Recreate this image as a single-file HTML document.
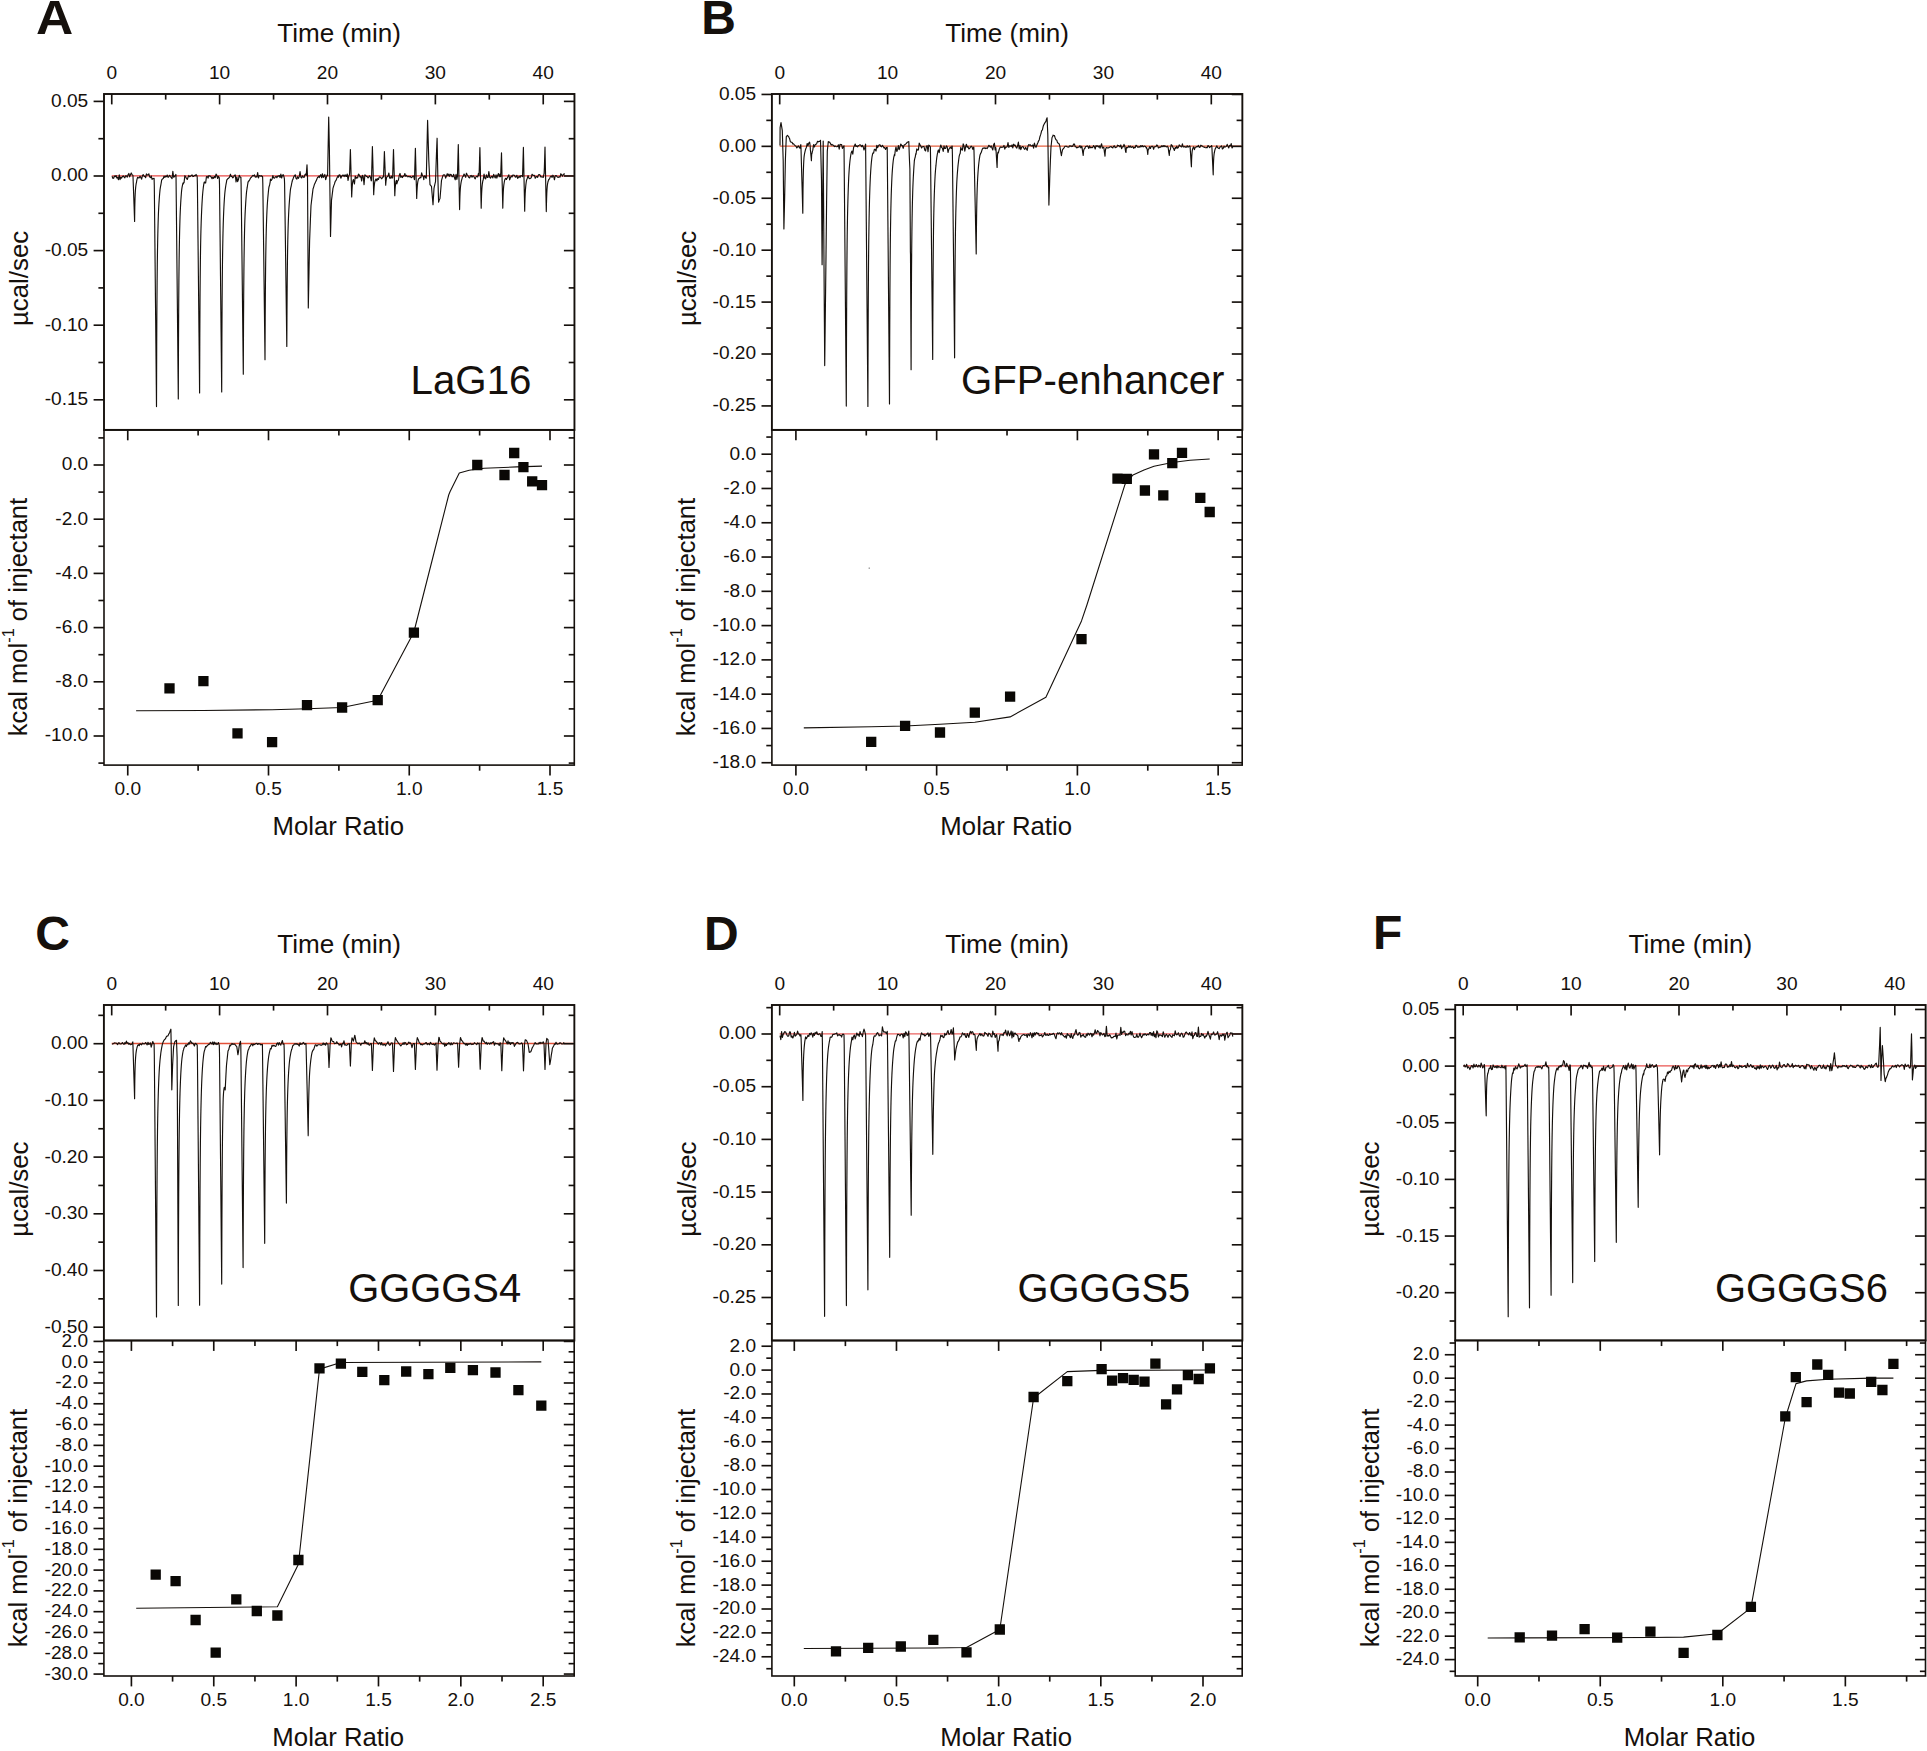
<!DOCTYPE html>
<html><head><meta charset="utf-8"><title>ITC figure</title>
<style>
html,body{margin:0;padding:0;background:#fff;}
body{width:1927px;height:1751px;overflow:hidden;}
svg{display:block;}
svg text{font-family:"Liberation Sans",Arial,Helvetica,sans-serif;fill:#15100c;}
</style></head><body>
<svg width="1927" height="1751" viewBox="0 0 1927 1751">
<rect width="1927" height="1751" fill="#ffffff"/>
<rect x="104" y="429.9" width="470.3" height="335.2" fill="none" stroke="#15100c" stroke-width="1.6"/>
<rect x="104" y="94" width="470.45" height="335.9" fill="none" stroke="#15100c" stroke-width="1.9"/>
<line x1="111.75" y1="175.8" x2="573.3" y2="175.8" stroke="#e84846" stroke-width="1.3"/>
<line x1="111.75" y1="94" x2="111.75" y2="104.4" stroke="#15100c" stroke-width="1.65"/>
<text x="111.75" y="79.3" font-size="19.1" text-anchor="middle">0</text>
<line x1="165.69" y1="94" x2="165.69" y2="99.6" stroke="#15100c" stroke-width="1.65"/>
<line x1="219.62" y1="94" x2="219.62" y2="104.4" stroke="#15100c" stroke-width="1.65"/>
<text x="219.62" y="79.3" font-size="19.1" text-anchor="middle">10</text>
<line x1="273.56" y1="94" x2="273.56" y2="99.6" stroke="#15100c" stroke-width="1.65"/>
<line x1="327.49" y1="94" x2="327.49" y2="104.4" stroke="#15100c" stroke-width="1.65"/>
<text x="327.49" y="79.3" font-size="19.1" text-anchor="middle">20</text>
<line x1="381.43" y1="94" x2="381.43" y2="99.6" stroke="#15100c" stroke-width="1.65"/>
<line x1="435.36" y1="94" x2="435.36" y2="104.4" stroke="#15100c" stroke-width="1.65"/>
<text x="435.36" y="79.3" font-size="19.1" text-anchor="middle">30</text>
<line x1="489.3" y1="94" x2="489.3" y2="99.6" stroke="#15100c" stroke-width="1.65"/>
<line x1="543.23" y1="94" x2="543.23" y2="104.4" stroke="#15100c" stroke-width="1.65"/>
<text x="543.23" y="79.3" font-size="19.1" text-anchor="middle">40</text>
<line x1="93.6" y1="101.4" x2="104" y2="101.4" stroke="#15100c" stroke-width="1.65"/>
<line x1="563.9" y1="101.4" x2="574.3" y2="101.4" stroke="#15100c" stroke-width="1.65"/>
<text x="88.2" y="106.85" font-size="19.1" text-anchor="end">0.05</text>
<line x1="93.6" y1="176" x2="104" y2="176" stroke="#15100c" stroke-width="1.65"/>
<line x1="563.9" y1="176" x2="574.3" y2="176" stroke="#15100c" stroke-width="1.65"/>
<text x="88.2" y="181.45" font-size="19.1" text-anchor="end">0.00</text>
<line x1="93.6" y1="250.6" x2="104" y2="250.6" stroke="#15100c" stroke-width="1.65"/>
<line x1="563.9" y1="250.6" x2="574.3" y2="250.6" stroke="#15100c" stroke-width="1.65"/>
<text x="88.2" y="256.05" font-size="19.1" text-anchor="end">-0.05</text>
<line x1="93.6" y1="325.2" x2="104" y2="325.2" stroke="#15100c" stroke-width="1.65"/>
<line x1="563.9" y1="325.2" x2="574.3" y2="325.2" stroke="#15100c" stroke-width="1.65"/>
<text x="88.2" y="330.65" font-size="19.1" text-anchor="end">-0.10</text>
<line x1="93.6" y1="399.8" x2="104" y2="399.8" stroke="#15100c" stroke-width="1.65"/>
<line x1="563.9" y1="399.8" x2="574.3" y2="399.8" stroke="#15100c" stroke-width="1.65"/>
<text x="88.2" y="405.25" font-size="19.1" text-anchor="end">-0.15</text>
<line x1="98.4" y1="138.7" x2="104" y2="138.7" stroke="#15100c" stroke-width="1.65"/>
<line x1="568.7" y1="138.7" x2="574.3" y2="138.7" stroke="#15100c" stroke-width="1.65"/>
<line x1="98.4" y1="213.3" x2="104" y2="213.3" stroke="#15100c" stroke-width="1.65"/>
<line x1="568.7" y1="213.3" x2="574.3" y2="213.3" stroke="#15100c" stroke-width="1.65"/>
<line x1="98.4" y1="287.9" x2="104" y2="287.9" stroke="#15100c" stroke-width="1.65"/>
<line x1="568.7" y1="287.9" x2="574.3" y2="287.9" stroke="#15100c" stroke-width="1.65"/>
<line x1="98.4" y1="362.5" x2="104" y2="362.5" stroke="#15100c" stroke-width="1.65"/>
<line x1="568.7" y1="362.5" x2="574.3" y2="362.5" stroke="#15100c" stroke-width="1.65"/>
<line x1="127.75" y1="429.9" x2="127.75" y2="440.3" stroke="#15100c" stroke-width="1.65"/>
<line x1="127.75" y1="765.1" x2="127.75" y2="775.5" stroke="#15100c" stroke-width="1.65"/>
<text x="127.75" y="795.2" font-size="19.1" text-anchor="middle">0.0</text>
<line x1="198.12" y1="429.9" x2="198.12" y2="435.5" stroke="#15100c" stroke-width="1.65"/>
<line x1="198.12" y1="765.1" x2="198.12" y2="770.7" stroke="#15100c" stroke-width="1.65"/>
<line x1="268.5" y1="429.9" x2="268.5" y2="440.3" stroke="#15100c" stroke-width="1.65"/>
<line x1="268.5" y1="765.1" x2="268.5" y2="775.5" stroke="#15100c" stroke-width="1.65"/>
<text x="268.5" y="795.2" font-size="19.1" text-anchor="middle">0.5</text>
<line x1="338.88" y1="429.9" x2="338.88" y2="435.5" stroke="#15100c" stroke-width="1.65"/>
<line x1="338.88" y1="765.1" x2="338.88" y2="770.7" stroke="#15100c" stroke-width="1.65"/>
<line x1="409.25" y1="429.9" x2="409.25" y2="440.3" stroke="#15100c" stroke-width="1.65"/>
<line x1="409.25" y1="765.1" x2="409.25" y2="775.5" stroke="#15100c" stroke-width="1.65"/>
<text x="409.25" y="795.2" font-size="19.1" text-anchor="middle">1.0</text>
<line x1="479.62" y1="429.9" x2="479.62" y2="435.5" stroke="#15100c" stroke-width="1.65"/>
<line x1="479.62" y1="765.1" x2="479.62" y2="770.7" stroke="#15100c" stroke-width="1.65"/>
<line x1="550" y1="429.9" x2="550" y2="440.3" stroke="#15100c" stroke-width="1.65"/>
<line x1="550" y1="765.1" x2="550" y2="775.5" stroke="#15100c" stroke-width="1.65"/>
<text x="550" y="795.2" font-size="19.1" text-anchor="middle">1.5</text>
<line x1="93.6" y1="465" x2="104" y2="465" stroke="#15100c" stroke-width="1.65"/>
<line x1="563.9" y1="465" x2="574.3" y2="465" stroke="#15100c" stroke-width="1.65"/>
<text x="88.2" y="470.45" font-size="19.1" text-anchor="end">0.0</text>
<line x1="93.6" y1="519.2" x2="104" y2="519.2" stroke="#15100c" stroke-width="1.65"/>
<line x1="563.9" y1="519.2" x2="574.3" y2="519.2" stroke="#15100c" stroke-width="1.65"/>
<text x="88.2" y="524.65" font-size="19.1" text-anchor="end">-2.0</text>
<line x1="93.6" y1="573.4" x2="104" y2="573.4" stroke="#15100c" stroke-width="1.65"/>
<line x1="563.9" y1="573.4" x2="574.3" y2="573.4" stroke="#15100c" stroke-width="1.65"/>
<text x="88.2" y="578.85" font-size="19.1" text-anchor="end">-4.0</text>
<line x1="93.6" y1="627.6" x2="104" y2="627.6" stroke="#15100c" stroke-width="1.65"/>
<line x1="563.9" y1="627.6" x2="574.3" y2="627.6" stroke="#15100c" stroke-width="1.65"/>
<text x="88.2" y="633.05" font-size="19.1" text-anchor="end">-6.0</text>
<line x1="93.6" y1="681.8" x2="104" y2="681.8" stroke="#15100c" stroke-width="1.65"/>
<line x1="563.9" y1="681.8" x2="574.3" y2="681.8" stroke="#15100c" stroke-width="1.65"/>
<text x="88.2" y="687.25" font-size="19.1" text-anchor="end">-8.0</text>
<line x1="93.6" y1="736" x2="104" y2="736" stroke="#15100c" stroke-width="1.65"/>
<line x1="563.9" y1="736" x2="574.3" y2="736" stroke="#15100c" stroke-width="1.65"/>
<text x="88.2" y="741.45" font-size="19.1" text-anchor="end">-10.0</text>
<line x1="98.4" y1="437.9" x2="104" y2="437.9" stroke="#15100c" stroke-width="1.65"/>
<line x1="568.7" y1="437.9" x2="574.3" y2="437.9" stroke="#15100c" stroke-width="1.65"/>
<line x1="98.4" y1="492.1" x2="104" y2="492.1" stroke="#15100c" stroke-width="1.65"/>
<line x1="568.7" y1="492.1" x2="574.3" y2="492.1" stroke="#15100c" stroke-width="1.65"/>
<line x1="98.4" y1="546.3" x2="104" y2="546.3" stroke="#15100c" stroke-width="1.65"/>
<line x1="568.7" y1="546.3" x2="574.3" y2="546.3" stroke="#15100c" stroke-width="1.65"/>
<line x1="98.4" y1="600.5" x2="104" y2="600.5" stroke="#15100c" stroke-width="1.65"/>
<line x1="568.7" y1="600.5" x2="574.3" y2="600.5" stroke="#15100c" stroke-width="1.65"/>
<line x1="98.4" y1="654.7" x2="104" y2="654.7" stroke="#15100c" stroke-width="1.65"/>
<line x1="568.7" y1="654.7" x2="574.3" y2="654.7" stroke="#15100c" stroke-width="1.65"/>
<line x1="98.4" y1="708.9" x2="104" y2="708.9" stroke="#15100c" stroke-width="1.65"/>
<line x1="568.7" y1="708.9" x2="574.3" y2="708.9" stroke="#15100c" stroke-width="1.65"/>
<line x1="98.4" y1="763.1" x2="104" y2="763.1" stroke="#15100c" stroke-width="1.65"/>
<line x1="568.7" y1="763.1" x2="574.3" y2="763.1" stroke="#15100c" stroke-width="1.65"/>
<text x="339.2" y="41.9" font-size="26.1" text-anchor="middle">Time (min)</text>
<text x="338.3" y="834.9" font-size="25.75" text-anchor="middle">Molar Ratio</text>
<text x="27.8" y="326" font-size="25.8" transform="rotate(-90 27.8 326)">µcal/sec</text>
<text x="27.4" y="736.3" font-size="25.5" transform="rotate(-90 27.4 736.3)">kcal mol<tspan font-size="16.3" dy="-13.7">-1</tspan><tspan dy="13.7"> of injectant</tspan></text>
<text transform="translate(35.9 34) scale(1.075 1)" font-size="48" font-weight="bold">A</text>
<text x="410.5" y="393.8" font-size="40.3">LaG16</text>
<path d="M112.05 176.19 L112.85 178.32 L113.65 178.23 L114.45 176 L115.25 176.53 L116.05 175.52 L116.85 178.01 L117.65 177.33 L118.45 179.71 L119.25 174.85 L120.05 179.69 L120.85 177.18 L121.65 178.03 L122.45 176.53 L123.25 175.94 L124.05 177.02 L124.85 177.81 L125.65 175.8 L126.45 175.94 L127.25 177.19 L128.05 174.73 L128.85 173.45 L129.65 176.84 L130.45 174.8 L131.25 172.97 L131.6 173.68 L131.8 174.08 L132 174.48 L132.05 174.58 L132.2 174.69 L132.4 174.84 L132.6 174.99 L132.8 175.14 L132.85 175.17 L133 176.22 L133.2 181.96 L133.4 187.28 L133.6 192.73 L133.65 194.11 L133.75 196.91 L133.8 198.31 L134 203.97 L134.2 209.69 L134.4 215.45 L134.45 216.89 L134.6 221.43 L134.8 207.03 L135 198.86 L135.2 193.87 L135.25 192.93 L135.4 190.51 L135.6 188.08 L135.8 186.24 L135.9 185.47 L136 184.79 L136.05 184.47 L136.2 183.43 L136.4 182.84 L136.6 181.52 L136.8 180.35 L136.85 180.07 L137 179.45 L137.2 178.7 L137.4 178.04 L137.6 177.45 L137.65 177.31 L137.8 177.36 L138 177.46 L138.2 177.62 L138.4 177.8 L138.45 177.85 L138.6 177.83 L138.8 177.82 L139 177.83 L139.2 177.86 L139.25 177.87 L139.4 177.54 L139.6 177.1 L139.8 176.68 L140 176.27 L140.05 176.17 L140.2 176.43 L140.4 176.79 L140.6 177.15 L140.8 177.52 L140.85 177.61 L141 177.89 L141.2 178.26 L141.4 178.64 L141.6 179.02 L141.65 179.11 L141.8 178.45 L142 177.57 L142.2 176.69 L142.4 175.82 L142.45 175.6 L142.6 175.41 L142.8 175.16 L143 174.92 L143.2 174.67 L143.25 174.61 L143.4 174.94 L144.05 176.38 L144.85 176.41 L145.65 177.68 L146.45 173.94 L147.25 175.02 L148.05 174.86 L148.85 173.81 L149.65 176.91 L150.45 177.7 L151.25 175.95 L152.05 179.39 L152.85 178.56 L153.5 178.64 L153.65 178.66 L153.7 178.62 L153.9 178.46 L154.1 178.29 L154.3 185.31 L154.45 199.13 L154.5 203.87 L154.7 223.21 L154.9 242.95 L155.1 262.97 L155.25 278.14 L155.3 283.11 L155.5 303.12 L155.65 318.24 L155.7 323.29 L155.9 343.6 L156.05 358.91 L156.1 364.18 L156.3 385.32 L156.5 406.56 L156.7 346.85 L156.85 316.61 L156.9 308.39 L157.1 282.37 L157.3 263.98 L157.5 250.33 L157.65 242.17 L157.7 239.67 L157.8 235.04 L157.9 230.84 L158.1 223.48 L158.3 217.21 L158.45 213.08 L158.5 211.94 L158.7 207.79 L158.9 204.2 L159.1 201.1 L159.25 199.05 L159.3 198.32 L159.5 195.61 L159.7 193.22 L159.9 191.1 L160.05 189.66 L160.1 189.29 L160.3 187.92 L160.5 186.73 L160.7 185.7 L160.85 185.03 L160.9 184.71 L161.1 183.51 L161.3 182.41 L161.5 181.17 L161.65 180.13 L161.7 180.03 L161.9 179.67 L162.1 179.38 L162.3 179.15 L162.45 179.01 L162.5 178.96 L162.7 178.78 L162.9 178.64 L163.1 178.54 L163.25 178.48 L163.3 178.32 L163.5 177.69 L163.7 177.09 L163.9 176.51 L164.05 176.09 L164.1 176.17 L164.3 176.51 L164.5 176.87 L164.7 177.24 L164.85 177.52 L164.9 177.43 L165.1 177.07 L165.3 176.72 L165.65 176.12 L166.45 176.74 L167.25 175.12 L168.05 177.41 L168.85 176.52 L169.65 175.23 L170.45 176.53 L171.25 177.72 L172.05 178.67 L172.85 171.42 L173.65 177.24 L174.45 176.51 L175.25 175.46 L175.3 175.38 L175.5 175.07 L175.7 174.76 L175.9 174.45 L176.05 178.22 L176.1 183.75 L176.3 202.04 L176.5 221 L176.7 240.34 L176.85 255.04 L176.9 259.81 L177.1 279.01 L177.3 298.39 L177.45 313.03 L177.5 317.92 L177.65 332.66 L177.7 337.73 L177.9 358.06 L178.1 378.49 L178.3 399.02 L178.45 353.28 L178.5 341.21 L178.7 304.05 L178.9 279.1 L179.1 261.54 L179.25 251.48 L179.3 248.37 L179.5 237.6 L179.6 233.01 L179.7 228.84 L179.9 221.49 L180.05 216.69 L180.1 215.38 L180.3 210.63 L180.5 206.53 L180.7 202.99 L180.85 200.64 L180.9 199.83 L181.1 196.86 L181.3 194.23 L181.5 191.9 L181.65 190.32 L181.7 189.92 L181.9 188.44 L182.1 187.16 L182.3 186.06 L182.45 185.34 L182.5 185.1 L182.7 184.21 L182.9 183.45 L183.1 182.8 L183.25 183.91 L183.3 183.79 L183.5 183.37 L183.7 183.03 L183.9 182.75 L184.05 182.57 L184.1 182.12 L184.3 180.35 L184.5 178.63 L184.7 176.94 L184.85 175.7 L184.9 175.76 L185.1 175.99 L185.3 176.25 L185.5 176.53 L185.65 176.76 L185.7 176.86 L185.9 177.27 L186.1 177.69 L186.3 178.13 L186.45 178.47 L186.5 178.53 L186.7 178.76 L186.9 179.01 L187.1 179.26 L187.25 179.45 L188.05 177.29 L188.85 175.45 L189.65 176.71 L190.45 176.18 L191.25 175.57 L192.05 174.96 L192.85 176.55 L193.65 176.4 L194.45 175.41 L195.25 175.84 L196.05 174.43 L196.6 175.31 L196.8 175.63 L196.85 175.71 L197 176.21 L197.2 176.88 L197.4 184.59 L197.6 202.28 L197.65 206.82 L197.8 220.32 L198 238.64 L198.2 257.23 L198.4 276.02 L198.45 280.75 L198.6 294.99 L198.75 309.32 L198.8 314.11 L199 333.36 L199.2 352.72 L199.25 357.58 L199.4 372.7 L199.6 392.95 L199.8 337.16 L200 301.39 L200.05 294.53 L200.2 276.9 L200.4 259.37 L200.6 246.3 L200.8 236.11 L200.85 233.9 L200.9 231.9 L201 228.21 L201.2 221.8 L201.4 216.42 L201.6 211.83 L201.65 210.79 L201.8 207.52 L202 203.61 L202.2 200.16 L202.4 197.09 L202.45 196.38 L202.6 194.49 L202.8 192.23 L203 190.22 L203.2 188.44 L203.25 188.03 L203.4 186.84 L203.6 185.42 L203.8 184.14 L204 183 L204.05 182.74 L204.2 182.35 L204.4 181.95 L204.6 182.3 L204.8 182.74 L204.85 182.86 L205 182.79 L205.2 182.76 L205.4 182.79 L205.6 182.86 L205.65 182.89 L205.8 181.68 L206 180.11 L206.2 178.57 L206.4 177.06 L206.45 176.68 L206.6 176.61 L206.8 176.52 L207 176.46 L207.2 176.42 L207.25 176.41 L207.4 176.72 L207.6 177.14 L207.8 177.57 L208 178.02 L208.05 178.13 L208.2 177.65 L208.4 177.02 L208.85 175.62 L209.65 176.02 L210.45 176.11 L211.25 177.13 L212.05 178.71 L212.85 177.08 L213.65 178.33 L214.45 176.41 L215.25 177.66 L216.05 174.03 L216.85 175.37 L217.65 178.53 L218.45 176.32 L218.7 176.74 L218.9 177.07 L219.1 177.41 L219.25 177.66 L219.3 177.65 L219.5 184.58 L219.7 201.94 L219.9 219.95 L220.05 233.7 L220.1 238.35 L220.3 257.11 L220.5 276.07 L220.7 295.21 L220.85 309.66 L220.9 314.44 L221.1 333.66 L221.3 353 L221.5 372.44 L221.65 387.08 L221.7 392.02 L221.9 337.74 L222.1 302.27 L222.3 278.15 L222.45 264.79 L222.5 260.89 L222.7 247.75 L222.9 237.47 L223 233.1 L223.1 229.14 L223.25 223.82 L223.3 222.24 L223.5 216.52 L223.7 211.6 L223.9 207.32 L224.05 204.46 L224.1 203.56 L224.3 200.26 L224.5 197.33 L224.7 194.74 L224.85 192.99 L224.9 192.49 L225.1 190.63 L225.3 189 L225.5 187.56 L225.65 186.61 L225.7 186.26 L225.9 184.99 L226.1 183.85 L226.3 182.83 L226.45 182.14 L226.5 181.96 L226.7 180.3 L226.9 179.89 L227.1 179.55 L227.25 179.34 L227.3 179.27 L227.5 179.02 L227.7 178.81 L227.9 178.66 L228.05 178.57 L228.1 178.52 L228.3 178.35 L228.5 178.22 L228.7 178.11 L228.85 178.05 L228.9 177.96 L229.1 177.65 L229.3 177.35 L229.5 177.07 L229.65 176.87 L229.7 176.7 L229.9 176.01 L230.1 175.34 L230.3 174.68 L230.45 174.19 L230.5 174.33 L231.25 176.55 L232.05 176.64 L232.85 177.88 L233.65 176.87 L234.45 175.22 L235.25 174.94 L236.05 181.83 L236.85 177.16 L237.65 181.57 L238.45 179.54 L239.25 175.31 L240.05 177.02 L240.3 177.09 L240.5 177.14 L240.7 177.2 L240.85 177.24 L240.9 177.23 L241.1 183.77 L241.3 199.71 L241.5 216.24 L241.65 228.88 L241.7 233.13 L241.9 250.28 L242.1 267.62 L242.3 285.13 L242.45 298.34 L242.5 302.75 L242.7 320.46 L242.9 338.27 L243.1 356.18 L243.25 369.66 L243.3 374.17 L243.5 325.63 L243.7 293.42 L243.9 271.24 L244.05 258.85 L244.1 255.21 L244.3 242.91 L244.5 233.23 L244.6 229.11 L244.7 225.35 L244.85 220.31 L244.9 218.95 L245.1 214.06 L245.3 209.91 L245.5 206.35 L245.65 204 L245.7 203.14 L245.9 199.95 L246.1 197.11 L246.3 194.58 L246.45 192.85 L246.5 192.41 L246.7 190.75 L246.9 189.31 L247.1 188.05 L247.25 187.21 L247.3 186.85 L247.5 185.5 L247.7 184.27 L247.9 183.17 L248.05 182.4 L248.1 182.25 L248.3 181.25 L248.5 181.16 L248.7 181.14 L248.85 181.16 L248.9 181.06 L249.1 180.67 L249.3 180.34 L249.5 180.05 L249.65 179.86 L249.7 179.75 L249.9 179.3 L250.1 178.89 L250.3 178.5 L250.45 178.23 L250.5 178.16 L250.7 177.92 L250.9 177.69 L251.1 177.48 L251.25 177.33 L251.3 177.27 L251.5 177.02 L251.7 176.78 L251.9 176.55 L252.05 176.39 L252.1 176.33 L252.85 175.42 L253.65 175.86 L254.45 174.87 L255.25 177.15 L256.05 176.63 L256.85 177.01 L257.65 172.57 L258.45 177.98 L259.25 175.62 L260.05 175.81 L260.85 176.15 L261.65 175.71 L262 176.23 L262.2 176.53 L262.4 176.83 L262.45 176.9 L262.6 176.59 L262.8 182.9 L263 197.58 L263.2 212.81 L263.25 216.67 L263.4 228.44 L263.6 244.32 L263.8 260.38 L264 276.59 L264.05 280.66 L264.15 288.86 L264.2 292.97 L264.4 309.48 L264.6 326.08 L264.8 342.77 L264.85 346.95 L265 359.73 L265.2 317.35 L265.4 288.61 L265.6 268.5 L265.65 264.43 L265.8 253.6 L266 242.22 L266.2 233.28 L266.3 229.47 L266.4 226.02 L266.45 224.41 L266.6 219.96 L266.8 214.81 L267 210.34 L267.2 206.42 L267.25 205.52 L267.4 203.21 L267.6 200.45 L267.8 198.03 L268 195.88 L268.05 195.38 L268.2 193.7 L268.4 191.64 L268.6 189.77 L268.8 188.08 L268.85 187.68 L269 187.02 L269.2 186.26 L269.4 185.62 L269.6 185.08 L269.65 184.97 L269.8 184.03 L270 182.87 L270.2 181.78 L270.4 179.53 L270.45 179.11 L270.6 179.28 L270.8 179.56 L271 179.89 L271.2 180.27 L271.25 180.37 L271.4 180.11 L271.6 179.8 L271.8 179.52 L272 179.28 L272.05 179.22 L272.2 178.51 L272.4 177.57 L272.6 176.66 L272.8 175.77 L272.85 175.55 L273 175.98 L273.2 176.56 L273.4 177.16 L273.6 177.77 L273.65 177.93 L273.8 177.97 L274.45 178.21 L275.25 177.05 L276.05 176.42 L276.85 177.75 L277.65 176.17 L278.45 176.25 L279.25 175.5 L280.05 177.58 L280.85 174.16 L281.65 178.02 L282.45 175.17 L283.25 174.71 L283.8 176.26 L284 176.83 L284.05 176.97 L284.2 177.79 L284.4 178.88 L284.6 183.72 L284.8 197.84 L284.85 201.46 L285 211.93 L285.2 226.13 L285.4 240.54 L285.6 255.12 L285.65 258.79 L285.8 269.95 L285.95 281.18 L286 284.93 L286.2 300.02 L286.4 315.19 L286.45 319 L286.6 330.71 L286.8 346.4 L287 309.12 L287.2 283.25 L287.25 278.05 L287.4 264.57 L287.6 250.7 L287.8 240.1 L288 231.73 L288.05 229.9 L288.1 228.2 L288.2 225.03 L288.4 219.5 L288.6 214.8 L288.8 210.76 L288.85 209.83 L289 207.22 L289.2 204.11 L289.4 201.34 L289.6 198.88 L289.65 198.3 L289.8 196.42 L290 194.1 L290.2 191.98 L290.4 190.03 L290.45 189.57 L290.6 188.71 L290.8 187.68 L291 186.78 L291.2 186 L291.25 185.82 L291.4 184.98 L291.6 183.95 L291.8 183 L292 182.13 L292.05 181.92 L292.2 181.5 L292.4 180.17 L292.6 179.86 L292.8 179.61 L292.85 179.55 L293 179.05 L293.2 178.42 L293.4 177.82 L293.6 177.26 L293.65 177.13 L293.8 176.85 L294 176.5 L294.2 176.18 L294.4 175.88 L294.45 175.81 L294.6 175.6 L294.8 175.34 L295 175.1 L295.2 174.87 L295.25 174.81 L295.4 175.47 L295.6 176.36 L296.05 178.4 L296.85 179.14 L297.65 176.7 L298.45 178.37 L299.25 176.45 L300.05 171.69 L300.85 177.01 L301.65 177.95 L302.45 175.94 L303.25 177.03 L304.05 177.5 L304.85 174.85 L305.65 174.01 L306.2 175.41 L306.45 172.27 L306.6 170.25 L307 164.87 L307.25 170.31 L307.4 173.63 L307.5 175.84 L307.8 225.33 L308.05 266.57 L308.2 291.44 L308.3 308.02 L308.6 292.62 L308.85 279.79 L309 272.02 L309.4 251.3 L309.6 240.94 L309.65 239.71 L309.8 235.79 L310.2 225.34 L310.45 218.81 L310.6 215.18 L311 205.48 L311.25 203.55 L311.4 202.29 L311.8 198.93 L312.05 196.83 L312.2 195.61 L312.6 192.34 L312.85 190.29 L313 188.99 L313.4 187.84 L313.65 187.12 L313.8 186.6 L314.2 185.21 L314.45 184.34 L314.6 184.02 L315 183.17 L315.25 182.64 L315.4 182.32 L315.8 181.47 L316 181.05 L316.05 181 L316.2 180.66 L316.6 179.74 L316.85 179.17 L317 178.82 L317.4 177.88 L317.65 177.29 L317.8 177.2 L318.2 176.96 L318.45 176.81 L318.6 176.6 L319 176.06 L319.25 177.61 L320.05 176 L320.85 174.65 L321.65 177.78 L322.45 173.73 L323.25 177.48 L324.05 176.14 L324.85 174.47 L325.65 179.75 L326.45 176.97 L327.25 174.81 L327.6 175.58 L328 154.66 L328.05 152.04 L328.4 133.19 L328.7 117.03 L328.8 121.69 L328.85 124.01 L329.2 140.21 L329.4 149.46 L329.6 165.07 L329.65 168.97 L330 196.79 L330.4 228.59 L330.45 232.57 L330.5 236.54 L330.8 225.66 L331.2 211.15 L331.25 209.34 L331.5 200.2 L331.6 199.42 L332 196.31 L332.05 195.92 L332.4 193.07 L332.8 189.81 L332.85 189.4 L333 188.18 L333.2 187.55 L333.6 186.29 L333.65 186.13 L334 185.17 L334.4 184.08 L334.45 183.94 L334.8 182.74 L335 182.06 L335.2 181.55 L335.25 181.42 L335.6 180.97 L336 180.45 L336.05 180.38 L336.4 179.44 L336.8 178.37 L336.85 178.24 L337.2 177.5 L337.6 176.65 L337.65 176.54 L338 175.87 L338.45 177.25 L339.25 174.76 L340.05 174.97 L340.85 178.22 L341.65 176.25 L342.45 175.22 L343.25 176.03 L344.05 174.97 L344.85 176.55 L345.65 174.92 L346.45 176.48 L347.25 174.05 L347.4 175.25 L347.6 176.84 L347.8 178.44 L348 180.03 L348.05 180.43 L348.2 179.54 L348.4 178.36 L348.6 177.18 L348.8 176 L348.85 175.7 L349 175.46 L349.2 175.13 L349.4 174.81 L349.55 174.56 L349.6 172.92 L349.65 172.39 L349.8 167.82 L350 161.72 L350.2 155.63 L350.4 149.53 L350.45 151.39 L350.6 156.84 L350.8 164.1 L351 171.37 L351.2 179.07 L351.25 180.45 L351.4 185.94 L351.6 193.26 L351.7 196.92 L351.8 194.22 L352 190.08 L352.05 189.26 L352.2 186.93 L352.4 184.51 L352.6 182.65 L352.8 181.18 L352.85 180.86 L353 180.39 L353.2 179.93 L353.4 179.61 L353.6 180.63 L353.65 180.77 L353.8 181.31 L354 182.09 L354.2 182.92 L354.4 183.8 L354.45 184.03 L354.6 182.51 L354.8 180.51 L355 178.54 L355.2 176.59 L355.25 176.1 L355.4 176.51 L355.6 177.07 L355.8 177.64 L356 178.22 L356.05 178.37 L356.2 178.16 L356.4 177.89 L356.6 177.63 L356.8 177.38 L356.85 177.32 L357 177.43 L357.2 177.58 L357.4 177.74 L357.6 177.9 L357.65 177.94 L357.8 177.21 L358 176.24 L358.2 175.27 L358.4 174.3 L358.45 174.06 L358.6 174.23 L358.8 174.47 L359 174.7 L359.2 174.94 L359.25 175 L360.05 177.14 L360.85 176.25 L361.65 181.04 L362.45 175.33 L363.25 176.78 L364.05 184.59 L364.85 174.91 L365.65 175.37 L366.45 176.53 L367.25 176.65 L368.05 177.98 L368.85 176.9 L369.4 176.15 L369.6 175.88 L369.65 175.81 L369.8 176.08 L370 176.42 L370.2 176.77 L370.4 177.12 L370.45 177.21 L370.6 177.89 L370.8 178.81 L371 179.73 L371.2 180.64 L371.25 180.87 L371.4 180.53 L371.55 180.18 L371.6 178.32 L371.8 168.37 L372 161.27 L372.05 159.49 L372.2 153.91 L372.4 146.46 L372.6 153.4 L372.8 160.33 L372.85 162.06 L373 167.83 L373.2 174.28 L373.4 183.22 L373.6 190.92 L373.65 192.84 L373.7 194.68 L373.8 192.48 L374 188.96 L374.2 186.33 L374.4 184.33 L374.45 183.91 L374.6 182.96 L374.8 181.98 L375 181.24 L375.2 180.67 L375.25 180.55 L375.4 180.07 L375.6 179.5 L375.8 179.6 L376 179.02 L376.05 178.88 L376.2 179.21 L376.4 179.69 L376.6 180.2 L376.8 180.74 L376.85 180.88 L377 180.44 L377.2 179.86 L377.4 179.31 L377.6 178.77 L377.65 178.64 L377.8 178.78 L378 178.98 L378.2 179.19 L378.4 179.41 L378.45 179.47 L378.6 179.02 L378.8 178.41 L379 177.82 L379.2 177.23 L379.25 177.08 L379.4 177.04 L379.6 176.98 L379.8 176.92 L380 176.87 L380.05 176.85 L380.2 177 L380.4 177.19 L380.6 177.38 L380.8 177.58 L380.85 177.63 L381 177.85 L381.2 178.14 L381.4 178.43 L381.6 178.72 L381.65 178.8 L381.8 178.6 L382 178.34 L382.2 178.08 L382.4 177.81 L382.45 177.75 L382.6 177.44 L382.8 177.02 L383 176.61 L383.2 176.2 L383.25 176.09 L383.4 176.55 L383.55 177.01 L383.6 175.69 L383.8 169.19 L384 163.49 L384.05 162.07 L384.2 157.56 L384.4 151.55 L384.6 156.67 L384.8 161.78 L384.85 163.06 L385 166.97 L385.2 172.19 L385.4 177.81 L385.6 182.63 L385.65 183.93 L385.7 185.22 L385.8 183.64 L386 181.36 L386.2 179.85 L386.4 178.8 L386.45 177.98 L386.6 177.57 L386.8 177.17 L387 176.89 L387.2 176.7 L387.25 176.66 L387.4 176.52 L387.6 176.37 L387.8 176.26 L388 176.17 L388.05 176.15 L388.2 175.54 L388.4 174.74 L388.6 173.95 L388.8 173.18 L388.85 172.99 L389 173.96 L389.2 175.26 L389.4 176.57 L389.6 177.89 L389.65 178.22 L389.8 178.21 L390 178.21 L390.2 178.21 L390.4 178.21 L390.45 178.21 L390.5 178.07 L390.6 177.8 L390.7 177.52 L390.8 177.25 L390.9 176.98 L391 176.7 L391.1 176.43 L391.2 176.16 L391.25 176.02 L391.3 176.16 L391.4 176.44 L391.5 176.71 L391.6 176.99 L391.7 177.27 L391.8 177.54 L391.9 177.82 L392 178.1 L392.05 178.23 L392.1 178.17 L392.2 178.05 L392.3 177.93 L392.4 177.8 L392.5 177.68 L392.6 177.56 L392.65 177.5 L392.7 175.85 L392.8 171.63 L392.85 170.03 L392.9 168.45 L393 165.29 L393.1 162.14 L393.2 158.98 L393.3 155.82 L393.5 149.51 L393.65 155 L393.7 156.73 L393.9 163.63 L394.1 170.54 L394.3 175.93 L394.45 182.64 L394.5 184.52 L394.7 192.03 L394.8 195.79 L394.9 193.22 L395.1 189.33 L395.25 187.21 L395.3 186.58 L395.5 184.53 L395.7 183.02 L395.9 181.89 L396.05 181.23 L396.1 181.1 L396.3 180.67 L396.5 180.39 L396.7 183.43 L396.85 183.91 L396.9 183.71 L397.1 182.94 L397.3 182.23 L397.5 181.56 L397.65 181.08 L397.7 181 L397.9 180.71 L398.1 180.44 L398.3 180.19 L398.45 180.01 L398.5 179.72 L398.7 178.55 L398.9 177.4 L399.1 176.26 L399.25 175.41 L399.3 175.28 L399.5 174.77 L399.7 174.27 L399.9 173.78 L400.05 173.41 L400.1 173.65 L400.3 174.63 L400.5 175.61 L400.7 176.59 L400.85 177.33 L400.9 177.26 L401.1 176.98 L401.3 176.7 L401.5 176.43 L401.65 176.22 L401.7 176.3 L401.9 176.63 L402.1 176.96 L402.3 177.29 L402.45 177.53 L403.25 175.94 L404.05 176.13 L404.85 173.47 L405.65 176.28 L406.45 175.24 L407.25 176.55 L408.05 176.88 L408.85 176.23 L409.65 176.9 L410.45 176.36 L411.25 177.59 L412.05 177.3 L412.4 176.76 L412.6 176.45 L412.8 176.14 L412.85 176.07 L413 176.05 L413.2 176.03 L413.4 176.01 L413.6 175.98 L413.65 175.98 L413.8 176.67 L414 177.6 L414.2 178.52 L414.4 179.44 L414.45 179.68 L414.55 179.32 L414.6 177.5 L414.8 168.5 L415 161.7 L415.2 154.9 L415.25 153.2 L415.4 148.34 L415.6 156.15 L415.8 163.95 L416 171.76 L416.05 175.38 L416.2 180.95 L416.4 187.04 L416.6 194.66 L416.7 198.46 L416.8 195.51 L416.85 194.22 L417 190.92 L417.2 187.61 L417.4 185.17 L417.6 183.32 L417.65 182.93 L417.8 181.97 L418 180.93 L418.2 180.11 L418.4 179.44 L418.45 179.29 L418.6 178.97 L418.8 178.56 L419 178.49 L419.2 178.48 L419.25 178.48 L419.4 178.26 L419.6 178 L419.8 177.78 L420 177.58 L420.05 177.53 L420.2 177.56 L420.4 177.62 L420.6 177.69 L420.8 177.78 L420.85 177.8 L421 176.86 L421.2 175.62 L421.4 174.39 L421.6 173.17 L421.65 172.87 L421.8 173.37 L422 174.05 L422.2 174.74 L422.4 175.43 L422.45 175.6 L422.6 175.74 L422.8 175.93 L423 176.13 L423.2 176.32 L423.25 176.37 L423.4 177.28 L423.6 178.49 L423.8 179.71 L424 177.12 L424.05 177.27 L424.2 176.96 L424.4 176.56 L424.8 175.75 L424.85 175.65 L425.2 176.56 L425.6 177.61 L425.65 177.74 L426 177.97 L426.3 178.17 L426.4 173.67 L426.45 171.42 L426.8 156.02 L427.2 138.41 L427.25 136.21 L427.6 120.41 L428 133.53 L428.05 135.17 L428.4 147.01 L428.8 160.55 L428.85 161.57 L429.2 168.8 L429.6 177.06 L429.65 178.1 L430 184.83 L430.4 185.06 L430.45 185.09 L430.8 185.54 L431.2 186.05 L431.25 186.11 L431.5 186.45 L431.6 187.7 L432 192.7 L432.05 193.32 L432.4 197.48 L432.8 202.23 L432.85 202.82 L433 204.77 L433.2 201.54 L433.6 195.09 L433.65 194.28 L434 188.27 L434.4 186.47 L434.45 186.25 L434.8 184.7 L435.2 182.94 L435.25 182.72 L435.5 181.81 L435.6 178.94 L436 167.46 L436.05 166.03 L436.4 155.78 L436.6 149.92 L436.8 145.16 L436.85 143.97 L437.1 138.2 L437.2 143.51 L437.6 164.76 L437.65 167.41 L437.8 175.24 L438 181.98 L438.4 195.47 L438.45 197.15 L438.6 202.21 L438.8 201.52 L439.2 200.13 L439.25 199.96 L439.6 199.24 L440 198.42 L440.05 197.87 L440.4 193.75 L440.8 189.04 L440.85 188.45 L441.2 184.11 L441.5 180.39 L441.6 180.06 L441.65 179.89 L442 178.75 L442.4 177.44 L442.45 177.28 L442.8 176.1 L443 175.43 L443.25 175.09 L444.05 174.8 L444.85 175.07 L445.65 178.09 L446.45 176.04 L447.25 173.7 L448.05 175.89 L448.85 174.04 L449.65 176.4 L450.45 174.43 L451.25 174.59 L452.05 176.76 L452.85 176.64 L453.65 174.25 L454.45 177.77 L455.25 179.79 L455.3 179.45 L455.5 178.09 L455.7 176.74 L455.9 175.38 L456.05 174.37 L456.1 174.68 L456.3 175.92 L456.5 177.16 L456.7 178.4 L456.85 179.33 L456.9 179.09 L457.1 178.15 L457.3 177.2 L457.45 176.5 L457.5 174.42 L457.65 168.5 L457.7 166.66 L457.9 159.3 L458.1 151.94 L458.3 144.58 L458.45 152.09 L458.5 154.61 L458.7 164.66 L458.9 174.65 L459.1 184.77 L459.25 192.31 L459.3 194.78 L459.5 204.64 L459.6 209.57 L459.7 204.67 L459.9 197.27 L460.05 193.22 L460.1 192.2 L460.3 188.93 L460.5 186.63 L460.7 184.99 L460.85 184.06 L460.9 183.69 L461.1 182.41 L461.3 181.35 L461.5 180.48 L461.65 179.91 L461.7 179.73 L461.9 179.08 L462.1 178.32 L462.3 177.52 L462.45 176.96 L462.5 176.91 L462.7 176.74 L462.9 176.6 L463.1 176.5 L463.25 176.44 L463.3 176.28 L463.5 175.65 L463.7 175.03 L463.9 174.44 L464.05 174 L464.1 174.1 L464.3 174.48 L464.5 174.88 L464.7 175.28 L464.85 175.59 L464.9 175.7 L465.1 176.12 L465.3 176.56 L465.5 177 L465.65 177.33 L465.7 177.07 L465.9 176.03 L466.1 175 L466.3 173.97 L466.45 173.2 L466.5 173.29 L466.7 173.66 L466.9 174.03 L467.1 174.41 L467.25 174.69 L468.05 176.05 L468.85 177.59 L469.65 177.98 L470.45 175.72 L471.25 175.44 L472.05 177.19 L472.85 175.83 L473.65 176.07 L474.45 177.88 L475.25 178.91 L476.05 176.67 L476.85 176.33 L476.9 176.37 L477.1 176.54 L477.3 176.7 L477.5 176.87 L477.65 177 L477.7 176.77 L477.9 175.87 L478.1 174.97 L478.3 174.07 L478.45 173.39 L478.5 173.57 L478.7 174.28 L478.9 174.99 L479.05 175.53 L479.1 174.06 L479.25 169.48 L479.3 167.81 L479.5 161.09 L479.7 154.38 L479.9 147.67 L480.05 154.43 L480.1 156.81 L480.3 166.33 L480.5 176.84 L480.7 185.36 L480.85 192.5 L480.9 194.74 L481.1 203.72 L481.2 208.22 L481.3 203.66 L481.5 196.77 L481.65 193 L481.7 191.97 L481.9 188.59 L482.1 186.11 L482.3 184.24 L482.45 183.12 L482.5 182.79 L482.7 181.66 L482.9 180.74 L483.1 179.98 L483.25 179.5 L483.3 179.29 L483.5 177.79 L483.7 176.42 L483.9 175.11 L484.05 174.16 L484.1 174.4 L484.3 175.38 L484.5 176.39 L484.7 177.44 L484.85 178.24 L484.9 178.27 L485.1 178.39 L485.3 178.54 L485.5 178.7 L485.65 178.83 L485.7 178.57 L485.9 177.56 L486.1 176.56 L486.3 175.57 L486.45 174.83 L486.5 174.98 L486.7 175.61 L486.9 176.24 L487.1 176.87 L487.25 177.35 L487.3 177.35 L487.5 177.36 L487.7 177.37 L487.9 177.38 L488.05 177.39 L488.1 177.03 L488.3 175.58 L488.5 174.14 L488.7 172.69 L488.85 171.61 L489.65 177.18 L490.45 178.15 L491.25 176.63 L492.05 176.23 L492.85 177.88 L493.65 174.32 L494.45 176.45 L495.25 177.94 L496.05 174.78 L496.85 178.13 L497.65 175.39 L498.45 173.56 L498.5 173.76 L498.7 174.55 L498.9 175.35 L499.1 176.15 L499.25 176.75 L499.3 176.58 L499.5 175.92 L499.7 175.25 L499.9 174.59 L500.05 174.09 L500.1 174.31 L500.3 175.2 L500.5 176.09 L500.65 176.76 L500.7 175.62 L500.85 171.04 L500.9 169.63 L501.1 164.01 L501.3 158.39 L501.5 152.77 L501.65 158.95 L501.7 161.14 L501.9 169.9 L502.1 180.18 L502.3 187.41 L502.45 193.98 L502.5 196 L502.7 204.09 L502.8 208.13 L502.9 203.5 L503.1 196.45 L503.25 192.56 L503.3 191.58 L503.5 188.42 L503.7 186.16 L503.9 184.51 L504.05 183.56 L504.1 183.21 L504.3 181.99 L504.5 180.98 L504.7 180.14 L504.85 179.6 L504.9 179.46 L505.1 179.3 L505.3 178.87 L505.5 178.5 L505.65 178.26 L505.7 178.32 L505.9 178.58 L506.1 178.87 L506.3 179.2 L506.45 179.46 L506.5 179.35 L506.7 178.94 L506.9 178.54 L507.1 178.16 L507.25 177.88 L507.3 177.78 L507.5 177.38 L507.7 177 L507.9 176.62 L508.05 176.34 L508.1 176.24 L508.3 175.85 L508.5 175.46 L508.7 175.07 L508.85 174.79 L508.9 175.1 L509.1 176.37 L509.3 177.63 L509.5 178.9 L509.65 179.86 L509.7 179.72 L509.9 179.16 L510.1 178.61 L510.3 178.05 L510.45 177.64 L511.25 175.95 L512.05 176.99 L512.85 175.03 L513.65 175.17 L514.45 175.22 L515.25 177.09 L516.05 176.94 L516.85 175.26 L517.65 178.42 L518.45 177.4 L519.25 176.13 L520.05 177.53 L520.4 176.66 L520.6 176.17 L520.8 175.68 L520.85 175.56 L521 175.6 L521.2 175.67 L521.4 175.73 L521.6 175.79 L521.65 175.81 L521.8 175.94 L522 176.13 L522.2 176.31 L522.4 176.49 L522.45 176.54 L522.55 176.45 L522.6 174.72 L522.8 167.65 L523 160.87 L523.2 154.08 L523.25 152.39 L523.4 147.44 L523.6 157.43 L523.8 167.42 L524 178.41 L524.05 179.91 L524.2 187.12 L524.4 196.73 L524.6 206.35 L524.7 211.15 L524.8 205.97 L524.85 203.73 L525 198.53 L525.2 193.56 L525.4 190.12 L525.6 187.69 L525.65 187.2 L525.8 185.53 L526 183.71 L526.2 182.22 L526.4 180.99 L526.45 180.71 L526.6 180.16 L526.8 179.56 L527 179.06 L527.2 178.51 L527.25 178.46 L527.4 177.87 L527.6 177.14 L527.8 176.46 L528 175.82 L528.05 175.66 L528.2 176.07 L528.4 176.64 L528.6 177.24 L528.8 177.85 L528.85 178.01 L529 178.13 L529.2 178.3 L529.4 178.49 L529.6 178.69 L529.65 178.74 L529.8 178.65 L530 178.54 L530.2 178.44 L530.4 178.34 L530.45 178.32 L530.6 178.2 L530.8 178.04 L531 177.88 L531.2 177.73 L531.25 177.7 L531.4 177.04 L531.6 176.17 L531.8 175.31 L532 174.44 L532.05 174.23 L532.2 174.41 L532.85 175.24 L533.65 175.4 L534.45 175.32 L535.25 178.26 L536.05 176.87 L536.85 176.5 L537.65 177.36 L538.45 174.8 L539.25 174.61 L540.05 174.98 L540.85 176.92 L541.65 176.78 L542 176.87 L542.2 176.91 L542.4 176.96 L542.45 176.98 L542.6 177.06 L542.8 177.16 L543 177.27 L543.2 177.37 L543.25 177.4 L543.4 176.67 L543.6 175.7 L543.8 174.73 L544 173.76 L544.05 173.52 L544.15 173.69 L544.2 172.09 L544.4 167.02 L544.6 160.4 L544.8 153.77 L544.85 152.12 L545 147.13 L545.2 157.17 L545.4 167.2 L545.6 177.17 L545.65 179.74 L545.8 187.09 L546 196.89 L546.2 206.69 L546.3 211.59 L546.4 206.37 L546.45 204.11 L546.6 198.64 L546.8 193.33 L547 189.58 L547.2 186.86 L547.25 186.3 L547.4 184.99 L547.6 183.66 L547.8 182.68 L548 181.94 L548.05 181.79 L548.2 181.12 L548.4 180.34 L548.6 179.68 L548.8 179.9 L548.85 179.71 L549 179.42 L549.2 179.08 L549.4 178.79 L549.6 178.54 L549.65 178.49 L549.8 178.1 L550 177.6 L550.2 177.13 L550.4 176.68 L550.45 176.57 L550.6 176.44 L550.8 176.27 L551 176.11 L551.2 175.97 L551.25 175.93 L551.4 176.2 L551.6 176.55 L551.8 176.92 L552 177.29 L552.05 177.38 L552.2 176.97 L552.4 176.43 L552.6 175.89 L552.8 175.35 L552.85 175.21 L553 175.42 L553.2 175.7 L553.4 175.98 L553.6 176.26 L553.65 176.33 L553.8 176.97 L554.45 179.77 L555.25 175.76 L556.05 175.47 L556.85 176.43 L557.65 177.25 L558.45 177.32 L559.25 176.76 L560.05 177.12 L560.85 173.69 L561.65 174.92 L562.45 176.2 L563.25 174.54 L564.05 173.91 L564.85 174.22" fill="none" stroke="#15100c" stroke-width="1.15" stroke-linejoin="round"/>
<polyline points="136.1,710.7 203.4,710.5 272.1,709.7 307,708.8 342.1,707.5 377.7,700.2 410.1,639.2 413.9,632 432.2,560 448.7,495 450,491.7 459.3,473 469.2,470.2 484.1,468.3 516.8,466.9 542,466.1" fill="none" stroke="#15100c" stroke-width="1.1" stroke-linejoin="round"/>
<path d="M164.35 683.15h10.3v10.3h-10.3zM198.25 675.95h10.3v10.3h-10.3zM232.35 728.25h10.3v10.3h-10.3zM266.95 736.95h10.3v10.3h-10.3zM301.85 700.05h10.3v10.3h-10.3zM336.95 702.35h10.3v10.3h-10.3zM372.55 695.05h10.3v10.3h-10.3zM408.75 627.55h10.3v10.3h-10.3zM472.15 459.85h10.3v10.3h-10.3zM499.35 469.85h10.3v10.3h-10.3zM509.05 447.85h10.3v10.3h-10.3zM518.25 462.05h10.3v10.3h-10.3zM527.05 476.25h10.3v10.3h-10.3zM536.85 479.95h10.3v10.3h-10.3z" fill="#0a0805"/>
<rect x="771.9" y="429.9" width="470.3" height="335.2" fill="none" stroke="#15100c" stroke-width="1.6"/>
<rect x="771.9" y="94" width="470.45" height="335.9" fill="none" stroke="#15100c" stroke-width="1.9"/>
<line x1="779.7" y1="146.15" x2="1241.2" y2="146.15" stroke="#e4603f" stroke-width="1.3"/>
<line x1="779.7" y1="94" x2="779.7" y2="104.4" stroke="#15100c" stroke-width="1.65"/>
<text x="779.7" y="79.3" font-size="19.1" text-anchor="middle">0</text>
<line x1="833.65" y1="94" x2="833.65" y2="99.6" stroke="#15100c" stroke-width="1.65"/>
<line x1="887.6" y1="94" x2="887.6" y2="104.4" stroke="#15100c" stroke-width="1.65"/>
<text x="887.6" y="79.3" font-size="19.1" text-anchor="middle">10</text>
<line x1="941.55" y1="94" x2="941.55" y2="99.6" stroke="#15100c" stroke-width="1.65"/>
<line x1="995.5" y1="94" x2="995.5" y2="104.4" stroke="#15100c" stroke-width="1.65"/>
<text x="995.5" y="79.3" font-size="19.1" text-anchor="middle">20</text>
<line x1="1049.45" y1="94" x2="1049.45" y2="99.6" stroke="#15100c" stroke-width="1.65"/>
<line x1="1103.4" y1="94" x2="1103.4" y2="104.4" stroke="#15100c" stroke-width="1.65"/>
<text x="1103.4" y="79.3" font-size="19.1" text-anchor="middle">30</text>
<line x1="1157.35" y1="94" x2="1157.35" y2="99.6" stroke="#15100c" stroke-width="1.65"/>
<line x1="1211.3" y1="94" x2="1211.3" y2="104.4" stroke="#15100c" stroke-width="1.65"/>
<text x="1211.3" y="79.3" font-size="19.1" text-anchor="middle">40</text>
<line x1="761.5" y1="94.44" x2="771.9" y2="94.44" stroke="#15100c" stroke-width="1.65"/>
<line x1="1231.8" y1="94.44" x2="1242.2" y2="94.44" stroke="#15100c" stroke-width="1.65"/>
<text x="756.1" y="99.89" font-size="19.1" text-anchor="end">0.05</text>
<line x1="761.5" y1="146.35" x2="771.9" y2="146.35" stroke="#15100c" stroke-width="1.65"/>
<line x1="1231.8" y1="146.35" x2="1242.2" y2="146.35" stroke="#15100c" stroke-width="1.65"/>
<text x="756.1" y="151.8" font-size="19.1" text-anchor="end">0.00</text>
<line x1="761.5" y1="198.26" x2="771.9" y2="198.26" stroke="#15100c" stroke-width="1.65"/>
<line x1="1231.8" y1="198.26" x2="1242.2" y2="198.26" stroke="#15100c" stroke-width="1.65"/>
<text x="756.1" y="203.71" font-size="19.1" text-anchor="end">-0.05</text>
<line x1="761.5" y1="250.18" x2="771.9" y2="250.18" stroke="#15100c" stroke-width="1.65"/>
<line x1="1231.8" y1="250.18" x2="1242.2" y2="250.18" stroke="#15100c" stroke-width="1.65"/>
<text x="756.1" y="255.63" font-size="19.1" text-anchor="end">-0.10</text>
<line x1="761.5" y1="302.09" x2="771.9" y2="302.09" stroke="#15100c" stroke-width="1.65"/>
<line x1="1231.8" y1="302.09" x2="1242.2" y2="302.09" stroke="#15100c" stroke-width="1.65"/>
<text x="756.1" y="307.54" font-size="19.1" text-anchor="end">-0.15</text>
<line x1="761.5" y1="354.01" x2="771.9" y2="354.01" stroke="#15100c" stroke-width="1.65"/>
<line x1="1231.8" y1="354.01" x2="1242.2" y2="354.01" stroke="#15100c" stroke-width="1.65"/>
<text x="756.1" y="359.46" font-size="19.1" text-anchor="end">-0.20</text>
<line x1="761.5" y1="405.92" x2="771.9" y2="405.92" stroke="#15100c" stroke-width="1.65"/>
<line x1="1231.8" y1="405.92" x2="1242.2" y2="405.92" stroke="#15100c" stroke-width="1.65"/>
<text x="756.1" y="411.37" font-size="19.1" text-anchor="end">-0.25</text>
<line x1="766.3" y1="120.39" x2="771.9" y2="120.39" stroke="#15100c" stroke-width="1.65"/>
<line x1="1236.6" y1="120.39" x2="1242.2" y2="120.39" stroke="#15100c" stroke-width="1.65"/>
<line x1="766.3" y1="172.31" x2="771.9" y2="172.31" stroke="#15100c" stroke-width="1.65"/>
<line x1="1236.6" y1="172.31" x2="1242.2" y2="172.31" stroke="#15100c" stroke-width="1.65"/>
<line x1="766.3" y1="224.22" x2="771.9" y2="224.22" stroke="#15100c" stroke-width="1.65"/>
<line x1="1236.6" y1="224.22" x2="1242.2" y2="224.22" stroke="#15100c" stroke-width="1.65"/>
<line x1="766.3" y1="276.14" x2="771.9" y2="276.14" stroke="#15100c" stroke-width="1.65"/>
<line x1="1236.6" y1="276.14" x2="1242.2" y2="276.14" stroke="#15100c" stroke-width="1.65"/>
<line x1="766.3" y1="328.05" x2="771.9" y2="328.05" stroke="#15100c" stroke-width="1.65"/>
<line x1="1236.6" y1="328.05" x2="1242.2" y2="328.05" stroke="#15100c" stroke-width="1.65"/>
<line x1="766.3" y1="379.97" x2="771.9" y2="379.97" stroke="#15100c" stroke-width="1.65"/>
<line x1="1236.6" y1="379.97" x2="1242.2" y2="379.97" stroke="#15100c" stroke-width="1.65"/>
<line x1="795.9" y1="429.9" x2="795.9" y2="440.3" stroke="#15100c" stroke-width="1.65"/>
<line x1="795.9" y1="765.1" x2="795.9" y2="775.5" stroke="#15100c" stroke-width="1.65"/>
<text x="795.9" y="795.2" font-size="19.1" text-anchor="middle">0.0</text>
<line x1="866.27" y1="429.9" x2="866.27" y2="435.5" stroke="#15100c" stroke-width="1.65"/>
<line x1="866.27" y1="765.1" x2="866.27" y2="770.7" stroke="#15100c" stroke-width="1.65"/>
<line x1="936.65" y1="429.9" x2="936.65" y2="440.3" stroke="#15100c" stroke-width="1.65"/>
<line x1="936.65" y1="765.1" x2="936.65" y2="775.5" stroke="#15100c" stroke-width="1.65"/>
<text x="936.65" y="795.2" font-size="19.1" text-anchor="middle">0.5</text>
<line x1="1007.02" y1="429.9" x2="1007.02" y2="435.5" stroke="#15100c" stroke-width="1.65"/>
<line x1="1007.02" y1="765.1" x2="1007.02" y2="770.7" stroke="#15100c" stroke-width="1.65"/>
<line x1="1077.4" y1="429.9" x2="1077.4" y2="440.3" stroke="#15100c" stroke-width="1.65"/>
<line x1="1077.4" y1="765.1" x2="1077.4" y2="775.5" stroke="#15100c" stroke-width="1.65"/>
<text x="1077.4" y="795.2" font-size="19.1" text-anchor="middle">1.0</text>
<line x1="1147.78" y1="429.9" x2="1147.78" y2="435.5" stroke="#15100c" stroke-width="1.65"/>
<line x1="1147.78" y1="765.1" x2="1147.78" y2="770.7" stroke="#15100c" stroke-width="1.65"/>
<line x1="1218.15" y1="429.9" x2="1218.15" y2="440.3" stroke="#15100c" stroke-width="1.65"/>
<line x1="1218.15" y1="765.1" x2="1218.15" y2="775.5" stroke="#15100c" stroke-width="1.65"/>
<text x="1218.15" y="795.2" font-size="19.1" text-anchor="middle">1.5</text>
<line x1="761.5" y1="454.2" x2="771.9" y2="454.2" stroke="#15100c" stroke-width="1.65"/>
<line x1="1231.8" y1="454.2" x2="1242.2" y2="454.2" stroke="#15100c" stroke-width="1.65"/>
<text x="756.1" y="459.65" font-size="19.1" text-anchor="end">0.0</text>
<line x1="761.5" y1="488.48" x2="771.9" y2="488.48" stroke="#15100c" stroke-width="1.65"/>
<line x1="1231.8" y1="488.48" x2="1242.2" y2="488.48" stroke="#15100c" stroke-width="1.65"/>
<text x="756.1" y="493.93" font-size="19.1" text-anchor="end">-2.0</text>
<line x1="761.5" y1="522.76" x2="771.9" y2="522.76" stroke="#15100c" stroke-width="1.65"/>
<line x1="1231.8" y1="522.76" x2="1242.2" y2="522.76" stroke="#15100c" stroke-width="1.65"/>
<text x="756.1" y="528.21" font-size="19.1" text-anchor="end">-4.0</text>
<line x1="761.5" y1="557.04" x2="771.9" y2="557.04" stroke="#15100c" stroke-width="1.65"/>
<line x1="1231.8" y1="557.04" x2="1242.2" y2="557.04" stroke="#15100c" stroke-width="1.65"/>
<text x="756.1" y="562.49" font-size="19.1" text-anchor="end">-6.0</text>
<line x1="761.5" y1="591.32" x2="771.9" y2="591.32" stroke="#15100c" stroke-width="1.65"/>
<line x1="1231.8" y1="591.32" x2="1242.2" y2="591.32" stroke="#15100c" stroke-width="1.65"/>
<text x="756.1" y="596.77" font-size="19.1" text-anchor="end">-8.0</text>
<line x1="761.5" y1="625.6" x2="771.9" y2="625.6" stroke="#15100c" stroke-width="1.65"/>
<line x1="1231.8" y1="625.6" x2="1242.2" y2="625.6" stroke="#15100c" stroke-width="1.65"/>
<text x="756.1" y="631.05" font-size="19.1" text-anchor="end">-10.0</text>
<line x1="761.5" y1="659.88" x2="771.9" y2="659.88" stroke="#15100c" stroke-width="1.65"/>
<line x1="1231.8" y1="659.88" x2="1242.2" y2="659.88" stroke="#15100c" stroke-width="1.65"/>
<text x="756.1" y="665.33" font-size="19.1" text-anchor="end">-12.0</text>
<line x1="761.5" y1="694.16" x2="771.9" y2="694.16" stroke="#15100c" stroke-width="1.65"/>
<line x1="1231.8" y1="694.16" x2="1242.2" y2="694.16" stroke="#15100c" stroke-width="1.65"/>
<text x="756.1" y="699.61" font-size="19.1" text-anchor="end">-14.0</text>
<line x1="761.5" y1="728.44" x2="771.9" y2="728.44" stroke="#15100c" stroke-width="1.65"/>
<line x1="1231.8" y1="728.44" x2="1242.2" y2="728.44" stroke="#15100c" stroke-width="1.65"/>
<text x="756.1" y="733.89" font-size="19.1" text-anchor="end">-16.0</text>
<line x1="761.5" y1="762.72" x2="771.9" y2="762.72" stroke="#15100c" stroke-width="1.65"/>
<line x1="1231.8" y1="762.72" x2="1242.2" y2="762.72" stroke="#15100c" stroke-width="1.65"/>
<text x="756.1" y="768.17" font-size="19.1" text-anchor="end">-18.0</text>
<line x1="766.3" y1="437.06" x2="771.9" y2="437.06" stroke="#15100c" stroke-width="1.65"/>
<line x1="1236.6" y1="437.06" x2="1242.2" y2="437.06" stroke="#15100c" stroke-width="1.65"/>
<line x1="766.3" y1="471.34" x2="771.9" y2="471.34" stroke="#15100c" stroke-width="1.65"/>
<line x1="1236.6" y1="471.34" x2="1242.2" y2="471.34" stroke="#15100c" stroke-width="1.65"/>
<line x1="766.3" y1="505.62" x2="771.9" y2="505.62" stroke="#15100c" stroke-width="1.65"/>
<line x1="1236.6" y1="505.62" x2="1242.2" y2="505.62" stroke="#15100c" stroke-width="1.65"/>
<line x1="766.3" y1="539.9" x2="771.9" y2="539.9" stroke="#15100c" stroke-width="1.65"/>
<line x1="1236.6" y1="539.9" x2="1242.2" y2="539.9" stroke="#15100c" stroke-width="1.65"/>
<line x1="766.3" y1="574.18" x2="771.9" y2="574.18" stroke="#15100c" stroke-width="1.65"/>
<line x1="1236.6" y1="574.18" x2="1242.2" y2="574.18" stroke="#15100c" stroke-width="1.65"/>
<line x1="766.3" y1="608.46" x2="771.9" y2="608.46" stroke="#15100c" stroke-width="1.65"/>
<line x1="1236.6" y1="608.46" x2="1242.2" y2="608.46" stroke="#15100c" stroke-width="1.65"/>
<line x1="766.3" y1="642.74" x2="771.9" y2="642.74" stroke="#15100c" stroke-width="1.65"/>
<line x1="1236.6" y1="642.74" x2="1242.2" y2="642.74" stroke="#15100c" stroke-width="1.65"/>
<line x1="766.3" y1="677.02" x2="771.9" y2="677.02" stroke="#15100c" stroke-width="1.65"/>
<line x1="1236.6" y1="677.02" x2="1242.2" y2="677.02" stroke="#15100c" stroke-width="1.65"/>
<line x1="766.3" y1="711.3" x2="771.9" y2="711.3" stroke="#15100c" stroke-width="1.65"/>
<line x1="1236.6" y1="711.3" x2="1242.2" y2="711.3" stroke="#15100c" stroke-width="1.65"/>
<line x1="766.3" y1="745.58" x2="771.9" y2="745.58" stroke="#15100c" stroke-width="1.65"/>
<line x1="1236.6" y1="745.58" x2="1242.2" y2="745.58" stroke="#15100c" stroke-width="1.65"/>
<text x="1007.1" y="41.9" font-size="26.1" text-anchor="middle">Time (min)</text>
<text x="1006.2" y="834.9" font-size="25.75" text-anchor="middle">Molar Ratio</text>
<text x="695.7" y="326" font-size="25.8" transform="rotate(-90 695.7 326)">µcal/sec</text>
<text x="695.3" y="736.3" font-size="25.5" transform="rotate(-90 695.3 736.3)">kcal mol<tspan font-size="16.3" dy="-13.7">-1</tspan><tspan dy="13.7"> of injectant</tspan></text>
<text transform="translate(701.3 33.6) scale(1.0 1)" font-size="48" font-weight="bold">B</text>
<text x="960.9" y="393.6" font-size="40.2">GFP-enhancer</text>
<path d="M780 145.45 L780.1 127.61 L780.5 125.27 L780.8 123.52 L780.9 123.05 L781 122.58 L781.3 124.46 L781.6 126.34 L781.7 126.94 L782.1 129.35 L782.3 130.56 L782.4 133.95 L782.5 137.34 L782.9 150.9 L783.2 161.07 L783.3 170.78 L783.7 209.61 L783.9 229.03 L784 224.88 L784.1 220.75 L784.5 204.22 L784.6 200.09 L784.8 189.97 L784.9 184.89 L785.3 164.56 L785.4 159.48 L785.6 153.99 L785.7 151.51 L786.1 141.61 L786.3 136.66 L786.4 136.65 L786.5 136.52 L786.9 135.98 L787.2 135.58 L787.3 135.26 L787.7 135.73 L788 136.08 L788.1 136.19 L788.5 136.65 L788.8 136.99 L788.9 137.24 L789 137.5 L789.3 138.07 L789.6 138.64 L789.7 139.04 L790.1 140.62 L790.4 141.81 L790.5 141.87 L790.9 142.09 L791.2 142.25 L791.3 142.25 L791.7 142.23 L792 142.22 L792.1 142.44 L792.5 143.3 L792.8 143.95 L792.9 143.94 L793.3 143.87 L793.6 143.83 L793.7 143.97 L794.1 144.53 L794.4 144.95 L794.5 145.03 L794.9 145.35 L795.2 145.59 L795.3 145.66 L795.7 145.91 L796 146.11 L796.8 147.95 L797.6 146.86 L798.4 145.85 L799.2 147.36 L799.8 148.01 L800 148.22 L800.2 147.3 L800.4 146.38 L800.6 145.46 L800.8 144.54 L801 148.09 L801.2 155.72 L801.4 162.7 L801.6 169.82 L801.8 176.83 L801.95 182.14 L802 183.92 L802.2 191.07 L802.4 198.28 L802.6 205.71 L802.8 213.18 L803 190.34 L803.2 177.97 L803.4 170.12 L803.6 164.79 L803.8 160.84 L804 157.73 L804.1 156.76 L804.2 155.91 L804.4 154.49 L804.6 153.39 L804.8 152.53 L805 151.7 L805.2 150.77 L805.4 149.98 L805.6 149.3 L805.8 148.74 L806 148.26 L806.2 147.84 L806.4 147.48 L806.6 146.43 L806.8 145.42 L807 144.44 L807.2 143.49 L807.4 144.05 L807.6 144.62 L807.8 145.21 L808 145.82 L808.2 145.13 L808.4 144.45 L808.6 143.78 L808.8 143.11 L809 142.85 L809.2 142.6 L809.4 142.35 L809.6 142.11 L809.8 143.32 L810 144.53 L810.2 146.5 L810.4 149.89 L810.55 151.17 L810.6 151.6 L810.8 153.7 L811 155.86 L811.2 158.04 L811.4 160.78 L811.6 155.66 L811.8 153.22 L812 153.46 L812.2 152.29 L812.4 151.41 L812.6 150.72 L812.7 150.42 L812.8 150.15 L813 148.64 L813.2 147.2 L813.4 145.82 L813.6 144.49 L813.8 145.35 L814 146.7 L814.2 146.78 L814.4 146.88 L814.6 146.3 L814.8 145.74 L815 145.19 L815.2 144.64 L815.4 144.54 L815.6 144.45 L815.8 144.36 L816 144.28 L816.2 144.03 L816.4 143.78 L816.6 143.53 L816.8 143.29 L817 142.71 L817.2 142.22 L817.4 141.72 L817.6 141.23 L817.8 141.38 L818 141.52 L818.2 141.67 L818.4 141.82 L818.6 141.7 L818.8 141.58 L819 141.46 L819.2 141.34 L819.4 141.4 L819.6 141.45 L819.8 141.51 L820 141.57 L820.2 141.06 L820.4 140.55 L820.5 140.3 L820.8 151.6 L821.2 168.29 L821.5 180.82 L821.6 195.16 L822 250.85 L822.1 264.78 L822.4 231.85 L822.7 199.69 L822.8 187.96 L823.2 141.01 L823.6 203.28 L823.9 249.98 L824 264.26 L824.4 322.16 L824.7 365.59 L824.8 357.52 L825.2 324.21 L825.6 290.89 L826 255.5 L826.4 220.1 L826.6 201.8 L826.8 187.22 L827.2 158.06 L827.3 150.94 L827.6 148.17 L828 144.48 L828.3 141.62 L828.4 141.72 L828.8 142.15 L829.2 142.12 L829.6 142.09 L830 142.71 L830.4 143.32 L830.8 144.25 L831 144.72 L831.2 145.08 L831.6 144.74 L832 144.4 L832.4 144.79 L832.8 145.17 L833.2 145.25 L833.6 145.33 L834 145.97 L834.4 146.6 L834.8 146.31 L835.2 146.02 L835.6 146.23 L836 146.44 L836.8 146.78 L837.6 146.5 L838.4 144.82 L839.2 149.08 L840 144.35 L840.8 144.75 L841.6 144.52 L842.4 148.42 L843.2 146.84 L843.3 146.71 L843.5 146.45 L843.7 146.19 L843.9 145.93 L844 145.8 L844.1 155.8 L844.3 176.72 L844.5 198.42 L844.7 220.57 L844.8 231.77 L844.9 243.17 L845.1 266.15 L845.3 289.34 L845.45 306.85 L845.5 312.71 L845.6 324.45 L845.7 336.02 L845.9 359.25 L846.1 382.6 L846.3 406.07 L846.4 368.25 L846.5 338.27 L846.7 294.64 L846.9 265.25 L847.1 244.46 L847.2 236.22 L847.3 229.2 L847.5 217.56 L847.6 212.67 L847.7 208.26 L847.9 200.62 L848 197.28 L848.1 193.92 L848.3 187.9 L848.5 182.65 L848.7 178.04 L848.8 175.95 L848.9 174.17 L849.1 170.96 L849.3 168.15 L849.5 165.69 L849.6 164.58 L849.7 163.49 L849.9 161.5 L850.1 159.75 L850.3 158.21 L850.4 157.5 L850.5 156.81 L850.7 155.53 L850.9 154.4 L851.1 153.39 L851.2 152.93 L851.3 152.57 L851.5 151.95 L851.7 151.52 L851.9 151.17 L852 151.02 L852.1 151.37 L852.3 152.11 L852.5 152.91 L852.7 153.76 L852.8 154.19 L852.9 153.32 L853.1 151.61 L853.3 149.93 L853.5 148.28 L853.6 147.46 L853.7 147.25 L853.9 146.85 L854.1 146.46 L854.3 146.09 L854.4 145.91 L854.5 145.66 L854.7 145.18 L854.9 144.71 L855.1 144.25 L855.2 144.02 L856 146.48 L856.8 145.83 L857.6 146.9 L858.4 145.52 L859.2 145.28 L860 144.81 L860.8 145.23 L861.6 146.67 L862.4 145.31 L863.2 146.88 L864 150.03 L864.8 147.59 L864.9 147.15 L865.1 146.26 L865.3 145.37 L865.5 144.49 L865.6 144.04 L865.7 155.46 L865.9 176.95 L866.1 199.2 L866.3 221.92 L866.4 233.4 L866.5 244.63 L866.7 267.28 L866.9 290.15 L867.05 307.41 L867.1 313.19 L867.2 324.76 L867.3 336.34 L867.5 359.59 L867.7 382.97 L867.9 406.46 L868 368.6 L868.1 338.73 L868.3 295.37 L868.5 266.26 L868.7 245.76 L868.8 237.67 L868.9 230.42 L869.1 218.33 L869.2 213.22 L869.3 208.59 L869.5 200.5 L869.6 196.94 L869.7 193.67 L869.9 187.84 L870.1 182.77 L870.3 178.35 L870.4 176.35 L870.5 174.5 L870.7 171.13 L870.9 168.17 L871.1 165.56 L871.2 164.37 L871.3 163.24 L871.5 161.17 L871.7 159.35 L871.9 157.73 L872 156.99 L872.1 156.4 L872.3 155.34 L872.5 154.43 L872.7 153.64 L872.8 153.29 L872.9 152.97 L873.1 153.36 L873.3 153.2 L873.5 153.12 L873.6 153.11 L873.7 152.58 L873.9 151.58 L874.1 150.62 L874.3 149.71 L874.4 149.27 L874.5 149.27 L874.7 149.29 L874.9 149.34 L875.1 149.42 L875.2 149.47 L875.3 149.66 L875.5 150.04 L875.7 150.44 L875.9 150.86 L876 151.07 L876.1 150.34 L876.3 148.87 L876.5 147.42 L876.7 145.98 L876.8 145.26 L877.6 147.74 L878.4 145.79 L879.2 144.9 L880 144.9 L880.8 146.35 L881.6 146.85 L882.4 145.28 L883.2 146.51 L884 147.89 L884.8 147.65 L885.6 149.52 L886.4 147.51 L886.5 147.5 L886.7 147.48 L886.9 147.46 L887.1 147.44 L887.2 147.43 L887.3 156.4 L887.5 177.36 L887.7 199.08 L887.9 221.26 L888 232.47 L888.1 243.56 L888.3 265.91 L888.5 288.47 L888.65 305.51 L888.7 311.21 L888.8 322.64 L888.9 334.16 L889.1 357.29 L889.3 380.54 L889.5 403.91 L889.6 366.62 L889.7 337.02 L889.9 293.98 L890.1 265.02 L890.3 244.56 L890.4 236.45 L890.5 229.24 L890.7 217.19 L890.8 212.09 L890.9 207.46 L891.1 199.36 L891.2 195.78 L891.3 192.63 L891.5 187.01 L891.7 182.15 L891.9 177.92 L892 176.01 L892.1 174.28 L892.3 171.15 L892.5 168.42 L892.7 166.04 L892.8 164.97 L892.9 163.9 L893.1 161.98 L893.3 160.29 L893.5 158.8 L893.6 158.13 L893.7 157.61 L893.9 156.7 L894.1 155.93 L894.3 155.28 L894.4 155 L894.5 154.37 L894.7 155.74 L894.9 153.81 L895.1 151.96 L895.2 151.06 L895.3 150.5 L895.5 149.43 L895.7 148.41 L895.9 147.44 L896 146.97 L896.1 147.51 L896.3 148.61 L896.5 149.74 L896.7 150.9 L896.8 151.49 L896.9 151.24 L897.1 150.77 L897.3 150.31 L897.5 149.87 L897.6 149.66 L897.7 149.14 L897.9 148.11 L898.1 147.09 L898.3 146.08 L898.4 145.58 L899.2 149.58 L900 147.14 L900.8 144.01 L901.6 145.34 L902.4 145.58 L903 147.88 L903.2 148.33 L903.4 147.54 L903.8 145.96 L904 145.17 L904.2 145.07 L904.6 144.88 L904.8 144.78 L905 144.61 L905.4 144.26 L905.6 144.09 L905.8 143.92 L906.2 143.58 L906.4 143.41 L906.6 143.18 L907 142.72 L907.2 142.35 L907.4 142.26 L907.8 142.09 L908 142 L908.1 141.95 L908.2 141.91 L908.3 141.86 L908.5 141.77 L908.6 141.72 L908.7 141.68 L908.8 141.63 L908.9 144.45 L909 147.26 L909.1 150.08 L909.3 155.71 L909.4 158.53 L909.5 160.68 L909.6 162.83 L909.7 164.89 L909.8 166.94 L909.9 168.99 L910 187.52 L910.1 203.06 L910.2 219.08 L910.25 227.2 L910.3 235.4 L910.4 251.96 L910.5 254.12 L910.7 292.21 L910.9 330.79 L911.1 369.75 L911.2 337.28 L911.3 311.58 L911.5 274.26 L911.7 249.19 L911.9 231.54 L912 224.56 L912.1 218.3 L912.3 207.84 L912.4 203.4 L912.5 199.39 L912.7 192.37 L912.8 189.27 L912.9 186.54 L913.1 181.69 L913.3 177.49 L913.5 173.85 L913.6 172.21 L913.7 170.42 L913.9 167.14 L914.1 164.2 L914.3 161.57 L914.4 160.36 L914.5 159.79 L914.7 158.82 L914.9 158.06 L915.1 157.48 L915.2 157.25 L915.3 156.6 L915.5 155.4 L915.7 154.32 L915.9 153.36 L916 154.41 L916.1 153.66 L916.3 152.23 L916.5 150.87 L916.7 149.57 L916.8 148.95 L916.9 149.05 L917.1 149.29 L917.3 149.58 L917.5 149.91 L917.6 150.09 L917.7 150.06 L917.9 150.02 L918.1 150.01 L918.3 150.02 L918.4 150.03 L918.5 149.16 L918.7 147.43 L918.9 145.72 L919.1 144.02 L919.2 143.18 L919.3 143.38 L919.5 143.8 L919.7 144.23 L919.9 144.67 L920 144.9 L920.8 146.09 L921.6 147.99 L922.4 146.68 L923.2 146.45 L924 146.54 L924.8 150.09 L925.6 150.98 L926.4 146.24 L927.2 145.71 L928 151.68 L928.8 145.18 L929.6 145.77 L929.7 145.92 L929.9 146.2 L930.1 146.48 L930.3 146.77 L930.4 146.91 L930.5 154.48 L930.7 171.69 L930.9 189.53 L931.1 207.74 L931.2 216.94 L931.3 226.21 L931.5 244.89 L931.7 263.74 L931.85 277.97 L931.9 282.74 L932 292.28 L932.1 301.79 L932.3 320.9 L932.5 340.1 L932.7 359.4 L932.8 330.57 L932.9 307.19 L933.1 272.44 L933.3 248.44 L933.5 231.15 L933.6 224.22 L933.7 218.4 L933.9 208.72 L934 204.65 L934.1 200.98 L934.3 194.6 L934.4 191.82 L934.5 189.06 L934.7 184.13 L934.9 179.82 L935.1 176.03 L935.2 174.31 L935.3 172.88 L935.5 170.3 L935.7 168.04 L935.9 166.07 L936 165.18 L936.1 164.05 L936.3 161.96 L936.5 160.06 L936.7 158.34 L936.8 157.54 L936.9 156.84 L937.1 155.54 L937.3 154.37 L937.5 153.3 L937.6 152.81 L937.7 152.43 L937.9 151.2 L938.1 150.63 L938.3 150.13 L938.4 149.91 L938.5 150.21 L938.7 150.85 L938.9 151.55 L939.1 152.28 L939.2 152.67 L939.3 152.08 L939.5 150.94 L939.7 149.83 L939.9 148.74 L940 148.21 L940.1 147.78 L940.3 146.96 L940.5 146.15 L940.7 145.36 L940.8 144.97 L940.9 145.26 L941.1 145.83 L941.3 146.42 L941.5 147.02 L941.6 147.33 L942.4 148.16 L943.2 151.41 L944 145.93 L944.8 148.56 L945.6 148.36 L946.4 145.82 L947.2 146.83 L948 152.49 L948.8 149.42 L949.6 148.06 L950.4 147.13 L951.2 148.39 L951.6 147.22 L951.8 146.64 L952 146.05 L952.2 146.2 L952.4 154.2 L952.6 171.3 L952.8 189.02 L953 206.95 L953.2 225.14 L953.4 243.53 L953.6 262.1 L953.75 276.29 L953.8 281.04 L954 300.1 L954.2 319.27 L954.4 338.55 L954.6 357.81 L954.8 308.82 L955 275.5 L955.2 252.09 L955.4 235.48 L955.6 223.04 L955.8 213.4 L955.9 209.34 L956 205.69 L956.2 198.49 L956.4 192.31 L956.6 186.93 L956.8 182.18 L957 178.63 L957.2 175.51 L957.4 172.76 L957.6 170.34 L957.8 168 L958 165.91 L958.2 164.05 L958.4 162.38 L958.6 160.61 L958.8 159.01 L959 157.54 L959.2 156.2 L959.4 155.41 L959.6 154.72 L959.8 154.12 L960 153.6 L960.2 153.37 L960.4 151.31 L960.6 149.31 L960.8 147.36 L961 147.9 L961.2 148.47 L961.4 149.08 L961.6 149.73 L961.8 149.79 L962 149.88 L962.2 149.99 L962.4 150.13 L962.6 148.53 L962.8 146.95 L963 145.39 L963.2 143.85 L963.4 144.34 L964 145.89 L964.8 151.14 L965.6 146.97 L966.4 144.26 L967.2 147.25 L968 146.68 L968.8 148.91 L969.6 148.52 L970.4 147.15 L971.2 146.13 L972 146.98 L972.8 149.32 L973.2 148.22 L973.4 147.67 L973.6 147.11 L973.8 147.11 L974 151.14 L974.2 159.38 L974.4 168.44 L974.6 177.59 L974.8 186.87 L975 196.26 L975.2 205.74 L975.35 212.85 L975.4 215.22 L975.6 224.77 L975.8 234.37 L976 244.03 L976.2 253.99 L976.4 231.43 L976.6 215.45 L976.8 203.85 L977 195.32 L977.2 188.8 L977.4 183.69 L977.5 181.53 L977.6 179.57 L977.8 175.88 L978 172.72 L978.2 169.99 L978.4 167.58 L978.6 165.41 L978.8 163.46 L979 161.71 L979.2 160.11 L979.4 158.68 L979.6 157.38 L979.8 156.19 L980 155.1 L980.2 154.53 L980.4 154.05 L980.6 153.64 L980.8 153.3 L981 152.64 L981.2 152.47 L981.4 151.82 L981.6 151.21 L981.8 150.6 L982 150.03 L982.2 149.49 L982.4 148.98 L982.6 148.68 L982.8 148.4 L983 148.14 L983.2 147.9 L983.4 148 L983.6 148.12 L983.8 148.25 L984 148.4 L984.2 148.23 L984.4 148.07 L984.6 147.92 L984.8 147.77 L985 147.97 L985.6 148.59 L986.4 148.05 L987.2 148.54 L988 147.15 L988.8 145.23 L989.6 146.05 L990.4 147.12 L991.2 145.92 L992 148.12 L992.8 149.91 L993.6 144.79 L994.1 143.81 L994.3 143.42 L994.4 143.22 L994.5 144.06 L994.7 145.74 L994.9 147.42 L995.1 149.09 L995.2 149.93 L995.3 149.44 L995.5 148.44 L995.7 147.45 L995.9 148.67 L996 149.67 L996.1 151.35 L996.25 153.93 L996.3 154.74 L996.5 158.03 L996.7 161.36 L996.8 163.04 L996.9 164.54 L997.1 167.55 L997.3 159.94 L997.5 155.68 L997.6 154.21 L997.7 153.38 L997.9 152.25 L998.1 152.12 L998.3 152.55 L998.4 152.84 L998.5 152.32 L998.7 151.39 L998.9 150.56 L999.1 149.81 L999.2 149.46 L999.3 149.18 L999.5 148.66 L999.7 148.19 L999.9 147.75 L1000 147.54 L1000.1 147.45 L1000.3 147.27 L1000.5 147.11 L1000.7 146.97 L1000.8 146.9 L1000.9 146.95 L1001.1 147.07 L1001.3 147.19 L1001.5 147.32 L1001.6 147.39 L1001.7 147.36 L1001.9 147.32 L1002.1 147.28 L1002.3 147.25 L1002.4 147.24 L1002.5 147.19 L1002.7 147.11 L1002.9 147.03 L1003.1 146.95 L1003.2 146.91 L1003.3 146.73 L1003.5 146.36 L1003.7 145.99 L1003.9 145.63 L1004 145.45 L1004.1 145.91 L1004.3 146.84 L1004.5 147.77 L1004.7 148.7 L1004.8 149.16 L1004.9 148.9 L1005.1 148.37 L1005.3 147.84 L1005.5 147.31 L1005.6 147.05 L1005.7 147.06 L1005.9 147.08 L1006.4 147.14 L1007.2 146.76 L1008 142.49 L1008.8 147.4 L1009.6 145.76 L1010.4 145.92 L1011.2 146.56 L1012 144.89 L1012.8 147.86 L1013.6 144.2 L1014.4 145.32 L1015.2 145.19 L1016 147.18 L1016.8 148.08 L1017.6 145.76 L1018.4 142.03 L1019.2 148.92 L1020 145.53 L1020.8 149.62 L1021.6 147.47 L1022.4 146.55 L1023.2 146.75 L1024 148.55 L1024.8 149.39 L1025.6 147.35 L1026.4 148.94 L1027.2 150.28 L1028 146.05 L1028.8 144.66 L1029.6 145.26 L1030.4 144.74 L1031.2 145.95 L1032 145.94 L1032.8 144.99 L1033.6 148.18 L1034.4 143.11 L1035.2 145.72 L1035.6 146.5 L1036 147.28 L1036.4 146.22 L1036.8 145.16 L1037.2 144.2 L1037.6 143.24 L1038 142.54 L1038.4 141.27 L1038.8 140.63 L1039.2 139.98 L1039.6 138.24 L1040 136.49 L1040.4 135.32 L1040.8 134.14 L1041.2 132.52 L1041.6 130.9 L1042 130.43 L1042.4 129.76 L1042.8 128.02 L1043.2 126.27 L1043.6 125.32 L1044 124.37 L1044.4 123.66 L1044.8 122.94 L1045.2 122.43 L1045.6 121.92 L1046 120.99 L1046.4 119.48 L1046.8 118.55 L1047.1 117.85 L1047.2 120.51 L1047.6 129.69 L1047.8 134.28 L1048 146.51 L1048.4 172.48 L1048.8 198.46 L1048.9 205.06 L1049.2 195.77 L1049.6 183.38 L1049.8 176.31 L1050 171.07 L1050.4 160.59 L1050.8 151.4 L1051 146.8 L1051.2 145.23 L1051.6 141.5 L1052 137.77 L1052.4 136.88 L1052.8 135.98 L1053.1 135 L1053.2 135.15 L1053.6 135.72 L1054 135.62 L1054.4 135.52 L1054.8 136.79 L1055 137.42 L1055.2 138.04 L1055.6 138.91 L1056 139.78 L1056.4 139.99 L1056.8 140.19 L1057.2 141.55 L1057.5 142.56 L1057.6 142.84 L1058 143.05 L1058.4 143.26 L1058.8 143.64 L1059.2 144.02 L1059.6 145.38 L1059.9 146.41 L1060 147.24 L1060.4 149.67 L1060.8 152.09 L1061.2 154.45 L1061.4 155.63 L1061.6 154.47 L1062 152.26 L1062.4 150.27 L1062.5 149.75 L1062.8 149.35 L1063.2 148.83 L1063.6 148.33 L1064 147.83 L1064.4 147.19 L1064.8 146.55 L1065 146.29 L1065.6 146.27 L1066.4 146.23 L1067.2 146.83 L1068 147.03 L1068.8 147.07 L1069.6 145.82 L1070.4 145.86 L1071.2 146.54 L1072 145.97 L1072.8 146.36 L1073.6 144.01 L1074.4 144.01 L1075.2 146.74 L1076 146.86 L1076.8 147.93 L1077.6 147.39 L1078.4 147.17 L1079.2 146.98 L1080 145.67 L1080.2 146.22 L1080.4 146.78 L1080.6 147.33 L1080.8 147.89 L1081 147.49 L1081.2 147.09 L1081.4 146.69 L1081.6 146.3 L1081.8 146.58 L1082 146.9 L1082.2 148.53 L1082.35 149.82 L1082.4 150.25 L1082.6 151.59 L1082.8 152.94 L1083 153.89 L1083.2 155.38 L1083.4 152.48 L1083.6 150.87 L1083.8 149.97 L1084 149.4 L1084.2 149.02 L1084.4 148.75 L1084.5 148.65 L1084.6 148.56 L1084.8 148.42 L1085 147.92 L1085.2 147.45 L1085.4 147.01 L1085.6 146.59 L1085.8 146.51 L1086 146.45 L1086.2 146.39 L1086.4 146.35 L1086.6 146.24 L1086.8 146.14 L1087 146.04 L1087.2 145.95 L1087.4 146.08 L1087.6 146.22 L1087.8 146.36 L1088 146.5 L1088.2 146.98 L1088.4 147.45 L1088.6 147.93 L1088.8 148.4 L1089 147.78 L1089.2 147.15 L1089.4 146.53 L1089.6 145.9 L1089.8 146.36 L1090 146.83 L1090.2 147.29 L1090.4 147.75 L1090.6 147.65 L1090.8 147.54 L1091 147.43 L1091.2 147.32 L1091.4 147.44 L1091.6 147.56 L1091.8 147.68 L1092 147.8 L1092.8 147.22 L1093.6 145.62 L1094.4 146.75 L1095.2 149.02 L1096 145.62 L1096.8 146.32 L1097.6 145.79 L1098.4 147.07 L1099.2 145.76 L1100 148.19 L1100.8 146.03 L1101.6 143.78 L1102 145.97 L1102.2 147.07 L1102.4 148.17 L1102.6 147.96 L1102.8 147.75 L1103 147.54 L1103.2 147.33 L1103.4 147.3 L1103.6 147.28 L1103.8 147.35 L1104 148.79 L1104.15 149.99 L1104.2 150.39 L1104.4 152.03 L1104.6 153.05 L1104.8 154.71 L1105 156.26 L1105.2 152.55 L1105.4 150.67 L1105.6 149.3 L1105.8 148.63 L1106 148.16 L1106.2 147.81 L1106.3 147.66 L1106.4 147.53 L1106.6 147.56 L1106.8 147.64 L1107 147.75 L1107.2 147.88 L1107.4 147.9 L1107.6 147.93 L1107.8 147.97 L1108 148.03 L1108.2 147.94 L1108.4 147.85 L1108.6 147.78 L1108.8 147.7 L1109 147.56 L1109.2 147.43 L1109.4 147.29 L1109.6 147.16 L1109.8 147.05 L1110 146.95 L1110.2 146.84 L1110.4 146.73 L1110.6 146.71 L1110.8 146.69 L1111 146.67 L1111.2 146.65 L1111.4 146.87 L1111.6 147.1 L1111.8 147.33 L1112 147.56 L1112.2 147.64 L1112.4 147.73 L1112.6 147.81 L1112.8 147.9 L1113 147.5 L1113.2 147.11 L1113.4 146.72 L1113.6 146.32 L1113.8 146.19 L1114.4 145.8 L1115.2 147.75 L1116 147.31 L1116.8 147.11 L1117.6 145.11 L1118.4 145.67 L1119.2 145.85 L1120 146.83 L1120.8 144.93 L1121.6 148.69 L1122.4 146.71 L1123 146.8 L1123.2 146.83 L1123.4 146.22 L1123.6 145.62 L1123.8 145.01 L1124 144.41 L1124.2 144.88 L1124.4 145.34 L1124.6 145.81 L1124.8 146.28 L1125 147.45 L1125.15 148.47 L1125.2 148.82 L1125.4 150.21 L1125.6 151.63 L1125.8 152.06 L1126 152.5 L1126.2 149.55 L1126.4 147.73 L1126.6 147.49 L1126.8 147.48 L1127 147.6 L1127.2 147.8 L1127.3 147.72 L1127.4 147.65 L1127.6 147.54 L1127.8 147.46 L1128 147.4 L1128.2 147 L1128.4 146.63 L1128.6 146.26 L1128.8 145.9 L1129 146.21 L1129.2 146.53 L1129.4 146.85 L1129.6 147.18 L1129.8 146.89 L1130 146.61 L1130.2 146.34 L1130.4 146.06 L1130.6 146.41 L1130.8 146.76 L1131 147.11 L1131.2 147.46 L1131.4 147.33 L1131.6 147.2 L1131.8 147.08 L1132 146.95 L1132.2 146.87 L1132.4 146.78 L1132.6 146.7 L1132.8 146.62 L1133 147.04 L1133.2 147.45 L1133.4 147.87 L1133.6 148.28 L1133.8 148.03 L1134 147.78 L1134.2 147.52 L1134.4 147.27 L1134.6 147.38 L1134.8 147.49 L1135.2 147.71 L1136 145.29 L1136.8 145.78 L1137.6 147.25 L1138.4 147.24 L1139.2 146.55 L1140 147.22 L1140.8 145.61 L1141.6 146.72 L1142.4 145.64 L1143.2 146.9 L1144 146.27 L1144.8 145.96 L1145 146.15 L1145.2 146.33 L1145.4 146.51 L1145.6 146.7 L1145.8 147.07 L1146 147.44 L1146.2 147.82 L1146.4 148.19 L1146.6 147.57 L1146.8 148.18 L1146.95 148.71 L1147 148.89 L1147.2 149.64 L1147.4 151.09 L1147.6 152.9 L1147.8 154.34 L1148 151.08 L1148.2 149.9 L1148.4 149.38 L1148.6 149.16 L1148.8 149.11 L1149 148.42 L1149.1 148.1 L1149.2 147.8 L1149.4 147.22 L1149.6 146.69 L1149.8 147.09 L1150 147.51 L1150.2 147.96 L1150.4 148.42 L1150.6 147.92 L1150.8 147.44 L1151 146.97 L1151.2 146.5 L1151.4 146.43 L1151.6 146.37 L1151.8 146.31 L1152 146.26 L1152.2 146.31 L1152.4 146.36 L1152.6 146.42 L1152.8 146.48 L1153 147.17 L1153.2 147.87 L1153.4 148.56 L1153.6 149.25 L1153.8 148.64 L1154 148.03 L1154.2 147.42 L1154.4 146.81 L1154.6 146.8 L1154.8 146.78 L1155 146.77 L1155.2 146.75 L1155.4 146.72 L1155.6 146.68 L1155.8 146.65 L1156 146.62 L1156.2 146.2 L1156.4 145.79 L1156.6 145.37 L1156.8 144.96 L1157.6 145.68 L1158.4 148.01 L1159.2 147.49 L1160 147.01 L1160.8 147.07 L1161.6 145.83 L1162.4 146.64 L1163.2 145.57 L1164 146.69 L1164.8 145.73 L1165.6 146.42 L1166.3 146.87 L1166.4 146.94 L1166.5 146.84 L1166.7 146.66 L1166.9 146.47 L1167.1 146.28 L1167.2 146.18 L1167.3 146.3 L1167.5 146.54 L1167.7 146.77 L1167.9 147.01 L1168 147.13 L1168.1 147.19 L1168.3 148.6 L1168.45 149.72 L1168.5 150.09 L1168.7 151.63 L1168.8 152.4 L1168.9 153.1 L1169.1 153.97 L1169.3 155.46 L1169.5 152.55 L1169.6 151.53 L1169.7 150.92 L1169.9 150.16 L1170.1 149.74 L1170.3 149.49 L1170.4 149.41 L1170.5 148.77 L1170.6 148.14 L1170.7 147.52 L1170.9 146.34 L1171.1 145.19 L1171.2 144.63 L1171.3 144.7 L1171.5 144.86 L1171.7 145.05 L1171.9 145.25 L1172 145.35 L1172.1 145.58 L1172.3 146.05 L1172.5 146.53 L1172.7 147.02 L1172.8 147.27 L1172.9 147.42 L1173.1 147.74 L1173.3 148.06 L1173.5 148.38 L1173.6 148.54 L1173.7 148.78 L1173.9 149.26 L1174.1 149.74 L1174.3 150.22 L1174.4 150.47 L1174.5 150.1 L1174.7 149.36 L1174.9 148.63 L1175.1 147.89 L1175.2 147.53 L1175.3 147.62 L1175.5 147.82 L1175.7 148.01 L1175.9 148.21 L1176 148.31 L1176.1 148.03 L1176.3 147.48 L1176.5 146.93 L1176.7 146.38 L1176.8 146.1 L1176.9 146.36 L1177.1 146.88 L1177.3 147.4 L1177.5 147.92 L1177.6 148.18 L1177.7 148.09 L1177.9 147.91 L1178.1 147.73 L1178.4 147.45 L1179.2 144.88 L1180 145.8 L1180.8 146.41 L1181.6 146.88 L1182.4 143.87 L1183.2 146.87 L1184 146.9 L1184.8 146.42 L1185.6 147.23 L1186.4 147.22 L1187.2 145.71 L1188 147.18 L1188.4 146.88 L1188.6 146.73 L1188.8 146.58 L1189 146.43 L1189.2 146.27 L1189.4 146.12 L1189.6 145.96 L1189.8 146.15 L1190 146.35 L1190.2 148.35 L1190.4 151.39 L1190.55 153.5 L1190.6 154.29 L1190.8 157.51 L1191 160.76 L1191.2 164.05 L1191.4 166.8 L1191.6 159.68 L1191.8 155.65 L1192 153.1 L1192.2 151.03 L1192.4 149.96 L1192.6 149.15 L1192.7 148.81 L1192.8 148.5 L1193 147.97 L1193.2 147.54 L1193.4 147.18 L1193.6 146.87 L1193.8 147.51 L1194 148.19 L1194.2 148.91 L1194.4 149.65 L1194.6 149.05 L1194.8 148.47 L1195 147.91 L1195.2 147.36 L1195.4 147.32 L1195.6 147.3 L1195.8 147.28 L1196 147.26 L1196.2 147.08 L1196.4 146.9 L1196.6 146.72 L1196.8 146.55 L1197 146.57 L1197.2 146.59 L1197.4 146.62 L1197.6 146.64 L1197.8 146.33 L1198 146.02 L1198.2 145.71 L1198.4 145.4 L1198.6 145.89 L1198.8 146.37 L1199 146.86 L1199.2 147.34 L1199.4 147.31 L1199.6 147.28 L1199.8 147.25 L1200 147.21 L1200.2 146.7 L1200.8 145.17 L1201.6 145.86 L1202.4 146.05 L1203.2 146.86 L1204 146.96 L1204.8 147.54 L1205.6 147.76 L1206.4 147.5 L1207.2 147.76 L1208 145.51 L1208.8 146.23 L1209.6 147.61 L1210.2 146.85 L1210.4 146.6 L1210.6 146.56 L1210.8 146.51 L1211 146.47 L1211.2 146.42 L1211.4 146 L1211.6 145.58 L1211.8 145.84 L1212 149.09 L1212.2 154.01 L1212.35 156.97 L1212.4 157.97 L1212.6 161.99 L1212.8 166.06 L1213 170.43 L1213.2 174.83 L1213.4 165.33 L1213.6 160.29 L1213.8 157.03 L1214 154.84 L1214.2 153.24 L1214.4 152.49 L1214.5 151.91 L1214.6 151.38 L1214.8 150.45 L1215 149.66 L1215.2 148.97 L1215.4 148.54 L1215.6 148.19 L1215.8 147.89 L1216 147.64 L1216.2 147.15 L1216.4 146.7 L1216.6 146.28 L1216.8 145.87 L1217 146.29 L1217.2 146.73 L1217.4 147.17 L1217.6 147.63 L1217.8 147.76 L1218 147.89 L1218.2 148.03 L1218.4 148.17 L1218.6 148.28 L1218.8 148.4 L1219 148.51 L1219.2 148.63 L1219.4 148.25 L1219.6 147.86 L1219.8 147.48 L1220 147.09 L1220.2 146.96 L1220.4 146.83 L1220.6 146.7 L1220.8 146.57 L1221 146.38 L1221.2 146.18 L1221.4 145.99 L1221.6 145.8 L1221.8 146.6 L1222 147.4 L1222.4 149 L1223.2 148.3 L1224 146.14 L1224.8 147.13 L1225.6 146.74 L1226.4 146.28 L1227.2 144.4 L1228 146.38 L1228.8 147.91 L1229.6 145.42 L1230.4 145.97 L1231.2 143.61 L1232 148 L1232.8 147.16" fill="none" stroke="#15100c" stroke-width="1.15" stroke-linejoin="round"/>
<polyline points="803.8,727.9 871.2,726.8 905.1,726 940,724.3 974.8,722.2 1010.1,716.9 1045.9,697.3 1081.5,620.9 1086.9,605 1125,484.4 1133,474.9 1144,470 1154,466.2 1172.3,462.5 1190,460.3 1209.7,459" fill="none" stroke="#15100c" stroke-width="1.1" stroke-linejoin="round"/>
<path d="M866.05 736.65h10.3v10.3h-10.3zM899.95 720.75h10.3v10.3h-10.3zM934.85 727.35h10.3v10.3h-10.3zM969.65 707.45h10.3v10.3h-10.3zM1004.95 691.45h10.3v10.3h-10.3zM1076.35 634.05h10.3v10.3h-10.3zM1112.35 473.45h10.3v10.3h-10.3zM1121.65 473.65h10.3v10.3h-10.3zM1139.75 485.35h10.3v10.3h-10.3zM1148.85 449.15h10.3v10.3h-10.3zM1158.15 490.25h10.3v10.3h-10.3zM1167.15 458.05h10.3v10.3h-10.3zM1176.85 447.75h10.3v10.3h-10.3zM1195.15 492.75h10.3v10.3h-10.3zM1204.55 506.85h10.3v10.3h-10.3z" fill="#0a0805"/>
<rect x="103.9" y="1340.5" width="470.3" height="335.5" fill="none" stroke="#15100c" stroke-width="1.6"/>
<rect x="103.9" y="1005" width="470.45" height="335.5" fill="none" stroke="#15100c" stroke-width="1.9"/>
<line x1="111.7" y1="1043.5" x2="573.2" y2="1043.5" stroke="#e25038" stroke-width="1.3"/>
<line x1="111.7" y1="1005" x2="111.7" y2="1015.4" stroke="#15100c" stroke-width="1.65"/>
<text x="111.7" y="990.3" font-size="19.1" text-anchor="middle">0</text>
<line x1="165.65" y1="1005" x2="165.65" y2="1010.6" stroke="#15100c" stroke-width="1.65"/>
<line x1="219.6" y1="1005" x2="219.6" y2="1015.4" stroke="#15100c" stroke-width="1.65"/>
<text x="219.6" y="990.3" font-size="19.1" text-anchor="middle">10</text>
<line x1="273.55" y1="1005" x2="273.55" y2="1010.6" stroke="#15100c" stroke-width="1.65"/>
<line x1="327.5" y1="1005" x2="327.5" y2="1015.4" stroke="#15100c" stroke-width="1.65"/>
<text x="327.5" y="990.3" font-size="19.1" text-anchor="middle">20</text>
<line x1="381.45" y1="1005" x2="381.45" y2="1010.6" stroke="#15100c" stroke-width="1.65"/>
<line x1="435.4" y1="1005" x2="435.4" y2="1015.4" stroke="#15100c" stroke-width="1.65"/>
<text x="435.4" y="990.3" font-size="19.1" text-anchor="middle">30</text>
<line x1="489.35" y1="1005" x2="489.35" y2="1010.6" stroke="#15100c" stroke-width="1.65"/>
<line x1="543.3" y1="1005" x2="543.3" y2="1015.4" stroke="#15100c" stroke-width="1.65"/>
<text x="543.3" y="990.3" font-size="19.1" text-anchor="middle">40</text>
<line x1="93.5" y1="1043.7" x2="103.9" y2="1043.7" stroke="#15100c" stroke-width="1.65"/>
<line x1="563.8" y1="1043.7" x2="574.2" y2="1043.7" stroke="#15100c" stroke-width="1.65"/>
<text x="88.1" y="1049.15" font-size="19.1" text-anchor="end">0.00</text>
<line x1="93.5" y1="1100.4" x2="103.9" y2="1100.4" stroke="#15100c" stroke-width="1.65"/>
<line x1="563.8" y1="1100.4" x2="574.2" y2="1100.4" stroke="#15100c" stroke-width="1.65"/>
<text x="88.1" y="1105.85" font-size="19.1" text-anchor="end">-0.10</text>
<line x1="93.5" y1="1157.1" x2="103.9" y2="1157.1" stroke="#15100c" stroke-width="1.65"/>
<line x1="563.8" y1="1157.1" x2="574.2" y2="1157.1" stroke="#15100c" stroke-width="1.65"/>
<text x="88.1" y="1162.55" font-size="19.1" text-anchor="end">-0.20</text>
<line x1="93.5" y1="1213.8" x2="103.9" y2="1213.8" stroke="#15100c" stroke-width="1.65"/>
<line x1="563.8" y1="1213.8" x2="574.2" y2="1213.8" stroke="#15100c" stroke-width="1.65"/>
<text x="88.1" y="1219.25" font-size="19.1" text-anchor="end">-0.30</text>
<line x1="93.5" y1="1270.5" x2="103.9" y2="1270.5" stroke="#15100c" stroke-width="1.65"/>
<line x1="563.8" y1="1270.5" x2="574.2" y2="1270.5" stroke="#15100c" stroke-width="1.65"/>
<text x="88.1" y="1275.95" font-size="19.1" text-anchor="end">-0.40</text>
<line x1="93.5" y1="1327.2" x2="103.9" y2="1327.2" stroke="#15100c" stroke-width="1.65"/>
<line x1="563.8" y1="1327.2" x2="574.2" y2="1327.2" stroke="#15100c" stroke-width="1.65"/>
<text x="88.1" y="1332.65" font-size="19.1" text-anchor="end">-0.50</text>
<line x1="98.3" y1="1015.35" x2="103.9" y2="1015.35" stroke="#15100c" stroke-width="1.65"/>
<line x1="568.6" y1="1015.35" x2="574.2" y2="1015.35" stroke="#15100c" stroke-width="1.65"/>
<line x1="98.3" y1="1072.05" x2="103.9" y2="1072.05" stroke="#15100c" stroke-width="1.65"/>
<line x1="568.6" y1="1072.05" x2="574.2" y2="1072.05" stroke="#15100c" stroke-width="1.65"/>
<line x1="98.3" y1="1128.75" x2="103.9" y2="1128.75" stroke="#15100c" stroke-width="1.65"/>
<line x1="568.6" y1="1128.75" x2="574.2" y2="1128.75" stroke="#15100c" stroke-width="1.65"/>
<line x1="98.3" y1="1185.45" x2="103.9" y2="1185.45" stroke="#15100c" stroke-width="1.65"/>
<line x1="568.6" y1="1185.45" x2="574.2" y2="1185.45" stroke="#15100c" stroke-width="1.65"/>
<line x1="98.3" y1="1242.15" x2="103.9" y2="1242.15" stroke="#15100c" stroke-width="1.65"/>
<line x1="568.6" y1="1242.15" x2="574.2" y2="1242.15" stroke="#15100c" stroke-width="1.65"/>
<line x1="98.3" y1="1298.85" x2="103.9" y2="1298.85" stroke="#15100c" stroke-width="1.65"/>
<line x1="568.6" y1="1298.85" x2="574.2" y2="1298.85" stroke="#15100c" stroke-width="1.65"/>
<line x1="131.4" y1="1340.5" x2="131.4" y2="1350.9" stroke="#15100c" stroke-width="1.65"/>
<line x1="131.4" y1="1676" x2="131.4" y2="1686.4" stroke="#15100c" stroke-width="1.65"/>
<text x="131.4" y="1706.1" font-size="19.1" text-anchor="middle">0.0</text>
<line x1="172.58" y1="1340.5" x2="172.58" y2="1346.1" stroke="#15100c" stroke-width="1.65"/>
<line x1="172.58" y1="1676" x2="172.58" y2="1681.6" stroke="#15100c" stroke-width="1.65"/>
<line x1="213.76" y1="1340.5" x2="213.76" y2="1350.9" stroke="#15100c" stroke-width="1.65"/>
<line x1="213.76" y1="1676" x2="213.76" y2="1686.4" stroke="#15100c" stroke-width="1.65"/>
<text x="213.76" y="1706.1" font-size="19.1" text-anchor="middle">0.5</text>
<line x1="254.94" y1="1340.5" x2="254.94" y2="1346.1" stroke="#15100c" stroke-width="1.65"/>
<line x1="254.94" y1="1676" x2="254.94" y2="1681.6" stroke="#15100c" stroke-width="1.65"/>
<line x1="296.12" y1="1340.5" x2="296.12" y2="1350.9" stroke="#15100c" stroke-width="1.65"/>
<line x1="296.12" y1="1676" x2="296.12" y2="1686.4" stroke="#15100c" stroke-width="1.65"/>
<text x="296.12" y="1706.1" font-size="19.1" text-anchor="middle">1.0</text>
<line x1="337.3" y1="1340.5" x2="337.3" y2="1346.1" stroke="#15100c" stroke-width="1.65"/>
<line x1="337.3" y1="1676" x2="337.3" y2="1681.6" stroke="#15100c" stroke-width="1.65"/>
<line x1="378.48" y1="1340.5" x2="378.48" y2="1350.9" stroke="#15100c" stroke-width="1.65"/>
<line x1="378.48" y1="1676" x2="378.48" y2="1686.4" stroke="#15100c" stroke-width="1.65"/>
<text x="378.48" y="1706.1" font-size="19.1" text-anchor="middle">1.5</text>
<line x1="419.66" y1="1340.5" x2="419.66" y2="1346.1" stroke="#15100c" stroke-width="1.65"/>
<line x1="419.66" y1="1676" x2="419.66" y2="1681.6" stroke="#15100c" stroke-width="1.65"/>
<line x1="460.84" y1="1340.5" x2="460.84" y2="1350.9" stroke="#15100c" stroke-width="1.65"/>
<line x1="460.84" y1="1676" x2="460.84" y2="1686.4" stroke="#15100c" stroke-width="1.65"/>
<text x="460.84" y="1706.1" font-size="19.1" text-anchor="middle">2.0</text>
<line x1="502.02" y1="1340.5" x2="502.02" y2="1346.1" stroke="#15100c" stroke-width="1.65"/>
<line x1="502.02" y1="1676" x2="502.02" y2="1681.6" stroke="#15100c" stroke-width="1.65"/>
<line x1="543.2" y1="1340.5" x2="543.2" y2="1350.9" stroke="#15100c" stroke-width="1.65"/>
<line x1="543.2" y1="1676" x2="543.2" y2="1686.4" stroke="#15100c" stroke-width="1.65"/>
<text x="543.2" y="1706.1" font-size="19.1" text-anchor="middle">2.5</text>
<line x1="93.5" y1="1341.41" x2="103.9" y2="1341.41" stroke="#15100c" stroke-width="1.65"/>
<line x1="563.8" y1="1341.41" x2="574.2" y2="1341.41" stroke="#15100c" stroke-width="1.65"/>
<text x="88.1" y="1346.86" font-size="19.1" text-anchor="end">2.0</text>
<line x1="93.5" y1="1362.2" x2="103.9" y2="1362.2" stroke="#15100c" stroke-width="1.65"/>
<line x1="563.8" y1="1362.2" x2="574.2" y2="1362.2" stroke="#15100c" stroke-width="1.65"/>
<text x="88.1" y="1367.65" font-size="19.1" text-anchor="end">0.0</text>
<line x1="93.5" y1="1382.99" x2="103.9" y2="1382.99" stroke="#15100c" stroke-width="1.65"/>
<line x1="563.8" y1="1382.99" x2="574.2" y2="1382.99" stroke="#15100c" stroke-width="1.65"/>
<text x="88.1" y="1388.44" font-size="19.1" text-anchor="end">-2.0</text>
<line x1="93.5" y1="1403.78" x2="103.9" y2="1403.78" stroke="#15100c" stroke-width="1.65"/>
<line x1="563.8" y1="1403.78" x2="574.2" y2="1403.78" stroke="#15100c" stroke-width="1.65"/>
<text x="88.1" y="1409.23" font-size="19.1" text-anchor="end">-4.0</text>
<line x1="93.5" y1="1424.57" x2="103.9" y2="1424.57" stroke="#15100c" stroke-width="1.65"/>
<line x1="563.8" y1="1424.57" x2="574.2" y2="1424.57" stroke="#15100c" stroke-width="1.65"/>
<text x="88.1" y="1430.02" font-size="19.1" text-anchor="end">-6.0</text>
<line x1="93.5" y1="1445.36" x2="103.9" y2="1445.36" stroke="#15100c" stroke-width="1.65"/>
<line x1="563.8" y1="1445.36" x2="574.2" y2="1445.36" stroke="#15100c" stroke-width="1.65"/>
<text x="88.1" y="1450.81" font-size="19.1" text-anchor="end">-8.0</text>
<line x1="93.5" y1="1466.15" x2="103.9" y2="1466.15" stroke="#15100c" stroke-width="1.65"/>
<line x1="563.8" y1="1466.15" x2="574.2" y2="1466.15" stroke="#15100c" stroke-width="1.65"/>
<text x="88.1" y="1471.6" font-size="19.1" text-anchor="end">-10.0</text>
<line x1="93.5" y1="1486.94" x2="103.9" y2="1486.94" stroke="#15100c" stroke-width="1.65"/>
<line x1="563.8" y1="1486.94" x2="574.2" y2="1486.94" stroke="#15100c" stroke-width="1.65"/>
<text x="88.1" y="1492.39" font-size="19.1" text-anchor="end">-12.0</text>
<line x1="93.5" y1="1507.73" x2="103.9" y2="1507.73" stroke="#15100c" stroke-width="1.65"/>
<line x1="563.8" y1="1507.73" x2="574.2" y2="1507.73" stroke="#15100c" stroke-width="1.65"/>
<text x="88.1" y="1513.18" font-size="19.1" text-anchor="end">-14.0</text>
<line x1="93.5" y1="1528.52" x2="103.9" y2="1528.52" stroke="#15100c" stroke-width="1.65"/>
<line x1="563.8" y1="1528.52" x2="574.2" y2="1528.52" stroke="#15100c" stroke-width="1.65"/>
<text x="88.1" y="1533.97" font-size="19.1" text-anchor="end">-16.0</text>
<line x1="93.5" y1="1549.31" x2="103.9" y2="1549.31" stroke="#15100c" stroke-width="1.65"/>
<line x1="563.8" y1="1549.31" x2="574.2" y2="1549.31" stroke="#15100c" stroke-width="1.65"/>
<text x="88.1" y="1554.76" font-size="19.1" text-anchor="end">-18.0</text>
<line x1="93.5" y1="1570.1" x2="103.9" y2="1570.1" stroke="#15100c" stroke-width="1.65"/>
<line x1="563.8" y1="1570.1" x2="574.2" y2="1570.1" stroke="#15100c" stroke-width="1.65"/>
<text x="88.1" y="1575.55" font-size="19.1" text-anchor="end">-20.0</text>
<line x1="93.5" y1="1590.89" x2="103.9" y2="1590.89" stroke="#15100c" stroke-width="1.65"/>
<line x1="563.8" y1="1590.89" x2="574.2" y2="1590.89" stroke="#15100c" stroke-width="1.65"/>
<text x="88.1" y="1596.34" font-size="19.1" text-anchor="end">-22.0</text>
<line x1="93.5" y1="1611.68" x2="103.9" y2="1611.68" stroke="#15100c" stroke-width="1.65"/>
<line x1="563.8" y1="1611.68" x2="574.2" y2="1611.68" stroke="#15100c" stroke-width="1.65"/>
<text x="88.1" y="1617.13" font-size="19.1" text-anchor="end">-24.0</text>
<line x1="93.5" y1="1632.47" x2="103.9" y2="1632.47" stroke="#15100c" stroke-width="1.65"/>
<line x1="563.8" y1="1632.47" x2="574.2" y2="1632.47" stroke="#15100c" stroke-width="1.65"/>
<text x="88.1" y="1637.92" font-size="19.1" text-anchor="end">-26.0</text>
<line x1="93.5" y1="1653.26" x2="103.9" y2="1653.26" stroke="#15100c" stroke-width="1.65"/>
<line x1="563.8" y1="1653.26" x2="574.2" y2="1653.26" stroke="#15100c" stroke-width="1.65"/>
<text x="88.1" y="1658.71" font-size="19.1" text-anchor="end">-28.0</text>
<line x1="93.5" y1="1674.05" x2="103.9" y2="1674.05" stroke="#15100c" stroke-width="1.65"/>
<line x1="563.8" y1="1674.05" x2="574.2" y2="1674.05" stroke="#15100c" stroke-width="1.65"/>
<text x="88.1" y="1679.5" font-size="19.1" text-anchor="end">-30.0</text>
<line x1="98.3" y1="1351.81" x2="103.9" y2="1351.81" stroke="#15100c" stroke-width="1.65"/>
<line x1="568.6" y1="1351.81" x2="574.2" y2="1351.81" stroke="#15100c" stroke-width="1.65"/>
<line x1="98.3" y1="1372.6" x2="103.9" y2="1372.6" stroke="#15100c" stroke-width="1.65"/>
<line x1="568.6" y1="1372.6" x2="574.2" y2="1372.6" stroke="#15100c" stroke-width="1.65"/>
<line x1="98.3" y1="1393.38" x2="103.9" y2="1393.38" stroke="#15100c" stroke-width="1.65"/>
<line x1="568.6" y1="1393.38" x2="574.2" y2="1393.38" stroke="#15100c" stroke-width="1.65"/>
<line x1="98.3" y1="1414.17" x2="103.9" y2="1414.17" stroke="#15100c" stroke-width="1.65"/>
<line x1="568.6" y1="1414.17" x2="574.2" y2="1414.17" stroke="#15100c" stroke-width="1.65"/>
<line x1="98.3" y1="1434.97" x2="103.9" y2="1434.97" stroke="#15100c" stroke-width="1.65"/>
<line x1="568.6" y1="1434.97" x2="574.2" y2="1434.97" stroke="#15100c" stroke-width="1.65"/>
<line x1="98.3" y1="1455.76" x2="103.9" y2="1455.76" stroke="#15100c" stroke-width="1.65"/>
<line x1="568.6" y1="1455.76" x2="574.2" y2="1455.76" stroke="#15100c" stroke-width="1.65"/>
<line x1="98.3" y1="1476.55" x2="103.9" y2="1476.55" stroke="#15100c" stroke-width="1.65"/>
<line x1="568.6" y1="1476.55" x2="574.2" y2="1476.55" stroke="#15100c" stroke-width="1.65"/>
<line x1="98.3" y1="1497.34" x2="103.9" y2="1497.34" stroke="#15100c" stroke-width="1.65"/>
<line x1="568.6" y1="1497.34" x2="574.2" y2="1497.34" stroke="#15100c" stroke-width="1.65"/>
<line x1="98.3" y1="1518.12" x2="103.9" y2="1518.12" stroke="#15100c" stroke-width="1.65"/>
<line x1="568.6" y1="1518.12" x2="574.2" y2="1518.12" stroke="#15100c" stroke-width="1.65"/>
<line x1="98.3" y1="1538.91" x2="103.9" y2="1538.91" stroke="#15100c" stroke-width="1.65"/>
<line x1="568.6" y1="1538.91" x2="574.2" y2="1538.91" stroke="#15100c" stroke-width="1.65"/>
<line x1="98.3" y1="1559.7" x2="103.9" y2="1559.7" stroke="#15100c" stroke-width="1.65"/>
<line x1="568.6" y1="1559.7" x2="574.2" y2="1559.7" stroke="#15100c" stroke-width="1.65"/>
<line x1="98.3" y1="1580.5" x2="103.9" y2="1580.5" stroke="#15100c" stroke-width="1.65"/>
<line x1="568.6" y1="1580.5" x2="574.2" y2="1580.5" stroke="#15100c" stroke-width="1.65"/>
<line x1="98.3" y1="1601.29" x2="103.9" y2="1601.29" stroke="#15100c" stroke-width="1.65"/>
<line x1="568.6" y1="1601.29" x2="574.2" y2="1601.29" stroke="#15100c" stroke-width="1.65"/>
<line x1="98.3" y1="1622.08" x2="103.9" y2="1622.08" stroke="#15100c" stroke-width="1.65"/>
<line x1="568.6" y1="1622.08" x2="574.2" y2="1622.08" stroke="#15100c" stroke-width="1.65"/>
<line x1="98.3" y1="1642.87" x2="103.9" y2="1642.87" stroke="#15100c" stroke-width="1.65"/>
<line x1="568.6" y1="1642.87" x2="574.2" y2="1642.87" stroke="#15100c" stroke-width="1.65"/>
<line x1="98.3" y1="1663.65" x2="103.9" y2="1663.65" stroke="#15100c" stroke-width="1.65"/>
<line x1="568.6" y1="1663.65" x2="574.2" y2="1663.65" stroke="#15100c" stroke-width="1.65"/>
<text x="339.1" y="952.9" font-size="26.1" text-anchor="middle">Time (min)</text>
<text x="338.2" y="1745.8" font-size="25.75" text-anchor="middle">Molar Ratio</text>
<text x="27.7" y="1236.7" font-size="25.8" transform="rotate(-90 27.7 1236.7)">µcal/sec</text>
<text x="27.3" y="1647.3" font-size="25.5" transform="rotate(-90 27.3 1647.3)">kcal mol<tspan font-size="16.3" dy="-13.7">-1</tspan><tspan dy="13.7"> of injectant</tspan></text>
<text transform="translate(35.2 949.6) scale(1.0 1)" font-size="48" font-weight="bold">C</text>
<text x="348.2" y="1301.9" font-size="39.9">GGGGS4</text>
<path d="M112 1043.84 L112.8 1044.05 L113.6 1043.55 L114.4 1042.93 L115.2 1043.05 L116 1042.97 L116.8 1043.64 L117.6 1044.67 L118.4 1042.91 L119.2 1042.83 L120 1043.99 L120.8 1043.91 L121.6 1043.63 L122.4 1042.53 L123.2 1043.57 L124 1044.45 L124.8 1042.68 L125.6 1043.76 L126.4 1041.14 L127.2 1043.26 L128 1042.71 L128.8 1044.31 L129.6 1043.51 L130.4 1044.68 L131.2 1044.45 L131.6 1044.22 L131.8 1044.11 L132 1043.99 L132.2 1043.46 L132.4 1042.93 L132.6 1042.4 L132.8 1041.87 L133 1046.65 L133.2 1053.67 L133.4 1059.94 L133.6 1066.31 L133.75 1071.07 L133.8 1072.67 L134 1079.08 L134.2 1085.56 L134.4 1092.08 L134.6 1098.65 L134.8 1081.22 L135 1071.24 L135.2 1065.06 L135.4 1060.73 L135.6 1057.56 L135.8 1055.09 L135.9 1054.05 L136 1053.1 L136.2 1051.65 L136.4 1050.46 L136.6 1049.12 L136.8 1048.45 L137 1047.58 L137.2 1046.83 L137.4 1046.18 L137.6 1045.61 L137.8 1045.29 L138 1045.03 L138.2 1044.81 L138.4 1044.64 L138.6 1044.88 L138.8 1045.15 L139 1045.44 L139.2 1045.76 L139.4 1045.24 L139.6 1044.74 L139.8 1044.25 L140 1043.77 L140.2 1043.87 L140.4 1043.97 L140.6 1044.08 L140.8 1044.2 L141 1044.34 L141.2 1044.49 L141.4 1044.64 L141.6 1044.8 L141.8 1044.38 L142 1043.96 L142.2 1043.55 L142.4 1043.14 L142.6 1043.26 L142.8 1043.4 L143 1043.53 L143.2 1043.66 L143.4 1043.71 L144 1043.86 L144.8 1043.74 L145.6 1042.5 L146.4 1043.58 L147.2 1044.82 L148 1042.22 L148.8 1044.52 L149.6 1043.77 L150.4 1042.93 L151.2 1047.07 L152 1044.23 L152.8 1041.5 L153.5 1043.37 L153.6 1043.63 L153.7 1043.68 L153.9 1043.77 L154.1 1043.87 L154.3 1053.95 L154.4 1064.83 L154.5 1075.95 L154.7 1098.72 L154.9 1121.96 L155.1 1145.55 L155.2 1157.44 L155.3 1169.48 L155.5 1193.71 L155.65 1212 L155.7 1218.12 L155.9 1242.7 L156 1255.04 L156.1 1267.36 L156.3 1292.08 L156.5 1316.93 L156.7 1245.82 L156.8 1220.52 L156.9 1200.03 L157.1 1169.26 L157.3 1147.52 L157.5 1131.41 L157.6 1124.8 L157.7 1118.91 L157.8 1113.63 L157.9 1108.86 L158.1 1100.54 L158.3 1093.52 L158.4 1090.4 L158.5 1087.41 L158.7 1082.02 L158.9 1077.31 L159.1 1073.16 L159.2 1071.28 L159.3 1069.61 L159.5 1066.59 L159.7 1063.94 L159.9 1061.61 L160 1060.56 L160.1 1059.51 L160.3 1057.59 L160.5 1055.89 L160.7 1054.08 L160.8 1053.25 L160.9 1052.51 L161.1 1051.13 L161.3 1049.89 L161.5 1048.77 L161.6 1048.25 L161.7 1047.67 L161.9 1046.59 L162.1 1045.58 L162.3 1044.65 L162.4 1044.21 L162.5 1043.86 L162.7 1043.22 L162.9 1042.62 L163 1042.33 L163.1 1042.11 L163.2 1041.89 L163.3 1041.67 L163.5 1041.25 L163.7 1040.86 L163.9 1040.49 L164 1040.32 L164.1 1040.19 L164.3 1039.94 L164.5 1039.72 L164.7 1039.51 L164.8 1039.41 L164.9 1039.28 L165.1 1039.04 L165.3 1038.81 L165.6 1038.47 L165.7 1038.24 L166 1037.54 L166.1 1037.31 L166.4 1036.63 L166.5 1036.55 L166.9 1036.22 L167.2 1035.98 L167.3 1035.96 L167.7 1035.9 L168 1035.85 L168.1 1035.6 L168.5 1034.59 L168.8 1033.83 L168.9 1033.8 L169 1033.76 L169.3 1033.13 L169.6 1032.49 L169.7 1032.22 L170.1 1031.12 L170.4 1030.29 L170.5 1030.08 L170.9 1029.21 L171.2 1045.38 L171.3 1050.67 L171.7 1081.98 L171.8 1089.8 L172 1083.66 L172.1 1080.57 L172.5 1068.21 L172.6 1065.12 L172.8 1061.41 L172.9 1059.6 L173.3 1052.34 L173.6 1046.89 L173.7 1046.46 L174.1 1044.72 L174.4 1043.42 L174.5 1043.07 L174.9 1041.68 L175 1041.33 L175.2 1041.43 L175.3 1041.31 L175.5 1041.08 L175.7 1040.84 L175.9 1040.61 L176 1040.5 L176.1 1040.46 L176.3 1040.38 L176.5 1040.3 L176.7 1045.86 L176.8 1048.64 L176.9 1051.47 L177.1 1057.14 L177.2 1079.24 L177.3 1083.6 L177.45 1115.55 L177.5 1126.37 L177.6 1148.21 L177.7 1170.21 L177.9 1214.75 L178.1 1259.84 L178.3 1305.4 L178.4 1267.46 L178.5 1237.3 L178.7 1193.42 L178.9 1163.87 L179.1 1142.98 L179.2 1134.7 L179.3 1127.41 L179.5 1115.24 L179.6 1110.09 L179.7 1105.43 L179.9 1097.29 L180 1093.7 L180.1 1090.55 L180.3 1084.93 L180.5 1080.09 L180.7 1075.9 L180.8 1074.01 L180.9 1072.15 L181.1 1068.77 L181.3 1065.79 L181.5 1063.17 L181.6 1061.97 L181.7 1060.93 L181.9 1059.05 L182.1 1057.41 L182.3 1055.98 L182.4 1055.33 L182.5 1054.64 L182.7 1053.36 L182.9 1052.24 L183.1 1051.24 L183.2 1050.78 L183.3 1050.33 L183.5 1049.98 L183.7 1049.12 L183.9 1048.33 L184 1047.97 L184.1 1047.79 L184.3 1047.48 L184.5 1047.22 L184.7 1047.01 L184.8 1046.92 L184.9 1046.64 L185.1 1046.11 L185.3 1045.61 L185.5 1045.15 L185.6 1044.92 L185.7 1045.09 L185.9 1045.44 L186.1 1045.81 L186.3 1046.2 L186.4 1046.4 L186.5 1046.13 L186.7 1045.6 L186.9 1045.08 L187.1 1044.57 L187.2 1044.32 L188 1044.68 L188.8 1042.67 L189.6 1043.97 L190.4 1040.83 L191.2 1041.96 L192 1043.52 L192.8 1043.07 L193.6 1044.29 L194.4 1045.97 L195.2 1043.28 L196 1043.71 L196.6 1044.43 L196.8 1044.67 L197 1044.7 L197.2 1044.72 L197.4 1053.78 L197.6 1074.85 L197.8 1096.64 L198 1118.89 L198.2 1141.47 L198.4 1164.3 L198.6 1187.37 L198.75 1204.8 L198.8 1210.62 L199 1234.03 L199.2 1257.58 L199.4 1281.34 L199.6 1305.21 L199.8 1237.34 L200 1193.63 L200.2 1164.12 L200.4 1143.26 L200.6 1127.78 L200.8 1115.77 L200.9 1110.64 L201 1106 L201.2 1097.88 L201.4 1091.01 L201.6 1085.1 L201.8 1080.16 L202 1075.86 L202.2 1072.11 L202.4 1068.82 L202.6 1065.88 L202.8 1063.28 L203 1060.99 L203.2 1058.98 L203.4 1057.1 L203.6 1055.42 L203.8 1053.94 L204 1052.61 L204.2 1051.66 L204.4 1050.83 L204.6 1050.11 L204.8 1049.93 L205 1048.97 L205.2 1048.09 L205.4 1047.28 L205.6 1046.52 L205.8 1046.58 L206 1046.68 L206.2 1046.82 L206.4 1047 L206.6 1046.61 L206.8 1046.25 L207 1045.91 L207.2 1045.59 L207.4 1045.44 L207.6 1045.3 L207.8 1045.18 L208 1045.08 L208.2 1044.85 L208.4 1044.64 L208.8 1044.23 L209.6 1044.18 L210.4 1042.35 L211.2 1043.1 L212 1044.19 L212.8 1041.88 L213.6 1044.63 L214.4 1042.16 L215.2 1044.21 L216 1042.92 L216.8 1044.56 L217.6 1043.93 L218.4 1042.49 L218.7 1043.47 L218.9 1044.13 L219.1 1044.79 L219.2 1045.12 L219.3 1045.13 L219.5 1053.14 L219.7 1072.54 L219.9 1092.65 L220 1102.87 L220.1 1113.11 L220.3 1133.8 L220.5 1154.74 L220.7 1175.86 L220.8 1186.48 L220.85 1191.84 L220.9 1197.2 L221.1 1218.74 L221.3 1240.4 L221.5 1262.18 L221.6 1273.11 L221.7 1284.08 L221.9 1223.4 L222.1 1183.72 L222.3 1156.69 L222.4 1146.31 L222.5 1137.4 L222.7 1122.96 L222.9 1111.73 L223 1106.97 L223.1 1102.67 L223.2 1098.75 L223.3 1096.71 L223.5 1093.45 L223.6 1092.17 L223.7 1091.08 L223.9 1089.43 L224 1088.83 L224.1 1088.21 L224.2 1087.72 L224.3 1087.52 L224.4 1087.42 L224.5 1087.42 L224.7 1087.7 L224.8 1087.96 L224.9 1088.38 L225.1 1089.42 L225.2 1090.04 L225.3 1087.89 L225.5 1083.74 L225.6 1081.75 L225.7 1079.75 L225.9 1075.88 L226 1074 L226.1 1072.16 L226.3 1068.58 L226.4 1066.83 L226.5 1065.17 L226.7 1063.18 L226.8 1062.22 L226.9 1061.24 L227.1 1059.44 L227.2 1058.57 L227.3 1057.58 L227.5 1055.65 L227.6 1054.7 L227.7 1053.77 L227.9 1051.95 L228 1051.05 L228.1 1050.83 L228.3 1050.42 L228.4 1050.23 L228.5 1050.04 L228.7 1049.7 L228.8 1049.54 L228.9 1049.09 L229.1 1048.21 L229.2 1047.79 L229.3 1047.36 L229.5 1046.53 L229.6 1046.12 L229.7 1045.85 L229.9 1045.32 L230 1045.06 L230.1 1045.6 L230.3 1045.75 L230.4 1045.83 L230.5 1045.68 L231.2 1044.7 L232 1043.47 L232.8 1044.35 L233.6 1044.11 L234.4 1044.27 L234.5 1043.99 L234.9 1044.47 L235.2 1044.83 L235.3 1044.96 L235.7 1045.46 L236 1045.84 L236.1 1045.94 L236.5 1046.34 L236.8 1046.64 L236.9 1047.36 L237.3 1050.21 L237.6 1052.35 L237.7 1053.15 L237.9 1054.77 L238.1 1053.75 L238.4 1052.22 L238.5 1051.45 L238.9 1048.34 L239.2 1046.01 L239.3 1045.61 L239.7 1043.99 L240 1042.77 L240.1 1042.47 L240.3 1041.85 L240.5 1041.24 L240.7 1044.48 L240.8 1044.64 L240.9 1052.39 L241.1 1070.52 L241.3 1089.32 L241.5 1108.51 L241.6 1118.21 L241.7 1127.82 L241.9 1147.2 L242.1 1166.75 L242.25 1181.52 L242.3 1186.46 L242.4 1196.37 L242.5 1206.47 L242.7 1226.74 L242.9 1247.12 L243.1 1267.6 L243.2 1237.28 L243.3 1212.71 L243.5 1176.23 L243.7 1151.09 L243.9 1133.02 L244 1125.8 L244.1 1119.48 L244.3 1108.93 L244.4 1104.46 L244.5 1100.41 L244.7 1093.34 L244.8 1090.23 L244.9 1087.48 L245.1 1082.58 L245.3 1078.35 L245.5 1074.66 L245.6 1073 L245.7 1071.31 L245.9 1068.22 L246.1 1065.47 L246.3 1063.03 L246.4 1061.91 L246.5 1060.89 L246.7 1059.03 L246.9 1057.37 L247.1 1055.89 L247.2 1055.22 L247.3 1054.55 L247.5 1053.3 L247.7 1052.19 L247.9 1051.19 L248 1050.73 L248.1 1050.38 L248.3 1049.75 L248.5 1049.46 L248.7 1049.18 L248.8 1049.06 L248.9 1048.71 L249.1 1048.04 L249.3 1047.42 L249.5 1046.85 L249.6 1046.58 L249.7 1046.49 L249.9 1046.32 L250.1 1046.18 L250.3 1046.07 L250.4 1046.03 L250.5 1045.8 L250.7 1045.37 L250.9 1044.96 L251.1 1044.56 L251.2 1044.37 L251.3 1044.3 L251.5 1044.17 L251.7 1044.05 L251.9 1043.94 L252 1043.89 L252.8 1045.81 L253.6 1044.08 L254.4 1044.63 L255.2 1043.96 L256 1043.48 L256.8 1043.43 L257.6 1044.51 L258.4 1043.64 L259.2 1043.89 L260 1043.92 L260.8 1044.89 L261.6 1044.54 L261.7 1044.51 L261.9 1044.45 L262.1 1044.39 L262.3 1044.33 L262.4 1044.3 L262.5 1051.29 L262.7 1067.3 L262.9 1083.91 L263.1 1100.86 L263.2 1109.44 L263.3 1118.06 L263.5 1135.43 L263.7 1152.97 L263.85 1166.21 L263.9 1170.64 L264 1179.52 L264.1 1188.56 L264.3 1206.71 L264.5 1224.96 L264.7 1243.3 L264.8 1217.97 L264.9 1197.15 L265.1 1165.71 L265.3 1143.61 L265.5 1127.53 L265.6 1121.06 L265.7 1115.34 L265.9 1105.74 L266 1101.67 L266.1 1097.98 L266.3 1091.52 L266.4 1088.67 L266.5 1086.11 L266.7 1081.52 L266.9 1077.52 L267.1 1074.02 L267.2 1072.43 L267.3 1070.9 L267.5 1068.1 L267.7 1065.61 L267.9 1063.38 L268 1062.36 L268.1 1061.39 L268.3 1059.59 L268.5 1057.98 L268.7 1056.54 L268.8 1055.88 L268.9 1055.26 L269.1 1054.11 L269.3 1053.09 L269.5 1052.17 L269.6 1051.75 L269.7 1051.29 L269.9 1050.45 L270.1 1049.87 L270.3 1049 L270.4 1048.58 L270.5 1048.57 L270.7 1048.58 L270.9 1048.65 L271.1 1048.76 L271.2 1048.83 L271.3 1048.36 L271.5 1047.43 L271.7 1046.54 L271.9 1045.68 L272 1045.26 L272.1 1045.36 L272.3 1045.59 L272.5 1045.84 L272.7 1046.11 L272.8 1046.25 L272.9 1046.13 L273.1 1045.9 L273.3 1045.68 L273.5 1045.48 L273.6 1045.38 L274.4 1045.63 L275.2 1046.37 L276 1046.13 L276.8 1043.6 L277.6 1042.8 L278.4 1045.14 L279.2 1042.56 L280 1044.38 L280.8 1045.1 L281.6 1042.69 L282.4 1040.53 L283.2 1044.29 L283.4 1044.21 L283.6 1044.13 L283.8 1044.06 L284 1043.98 L284.2 1049.79 L284.4 1062.52 L284.6 1075.82 L284.8 1089.4 L285 1103.25 L285.2 1117.25 L285.4 1131.39 L285.55 1142.06 L285.6 1145.63 L285.8 1159.87 L286 1174.2 L286.2 1188.61 L286.4 1203.08 L286.6 1167.92 L286.8 1143.45 L287 1125.92 L287.2 1112.97 L287.4 1103.24 L287.6 1095.6 L287.7 1092.36 L287.8 1089.43 L288 1084.32 L288.2 1079.82 L288.4 1075.94 L288.6 1072.53 L288.8 1069.52 L289 1066.84 L289.2 1064.44 L289.4 1062.29 L289.6 1060.34 L289.8 1058.82 L290 1057.45 L290.2 1056.24 L290.4 1055.16 L290.6 1054 L290.8 1052.94 L291 1051.98 L291.2 1051.11 L291.4 1050.42 L291.6 1049.8 L291.8 1049.05 L292 1048.64 L292.2 1047.84 L292.4 1047.09 L292.6 1046.38 L292.8 1045.71 L293 1045.52 L293.2 1045.36 L293.4 1045.22 L293.6 1045.12 L293.8 1044.82 L294 1044.54 L294.2 1044.28 L294.4 1044.04 L294.6 1043.93 L294.8 1043.84 L295 1043.76 L295.2 1043.69 L296 1044.45 L296.8 1043.5 L297.6 1044.47 L298.4 1044.65 L299.2 1046.06 L300 1042.8 L300.8 1044.52 L301.6 1043.79 L302.4 1043.93 L303.2 1042.42 L304 1043.24 L304.8 1044.4 L305.2 1043.97 L305.4 1043.76 L305.6 1043.55 L305.8 1043.59 L306 1043.64 L306.2 1051.06 L306.4 1058.98 L306.6 1067.08 L306.8 1075.32 L307 1083.66 L307.2 1092.08 L307.35 1098.56 L307.4 1100.73 L307.6 1109.44 L307.8 1118.2 L308 1127.02 L308.2 1135.63 L308.4 1118.08 L308.6 1105.17 L308.8 1095.48 L309 1087.97 L309.2 1082.06 L309.4 1077.3 L309.5 1075.24 L309.6 1073.36 L309.8 1070.36 L310 1067.82 L310.2 1065.64 L310.4 1063.75 L310.6 1061.86 L310.8 1060.16 L311 1058.62 L311.2 1057.22 L311.4 1055.91 L311.6 1054.71 L311.8 1053.61 L312 1052.59 L312.2 1051.97 L312.4 1051.43 L312.6 1050.95 L312.8 1050.52 L313 1050.1 L313.2 1049.91 L313.4 1049.87 L313.6 1049.88 L313.8 1049.2 L314 1048.56 L314.2 1047.94 L314.4 1047.36 L314.6 1046.73 L314.8 1046.13 L315 1045.54 L315.2 1044.98 L315.4 1044.93 L315.6 1044.89 L315.8 1044.86 L316 1044.86 L316.2 1045.16 L316.4 1045.47 L316.6 1045.79 L316.8 1046.13 L317 1045.85 L317.6 1045.06 L318.4 1044.73 L319.2 1044.74 L320 1044.73 L320.8 1045.15 L321.6 1045.22 L322.4 1044.56 L323.2 1042.93 L324 1044.66 L324.8 1043.54 L325.6 1045.18 L326.4 1042.88 L327.2 1044.01 L328 1043.97 L328.4 1053.14 L328.8 1062.3 L329 1067.49 L329.2 1063.51 L329.6 1055.56 L330 1046.81 L330.1 1044.62 L330.4 1042.28 L330.8 1038.78 L330.9 1037.9 L331.2 1038.29 L331.6 1039.38 L332 1040.48 L332.2 1040.87 L332.4 1041.08 L332.8 1041.5 L333.2 1041.54 L333.6 1041.58 L334 1042.6 L334.4 1043.63 L334.5 1043.75 L335.2 1043.44 L336 1043.42 L336.8 1041.68 L337.6 1043.5 L338.4 1043.59 L339.2 1045.13 L340 1044.45 L340.8 1044.1 L341.6 1046.89 L342.4 1043.23 L343.2 1043.81 L344 1040.77 L344.8 1045.18 L345.6 1044.78 L346.4 1045.31 L347.2 1044.97 L348 1043.88 L348.8 1043.79 L349.4 1043.61 L349.6 1048.05 L349.8 1052.55 L350.2 1061.55 L350.4 1066.05 L350.6 1061.13 L351 1051.3 L351.2 1046.38 L351.3 1043.96 L351.4 1043.06 L351.8 1039.49 L352 1037.71 L352.2 1038.17 L352.6 1039.1 L352.8 1039.57 L353 1040.1 L353.4 1041.16 L353.6 1040.31 L353.8 1039.46 L354.2 1037.76 L354.4 1036.91 L354.6 1036.06 L354.8 1035.22 L355 1036.12 L355.2 1037.01 L355.4 1038.21 L355.8 1040.61 L356 1041.8 L356.2 1042.03 L356.6 1042.48 L356.8 1042.71 L357 1042.89 L357.4 1043.25 L357.6 1043.44 L357.8 1043.61 L358 1043.79 L358.4 1043.47 L359.2 1042.99 L360 1043.83 L360.8 1045.28 L361.6 1043.34 L362.4 1043.4 L363.2 1043.3 L364 1043.58 L364.8 1040.74 L365.6 1043.18 L366.4 1042.58 L367.2 1044.22 L368 1042.84 L368.8 1044.8 L369.6 1045.27 L370.4 1043.67 L371.2 1043.54 L371.4 1043.69 L371.8 1054.4 L372 1059.75 L372.2 1065.06 L372.4 1070.37 L372.6 1065.56 L372.8 1060.75 L373 1055.84 L373.4 1046.03 L373.5 1043.58 L373.6 1042.76 L373.8 1041.36 L374.2 1038.56 L374.3 1037.86 L374.4 1038.17 L374.6 1038.75 L375 1039.91 L375.2 1040.5 L375.4 1040.73 L375.6 1040.97 L375.8 1041.02 L376 1041.07 L376.2 1041.36 L376.6 1041.93 L376.8 1042.22 L377 1042.42 L377.4 1042.84 L377.6 1043.05 L377.8 1043.43 L377.9 1043.62 L378.4 1044.19 L379.2 1042.92 L380 1042.78 L380.8 1044.92 L381.6 1042.52 L382.4 1044.82 L383.2 1045.18 L384 1044.15 L384.8 1044.61 L385.6 1045.82 L386.4 1043.9 L387.2 1043.51 L388 1041.67 L388.8 1044.1 L389.6 1045.29 L390.4 1044.76 L391.2 1043.04 L392 1042.81 L392.5 1043.43 L392.8 1051.82 L392.9 1054.64 L393.3 1065.89 L393.5 1071.51 L393.6 1069.02 L393.7 1066.47 L394.1 1056.3 L394.4 1048.67 L394.5 1046.17 L394.6 1043.67 L394.9 1041.43 L395.2 1039.19 L395.3 1038.41 L395.4 1037.64 L395.7 1038.33 L396 1039.03 L396.1 1039.22 L396.5 1040 L396.7 1040.38 L396.8 1040.49 L396.9 1040.64 L397.3 1041.26 L397.6 1041.72 L397.7 1041.88 L398.1 1042.49 L398.4 1042.95 L398.5 1043.08 L398.9 1043.6 L399 1043.73 L399.2 1043.74 L400 1044.8 L400.8 1045.91 L401.6 1044.87 L402.4 1044.32 L403.2 1042.68 L404 1044.52 L404.8 1042.42 L405.6 1042.79 L406.4 1044.8 L407.2 1044.53 L408 1043.59 L408.8 1042.08 L409.6 1043.27 L410.4 1042.89 L411.2 1044.3 L412 1047.72 L412.8 1044.3 L413.6 1043.52 L414.4 1043.55 L414.8 1053.94 L415.2 1064.32 L415.4 1069.42 L415.6 1064.78 L416 1055.51 L416.4 1045.92 L416.5 1043.53 L416.8 1040.97 L417.2 1038.29 L417.3 1037.62 L417.6 1038.62 L418 1039.31 L418.4 1039.99 L418.6 1040.76 L418.8 1041.34 L419.2 1042.51 L419.6 1042.85 L420 1043.19 L420.4 1043.93 L420.8 1044.66 L420.9 1044.69 L421.6 1044.15 L422.4 1045.01 L423.2 1044.4 L424 1043.84 L424.8 1043.94 L425.6 1042.91 L426.4 1042.61 L427.2 1044.6 L428 1043.69 L428.8 1043.81 L429.6 1044.76 L430.4 1042.37 L431.2 1043.37 L432 1044.26 L432.8 1044.5 L433.6 1043.88 L434.4 1045.17 L435.2 1044.23 L436 1043.09 L436.4 1053.95 L436.8 1064.82 L437 1070.24 L437.2 1065.56 L437.6 1056.18 L438 1046.48 L438.1 1044.06 L438.4 1041.69 L438.8 1038.18 L438.9 1037.3 L439.2 1037.69 L439.6 1039.41 L440 1041.14 L440.2 1041.43 L440.4 1041.54 L440.8 1041.76 L441.2 1042.42 L441.6 1043.08 L442 1043.3 L442.4 1043.51 L442.5 1043.68 L443.2 1044.04 L444 1043.01 L444.8 1046.43 L445.6 1043.91 L446.4 1045.42 L447.2 1043.57 L448 1044.09 L448.8 1042.62 L449.6 1043.65 L450.4 1044.81 L451.2 1042.81 L452 1044.7 L452.8 1044.02 L453.6 1042.72 L454.4 1043.03 L455.2 1043.29 L456 1043.48 L456.8 1043.06 L457.6 1043.37 L458 1052.98 L458.4 1062.6 L458.6 1067.25 L458.8 1062.82 L459.2 1053.94 L459.6 1045.41 L459.7 1043.28 L460 1041.05 L460.4 1038.17 L460.5 1037.46 L460.8 1038.32 L461.2 1039.42 L461.6 1040.51 L461.8 1040.76 L462 1040.81 L462.4 1040.93 L462.8 1041.8 L463.2 1042.67 L463.6 1043.13 L464 1043.59 L464.1 1043.71 L464.8 1043.35 L465.6 1044.97 L466.4 1043.54 L467.2 1045.51 L468 1043.54 L468.8 1044.49 L469.6 1043.78 L470.4 1043.28 L471.2 1044.55 L472 1043.87 L472.8 1044.5 L473.6 1043.97 L474.4 1042.7 L475.2 1043.46 L476 1043.82 L476.8 1044.6 L477.6 1042.89 L478.4 1043.69 L479.2 1043.13 L479.6 1053.77 L480 1064.41 L480.2 1069.29 L480.4 1064.43 L480.8 1054.71 L481.2 1045.52 L481.3 1043.22 L481.6 1040.97 L482 1038.2 L482.1 1037.51 L482.4 1038.45 L482.8 1039.76 L483.2 1041.07 L483.4 1041.21 L483.6 1041.17 L484 1041.09 L484.4 1041.7 L484.8 1042.32 L485.2 1042.91 L485.6 1043.51 L485.7 1043.58 L486.4 1042.24 L487.2 1044.33 L488 1043.05 L488.8 1043.04 L489.6 1044.2 L490.4 1042.78 L491.2 1043.78 L492 1042.59 L492.8 1042.37 L493.6 1041.72 L494.4 1045.29 L495.2 1042.97 L496 1043.75 L496.8 1043.66 L497.6 1043.92 L498.4 1043.81 L499.2 1045.58 L500 1042.88 L500.8 1043.22 L501.2 1054.27 L501.6 1065.32 L501.8 1070.79 L502 1065.8 L502.4 1055.82 L502.8 1046.2 L502.9 1043.79 L503.2 1041.72 L503.6 1038.59 L503.7 1037.81 L504 1038.48 L504.4 1039.08 L504.8 1039.68 L505 1040.09 L505.2 1040.33 L505.6 1040.8 L506 1041.5 L506.4 1042.21 L506.8 1043.07 L507.2 1043.94 L507.3 1043.89 L508 1040.9 L508.8 1043.81 L509.6 1042.28 L510.4 1044.43 L511.2 1042.53 L512 1043.35 L512.8 1042.5 L513.6 1043.09 L514.4 1046.36 L515.2 1044.69 L516 1043.59 L516.8 1042.48 L517.6 1042.3 L518.4 1043.32 L519.2 1043.94 L520 1043.84 L520.8 1043.76 L521.6 1042.91 L522.4 1043.77 L522.5 1043.73 L522.9 1054.5 L523.2 1062.57 L523.3 1065.32 L523.5 1070.81 L523.7 1065.54 L524 1057.64 L524.1 1054.98 L524.5 1044.35 L524.8 1042.6 L524.9 1041.9 L525.2 1039.79 L525.3 1039.82 L525.6 1039.91 L525.7 1039.96 L526.1 1040.19 L526.4 1040.35 L526.5 1040.52 L526.9 1041.21 L527 1041.38 L527.2 1041.99 L527.3 1042.22 L527.7 1043.13 L528 1043.81 L528.1 1044.48 L528.5 1047.14 L528.8 1049.14 L528.9 1049.9 L529.2 1052.2 L529.3 1052.24 L529.6 1052.35 L529.7 1052.29 L530.1 1052.06 L530.4 1051.88 L530.5 1051.92 L530.6 1051.97 L530.9 1051.42 L531.2 1050.86 L531.3 1050.56 L531.7 1049.37 L532 1048.47 L532.1 1048.23 L532.5 1047.25 L532.8 1046.84 L532.9 1046.67 L533.3 1045.98 L533.6 1045.47 L533.7 1045.25 L534.1 1044.39 L534.4 1043.74 L534.5 1043.57 L534.6 1043.39 L535.2 1042.65 L536 1044 L536.8 1043.68 L537.6 1044 L538.4 1043.85 L539.2 1042.46 L540 1043.68 L540.8 1042.34 L541.6 1043.1 L542.4 1043.2 L543.2 1041.73 L544 1043.67 L544.4 1054.04 L544.8 1064.41 L545 1069.54 L545.2 1064.35 L545.6 1053.96 L546 1043.52 L546.4 1040.8 L546.8 1038.28 L547.2 1038.85 L547.6 1039.24 L548 1039.62 L548.4 1044.75 L548.8 1049.88 L549.2 1055.76 L549.6 1061.64 L549.8 1064.66 L550 1063.59 L550.4 1061.44 L550.8 1058.79 L551 1057.47 L551.2 1055.85 L551.6 1053.45 L552 1051.06 L552.4 1048.18 L552.8 1047.43 L553.2 1046.68 L553.6 1045.94 L554 1045.15 L554.4 1044.37 L554.8 1043.81 L555.2 1044.38 L556 1042.28 L556.8 1044.05 L557.6 1044.11 L558.4 1043.77 L559.2 1043.79 L560 1042.71 L560.8 1043.04 L561.6 1043.98 L562.4 1043.95 L563.2 1043.86 L564 1042.35" fill="none" stroke="#15100c" stroke-width="1.15" stroke-linejoin="round"/>
<polyline points="136.2,1608.3 277.4,1606.7 298.4,1564.3 319.5,1369.1 340.9,1362.5 541.3,1361.9" fill="none" stroke="#15100c" stroke-width="1.1" stroke-linejoin="round"/>
<path d="M150.55 1569.45h10.3v10.3h-10.3zM170.45 1576.05h10.3v10.3h-10.3zM190.45 1614.85h10.3v10.3h-10.3zM210.55 1647.55h10.3v10.3h-10.3zM231.15 1594.15h10.3v10.3h-10.3zM251.65 1605.85h10.3v10.3h-10.3zM272.25 1610.35h10.3v10.3h-10.3zM293.25 1554.85h10.3v10.3h-10.3zM314.35 1363.25h10.3v10.3h-10.3zM335.75 1358.55h10.3v10.3h-10.3zM357.15 1366.65h10.3v10.3h-10.3zM379.15 1374.95h10.3v10.3h-10.3zM401.05 1366.35h10.3v10.3h-10.3zM423.25 1368.95h10.3v10.3h-10.3zM445.15 1362.65h10.3v10.3h-10.3zM467.75 1364.95h10.3v10.3h-10.3zM490.35 1367.35h10.3v10.3h-10.3zM513.25 1384.95h10.3v10.3h-10.3zM536.15 1400.55h10.3v10.3h-10.3z" fill="#0a0805"/>
<rect x="771.9" y="1340.5" width="470.3" height="335.5" fill="none" stroke="#15100c" stroke-width="1.6"/>
<rect x="771.9" y="1005" width="470.45" height="335.5" fill="none" stroke="#15100c" stroke-width="1.9"/>
<line x1="779.7" y1="1033.8" x2="1241.2" y2="1033.8" stroke="#ea6260" stroke-width="1.3"/>
<line x1="779.7" y1="1005" x2="779.7" y2="1015.4" stroke="#15100c" stroke-width="1.65"/>
<text x="779.7" y="990.3" font-size="19.1" text-anchor="middle">0</text>
<line x1="833.65" y1="1005" x2="833.65" y2="1010.6" stroke="#15100c" stroke-width="1.65"/>
<line x1="887.6" y1="1005" x2="887.6" y2="1015.4" stroke="#15100c" stroke-width="1.65"/>
<text x="887.6" y="990.3" font-size="19.1" text-anchor="middle">10</text>
<line x1="941.55" y1="1005" x2="941.55" y2="1010.6" stroke="#15100c" stroke-width="1.65"/>
<line x1="995.5" y1="1005" x2="995.5" y2="1015.4" stroke="#15100c" stroke-width="1.65"/>
<text x="995.5" y="990.3" font-size="19.1" text-anchor="middle">20</text>
<line x1="1049.45" y1="1005" x2="1049.45" y2="1010.6" stroke="#15100c" stroke-width="1.65"/>
<line x1="1103.4" y1="1005" x2="1103.4" y2="1015.4" stroke="#15100c" stroke-width="1.65"/>
<text x="1103.4" y="990.3" font-size="19.1" text-anchor="middle">30</text>
<line x1="1157.35" y1="1005" x2="1157.35" y2="1010.6" stroke="#15100c" stroke-width="1.65"/>
<line x1="1211.3" y1="1005" x2="1211.3" y2="1015.4" stroke="#15100c" stroke-width="1.65"/>
<text x="1211.3" y="990.3" font-size="19.1" text-anchor="middle">40</text>
<line x1="761.5" y1="1034" x2="771.9" y2="1034" stroke="#15100c" stroke-width="1.65"/>
<line x1="1231.8" y1="1034" x2="1242.2" y2="1034" stroke="#15100c" stroke-width="1.65"/>
<text x="756.1" y="1039.45" font-size="19.1" text-anchor="end">0.00</text>
<line x1="761.5" y1="1086.7" x2="771.9" y2="1086.7" stroke="#15100c" stroke-width="1.65"/>
<line x1="1231.8" y1="1086.7" x2="1242.2" y2="1086.7" stroke="#15100c" stroke-width="1.65"/>
<text x="756.1" y="1092.15" font-size="19.1" text-anchor="end">-0.05</text>
<line x1="761.5" y1="1139.4" x2="771.9" y2="1139.4" stroke="#15100c" stroke-width="1.65"/>
<line x1="1231.8" y1="1139.4" x2="1242.2" y2="1139.4" stroke="#15100c" stroke-width="1.65"/>
<text x="756.1" y="1144.85" font-size="19.1" text-anchor="end">-0.10</text>
<line x1="761.5" y1="1192.1" x2="771.9" y2="1192.1" stroke="#15100c" stroke-width="1.65"/>
<line x1="1231.8" y1="1192.1" x2="1242.2" y2="1192.1" stroke="#15100c" stroke-width="1.65"/>
<text x="756.1" y="1197.55" font-size="19.1" text-anchor="end">-0.15</text>
<line x1="761.5" y1="1244.8" x2="771.9" y2="1244.8" stroke="#15100c" stroke-width="1.65"/>
<line x1="1231.8" y1="1244.8" x2="1242.2" y2="1244.8" stroke="#15100c" stroke-width="1.65"/>
<text x="756.1" y="1250.25" font-size="19.1" text-anchor="end">-0.20</text>
<line x1="761.5" y1="1297.5" x2="771.9" y2="1297.5" stroke="#15100c" stroke-width="1.65"/>
<line x1="1231.8" y1="1297.5" x2="1242.2" y2="1297.5" stroke="#15100c" stroke-width="1.65"/>
<text x="756.1" y="1302.95" font-size="19.1" text-anchor="end">-0.25</text>
<line x1="766.3" y1="1007.65" x2="771.9" y2="1007.65" stroke="#15100c" stroke-width="1.65"/>
<line x1="1236.6" y1="1007.65" x2="1242.2" y2="1007.65" stroke="#15100c" stroke-width="1.65"/>
<line x1="766.3" y1="1060.35" x2="771.9" y2="1060.35" stroke="#15100c" stroke-width="1.65"/>
<line x1="1236.6" y1="1060.35" x2="1242.2" y2="1060.35" stroke="#15100c" stroke-width="1.65"/>
<line x1="766.3" y1="1113.05" x2="771.9" y2="1113.05" stroke="#15100c" stroke-width="1.65"/>
<line x1="1236.6" y1="1113.05" x2="1242.2" y2="1113.05" stroke="#15100c" stroke-width="1.65"/>
<line x1="766.3" y1="1165.75" x2="771.9" y2="1165.75" stroke="#15100c" stroke-width="1.65"/>
<line x1="1236.6" y1="1165.75" x2="1242.2" y2="1165.75" stroke="#15100c" stroke-width="1.65"/>
<line x1="766.3" y1="1218.45" x2="771.9" y2="1218.45" stroke="#15100c" stroke-width="1.65"/>
<line x1="1236.6" y1="1218.45" x2="1242.2" y2="1218.45" stroke="#15100c" stroke-width="1.65"/>
<line x1="766.3" y1="1271.15" x2="771.9" y2="1271.15" stroke="#15100c" stroke-width="1.65"/>
<line x1="1236.6" y1="1271.15" x2="1242.2" y2="1271.15" stroke="#15100c" stroke-width="1.65"/>
<line x1="766.3" y1="1323.85" x2="771.9" y2="1323.85" stroke="#15100c" stroke-width="1.65"/>
<line x1="1236.6" y1="1323.85" x2="1242.2" y2="1323.85" stroke="#15100c" stroke-width="1.65"/>
<line x1="794.3" y1="1340.5" x2="794.3" y2="1350.9" stroke="#15100c" stroke-width="1.65"/>
<line x1="794.3" y1="1676" x2="794.3" y2="1686.4" stroke="#15100c" stroke-width="1.65"/>
<text x="794.3" y="1706.1" font-size="19.1" text-anchor="middle">0.0</text>
<line x1="845.39" y1="1340.5" x2="845.39" y2="1346.1" stroke="#15100c" stroke-width="1.65"/>
<line x1="845.39" y1="1676" x2="845.39" y2="1681.6" stroke="#15100c" stroke-width="1.65"/>
<line x1="896.47" y1="1340.5" x2="896.47" y2="1350.9" stroke="#15100c" stroke-width="1.65"/>
<line x1="896.47" y1="1676" x2="896.47" y2="1686.4" stroke="#15100c" stroke-width="1.65"/>
<text x="896.47" y="1706.1" font-size="19.1" text-anchor="middle">0.5</text>
<line x1="947.56" y1="1340.5" x2="947.56" y2="1346.1" stroke="#15100c" stroke-width="1.65"/>
<line x1="947.56" y1="1676" x2="947.56" y2="1681.6" stroke="#15100c" stroke-width="1.65"/>
<line x1="998.65" y1="1340.5" x2="998.65" y2="1350.9" stroke="#15100c" stroke-width="1.65"/>
<line x1="998.65" y1="1676" x2="998.65" y2="1686.4" stroke="#15100c" stroke-width="1.65"/>
<text x="998.65" y="1706.1" font-size="19.1" text-anchor="middle">1.0</text>
<line x1="1049.74" y1="1340.5" x2="1049.74" y2="1346.1" stroke="#15100c" stroke-width="1.65"/>
<line x1="1049.74" y1="1676" x2="1049.74" y2="1681.6" stroke="#15100c" stroke-width="1.65"/>
<line x1="1100.82" y1="1340.5" x2="1100.82" y2="1350.9" stroke="#15100c" stroke-width="1.65"/>
<line x1="1100.82" y1="1676" x2="1100.82" y2="1686.4" stroke="#15100c" stroke-width="1.65"/>
<text x="1100.82" y="1706.1" font-size="19.1" text-anchor="middle">1.5</text>
<line x1="1151.91" y1="1340.5" x2="1151.91" y2="1346.1" stroke="#15100c" stroke-width="1.65"/>
<line x1="1151.91" y1="1676" x2="1151.91" y2="1681.6" stroke="#15100c" stroke-width="1.65"/>
<line x1="1203" y1="1340.5" x2="1203" y2="1350.9" stroke="#15100c" stroke-width="1.65"/>
<line x1="1203" y1="1676" x2="1203" y2="1686.4" stroke="#15100c" stroke-width="1.65"/>
<text x="1203" y="1706.1" font-size="19.1" text-anchor="middle">2.0</text>
<line x1="761.5" y1="1346.21" x2="771.9" y2="1346.21" stroke="#15100c" stroke-width="1.65"/>
<line x1="1231.8" y1="1346.21" x2="1242.2" y2="1346.21" stroke="#15100c" stroke-width="1.65"/>
<text x="756.1" y="1351.66" font-size="19.1" text-anchor="end">2.0</text>
<line x1="761.5" y1="1370.1" x2="771.9" y2="1370.1" stroke="#15100c" stroke-width="1.65"/>
<line x1="1231.8" y1="1370.1" x2="1242.2" y2="1370.1" stroke="#15100c" stroke-width="1.65"/>
<text x="756.1" y="1375.55" font-size="19.1" text-anchor="end">0.0</text>
<line x1="761.5" y1="1393.99" x2="771.9" y2="1393.99" stroke="#15100c" stroke-width="1.65"/>
<line x1="1231.8" y1="1393.99" x2="1242.2" y2="1393.99" stroke="#15100c" stroke-width="1.65"/>
<text x="756.1" y="1399.44" font-size="19.1" text-anchor="end">-2.0</text>
<line x1="761.5" y1="1417.88" x2="771.9" y2="1417.88" stroke="#15100c" stroke-width="1.65"/>
<line x1="1231.8" y1="1417.88" x2="1242.2" y2="1417.88" stroke="#15100c" stroke-width="1.65"/>
<text x="756.1" y="1423.33" font-size="19.1" text-anchor="end">-4.0</text>
<line x1="761.5" y1="1441.77" x2="771.9" y2="1441.77" stroke="#15100c" stroke-width="1.65"/>
<line x1="1231.8" y1="1441.77" x2="1242.2" y2="1441.77" stroke="#15100c" stroke-width="1.65"/>
<text x="756.1" y="1447.22" font-size="19.1" text-anchor="end">-6.0</text>
<line x1="761.5" y1="1465.66" x2="771.9" y2="1465.66" stroke="#15100c" stroke-width="1.65"/>
<line x1="1231.8" y1="1465.66" x2="1242.2" y2="1465.66" stroke="#15100c" stroke-width="1.65"/>
<text x="756.1" y="1471.11" font-size="19.1" text-anchor="end">-8.0</text>
<line x1="761.5" y1="1489.55" x2="771.9" y2="1489.55" stroke="#15100c" stroke-width="1.65"/>
<line x1="1231.8" y1="1489.55" x2="1242.2" y2="1489.55" stroke="#15100c" stroke-width="1.65"/>
<text x="756.1" y="1495" font-size="19.1" text-anchor="end">-10.0</text>
<line x1="761.5" y1="1513.44" x2="771.9" y2="1513.44" stroke="#15100c" stroke-width="1.65"/>
<line x1="1231.8" y1="1513.44" x2="1242.2" y2="1513.44" stroke="#15100c" stroke-width="1.65"/>
<text x="756.1" y="1518.89" font-size="19.1" text-anchor="end">-12.0</text>
<line x1="761.5" y1="1537.33" x2="771.9" y2="1537.33" stroke="#15100c" stroke-width="1.65"/>
<line x1="1231.8" y1="1537.33" x2="1242.2" y2="1537.33" stroke="#15100c" stroke-width="1.65"/>
<text x="756.1" y="1542.78" font-size="19.1" text-anchor="end">-14.0</text>
<line x1="761.5" y1="1561.22" x2="771.9" y2="1561.22" stroke="#15100c" stroke-width="1.65"/>
<line x1="1231.8" y1="1561.22" x2="1242.2" y2="1561.22" stroke="#15100c" stroke-width="1.65"/>
<text x="756.1" y="1566.67" font-size="19.1" text-anchor="end">-16.0</text>
<line x1="761.5" y1="1585.11" x2="771.9" y2="1585.11" stroke="#15100c" stroke-width="1.65"/>
<line x1="1231.8" y1="1585.11" x2="1242.2" y2="1585.11" stroke="#15100c" stroke-width="1.65"/>
<text x="756.1" y="1590.56" font-size="19.1" text-anchor="end">-18.0</text>
<line x1="761.5" y1="1609" x2="771.9" y2="1609" stroke="#15100c" stroke-width="1.65"/>
<line x1="1231.8" y1="1609" x2="1242.2" y2="1609" stroke="#15100c" stroke-width="1.65"/>
<text x="756.1" y="1614.45" font-size="19.1" text-anchor="end">-20.0</text>
<line x1="761.5" y1="1632.89" x2="771.9" y2="1632.89" stroke="#15100c" stroke-width="1.65"/>
<line x1="1231.8" y1="1632.89" x2="1242.2" y2="1632.89" stroke="#15100c" stroke-width="1.65"/>
<text x="756.1" y="1638.34" font-size="19.1" text-anchor="end">-22.0</text>
<line x1="761.5" y1="1656.78" x2="771.9" y2="1656.78" stroke="#15100c" stroke-width="1.65"/>
<line x1="1231.8" y1="1656.78" x2="1242.2" y2="1656.78" stroke="#15100c" stroke-width="1.65"/>
<text x="756.1" y="1662.23" font-size="19.1" text-anchor="end">-24.0</text>
<line x1="766.3" y1="1358.15" x2="771.9" y2="1358.15" stroke="#15100c" stroke-width="1.65"/>
<line x1="1236.6" y1="1358.15" x2="1242.2" y2="1358.15" stroke="#15100c" stroke-width="1.65"/>
<line x1="766.3" y1="1382.04" x2="771.9" y2="1382.04" stroke="#15100c" stroke-width="1.65"/>
<line x1="1236.6" y1="1382.04" x2="1242.2" y2="1382.04" stroke="#15100c" stroke-width="1.65"/>
<line x1="766.3" y1="1405.93" x2="771.9" y2="1405.93" stroke="#15100c" stroke-width="1.65"/>
<line x1="1236.6" y1="1405.93" x2="1242.2" y2="1405.93" stroke="#15100c" stroke-width="1.65"/>
<line x1="766.3" y1="1429.82" x2="771.9" y2="1429.82" stroke="#15100c" stroke-width="1.65"/>
<line x1="1236.6" y1="1429.82" x2="1242.2" y2="1429.82" stroke="#15100c" stroke-width="1.65"/>
<line x1="766.3" y1="1453.71" x2="771.9" y2="1453.71" stroke="#15100c" stroke-width="1.65"/>
<line x1="1236.6" y1="1453.71" x2="1242.2" y2="1453.71" stroke="#15100c" stroke-width="1.65"/>
<line x1="766.3" y1="1477.61" x2="771.9" y2="1477.61" stroke="#15100c" stroke-width="1.65"/>
<line x1="1236.6" y1="1477.61" x2="1242.2" y2="1477.61" stroke="#15100c" stroke-width="1.65"/>
<line x1="766.3" y1="1501.49" x2="771.9" y2="1501.49" stroke="#15100c" stroke-width="1.65"/>
<line x1="1236.6" y1="1501.49" x2="1242.2" y2="1501.49" stroke="#15100c" stroke-width="1.65"/>
<line x1="766.3" y1="1525.38" x2="771.9" y2="1525.38" stroke="#15100c" stroke-width="1.65"/>
<line x1="1236.6" y1="1525.38" x2="1242.2" y2="1525.38" stroke="#15100c" stroke-width="1.65"/>
<line x1="766.3" y1="1549.27" x2="771.9" y2="1549.27" stroke="#15100c" stroke-width="1.65"/>
<line x1="1236.6" y1="1549.27" x2="1242.2" y2="1549.27" stroke="#15100c" stroke-width="1.65"/>
<line x1="766.3" y1="1573.16" x2="771.9" y2="1573.16" stroke="#15100c" stroke-width="1.65"/>
<line x1="1236.6" y1="1573.16" x2="1242.2" y2="1573.16" stroke="#15100c" stroke-width="1.65"/>
<line x1="766.3" y1="1597.05" x2="771.9" y2="1597.05" stroke="#15100c" stroke-width="1.65"/>
<line x1="1236.6" y1="1597.05" x2="1242.2" y2="1597.05" stroke="#15100c" stroke-width="1.65"/>
<line x1="766.3" y1="1620.94" x2="771.9" y2="1620.94" stroke="#15100c" stroke-width="1.65"/>
<line x1="1236.6" y1="1620.94" x2="1242.2" y2="1620.94" stroke="#15100c" stroke-width="1.65"/>
<line x1="766.3" y1="1644.84" x2="771.9" y2="1644.84" stroke="#15100c" stroke-width="1.65"/>
<line x1="1236.6" y1="1644.84" x2="1242.2" y2="1644.84" stroke="#15100c" stroke-width="1.65"/>
<line x1="766.3" y1="1668.72" x2="771.9" y2="1668.72" stroke="#15100c" stroke-width="1.65"/>
<line x1="1236.6" y1="1668.72" x2="1242.2" y2="1668.72" stroke="#15100c" stroke-width="1.65"/>
<text x="1007.1" y="952.9" font-size="26.1" text-anchor="middle">Time (min)</text>
<text x="1006.2" y="1745.8" font-size="25.75" text-anchor="middle">Molar Ratio</text>
<text x="695.7" y="1236.7" font-size="25.8" transform="rotate(-90 695.7 1236.7)">µcal/sec</text>
<text x="695.3" y="1647.3" font-size="25.5" transform="rotate(-90 695.3 1647.3)">kcal mol<tspan font-size="16.3" dy="-13.7">-1</tspan><tspan dy="13.7"> of injectant</tspan></text>
<text transform="translate(704 949.6) scale(1.0 1)" font-size="48" font-weight="bold">D</text>
<text x="1017.4" y="1301.9" font-size="39.9">GGGGS5</text>
<path d="M780 1035.64 L780.8 1039.68 L781.6 1031.57 L782.4 1037.34 L783.2 1034.42 L784 1032.88 L784.8 1031.66 L785.6 1032.11 L786.4 1033.78 L787.2 1035.53 L788 1036.36 L788.8 1035.71 L789.6 1031.77 L790.4 1032.13 L791.2 1037.24 L792 1035.98 L792.8 1038.03 L793.6 1036.21 L794.4 1032.43 L795.2 1036.14 L796 1035.25 L796.8 1034.46 L797.6 1031.18 L798.4 1034.02 L799.2 1034.07 L799.9 1035.73 L800 1035.97 L800.1 1035.79 L800.3 1035.45 L800.5 1035.1 L800.7 1034.75 L800.8 1034.58 L800.9 1034.85 L801.1 1038.31 L801.3 1044.15 L801.5 1051.13 L801.6 1054.68 L801.7 1058 L801.9 1064.72 L802.05 1069.81 L802.1 1071.52 L802.3 1078.38 L802.4 1081.83 L802.5 1085.54 L802.7 1093 L802.9 1100.5 L803.1 1079.56 L803.2 1072.81 L803.3 1067.55 L803.5 1060.09 L803.7 1055.07 L803.9 1051.45 L804 1049.98 L804.1 1048.56 L804.2 1047.28 L804.3 1046.12 L804.5 1044.09 L804.7 1042.37 L804.8 1041.6 L804.9 1040.96 L805.1 1039.83 L805.3 1038.27 L805.5 1037.37 L805.6 1036.96 L805.7 1037.11 L805.9 1037.49 L806.1 1037.94 L806.3 1038.47 L806.4 1038.76 L806.5 1038.5 L806.7 1038.01 L806.9 1037.56 L807.1 1037.15 L807.2 1036.95 L807.3 1036.72 L807.5 1036.27 L807.7 1035.84 L807.9 1035.43 L808 1035.23 L808.1 1035.38 L808.3 1035.69 L808.5 1036.01 L808.7 1036.35 L808.8 1036.52 L808.9 1036.13 L809.1 1035.35 L809.3 1034.59 L809.5 1033.82 L809.6 1033.44 L809.7 1033.6 L809.9 1033.91 L810.1 1034.23 L810.3 1034.55 L810.4 1034.71 L810.5 1034.47 L810.7 1034 L810.9 1033.52 L811.1 1033.05 L811.2 1032.81 L811.3 1032.97 L811.5 1033.29 L811.7 1033.61 L812 1034.08 L812.8 1037.15 L813.6 1033.38 L814.4 1035.46 L815.2 1032.45 L816 1033.65 L816.8 1031.84 L817.6 1034.25 L818.4 1034.69 L819.2 1033.92 L820 1033.84 L820.8 1036.21 L821.6 1036.44 L821.8 1034.82 L822 1033.21 L822.2 1031.59 L822.4 1043.1 L822.6 1066.42 L822.8 1090.58 L823 1115.23 L823.2 1140.23 L823.4 1164.61 L823.6 1189.22 L823.75 1207.8 L823.8 1214.02 L824 1238.98 L824.2 1264.65 L824.4 1290.44 L824.6 1316.36 L824.8 1242.91 L825 1195.59 L825.2 1163.75 L825.4 1141.28 L825.6 1124.62 L825.8 1111.66 L825.9 1106.19 L826 1101.25 L826.2 1092.63 L826.4 1085.36 L826.6 1078.79 L826.8 1073.05 L827 1068.01 L827.2 1063.56 L827.4 1060 L827.6 1056.87 L827.8 1054.12 L828 1051.71 L828.2 1049.72 L828.4 1048 L828.6 1046.5 L828.8 1045.21 L829 1043.77 L829.2 1042.49 L829.4 1041.34 L829.6 1040.32 L829.8 1039.55 L830 1038.07 L830.2 1037.54 L830.4 1037.08 L830.6 1037.05 L830.8 1037.08 L831 1037.16 L831.2 1037.29 L831.4 1037.11 L831.6 1036.97 L831.8 1036.86 L832 1036.78 L832.2 1036.17 L832.4 1035.58 L832.6 1035 L832.8 1034.45 L833 1034.43 L833.2 1034.42 L833.4 1034.43 L833.6 1034.45 L834.4 1034.14 L835.2 1033.73 L836 1033.68 L836.8 1032.91 L837.6 1035.89 L838.4 1034.92 L839.2 1034.51 L840 1035.35 L840.8 1035.34 L841.6 1037.08 L842.4 1034.41 L843.2 1034.04 L843.4 1034.27 L843.6 1034.5 L843.8 1034.73 L844 1034.96 L844.2 1044.23 L844.4 1065.9 L844.6 1088.38 L844.8 1111.32 L845 1135.07 L845.2 1159.09 L845.4 1183.32 L845.55 1201.62 L845.6 1207.74 L845.8 1232.01 L846 1256.41 L846.2 1280.95 L846.4 1305.6 L846.6 1237.14 L846.8 1192.34 L847 1161.8 L847.2 1140.02 L847.4 1123.76 L847.6 1111.1 L847.7 1105.74 L847.8 1100.89 L848 1092.42 L848.2 1085.46 L848.4 1079.5 L848.6 1074.34 L848.8 1069.85 L849 1065.84 L849.2 1062.31 L849.4 1059.2 L849.6 1056.45 L849.8 1053.93 L850 1051.69 L850.2 1049.7 L850.4 1047.93 L850.6 1046.3 L850.8 1044.85 L851 1043.54 L851.2 1042.37 L851.4 1041.23 L851.6 1040.2 L851.8 1038.33 L852 1037.1 L852.2 1037.67 L852.4 1038.32 L852.6 1039.02 L852.8 1039.77 L853 1038.84 L853.2 1037.95 L853.4 1037.1 L853.6 1036.28 L853.8 1035.93 L854 1035.6 L854.2 1035.29 L854.4 1035.01 L854.6 1035.97 L854.8 1036.94 L855 1037.93 L855.2 1038.93 L856 1036.32 L856.8 1032.98 L857.6 1035.06 L858.4 1034.45 L859.2 1036.39 L860 1031.52 L860.8 1034.27 L861.6 1034.33 L862.4 1036.67 L863.2 1032.13 L864 1029.09 L864.8 1031.7 L864.9 1032.11 L865.1 1032.92 L865.3 1033.73 L865.5 1034.54 L865.6 1034.94 L865.7 1043.88 L865.9 1064.59 L866.1 1086.06 L866.3 1107.97 L866.4 1119.05 L866.5 1130.2 L866.7 1152.67 L866.9 1175.35 L867.05 1192.48 L867.1 1198.21 L867.2 1209.69 L867.3 1221.05 L867.5 1243.85 L867.7 1266.78 L867.9 1289.82 L868 1256.16 L868.1 1228.78 L868.3 1187.72 L868.5 1159.11 L868.7 1138.37 L868.8 1130.04 L868.9 1122.95 L869.1 1111.12 L869.2 1106.13 L869.3 1101.63 L869.5 1093.8 L869.6 1090.37 L869.7 1087.02 L869.9 1081.01 L870.1 1075.77 L870.3 1071.15 L870.4 1069.04 L870.5 1067.07 L870.7 1063.47 L870.9 1060.27 L871.1 1057.4 L871.2 1056.08 L871.3 1054.9 L871.5 1052.73 L871.7 1050.79 L871.9 1049.07 L872 1048.28 L872.1 1047.68 L872.3 1046.59 L872.5 1045.66 L872.7 1044.86 L872.8 1044.51 L872.9 1043.74 L873.1 1042.29 L873.3 1040.94 L873.5 1039.67 L873.6 1037.79 L873.7 1037.48 L873.9 1036.93 L874.1 1036.44 L874.3 1036 L874.4 1035.8 L874.5 1035.82 L874.7 1035.89 L874.9 1035.99 L875.1 1036.14 L875.2 1036.22 L875.3 1036.08 L875.5 1035.83 L875.7 1035.6 L875.9 1035.39 L876 1035.29 L876.1 1035.04 L876.3 1034.55 L876.5 1034.08 L876.7 1033.63 L876.8 1033.4 L877.6 1032.56 L878.4 1034.34 L879.2 1035.86 L880 1034.88 L880.8 1035.02 L881.6 1035.85 L882.4 1026.77 L883.2 1030.75 L884 1032.35 L884.8 1031.85 L885.6 1032.26 L886.4 1033.66 L886.7 1032.8 L886.9 1032.23 L887.1 1031.66 L887.2 1031.37 L887.3 1031.56 L887.5 1041.6 L887.7 1059.78 L887.9 1078.63 L888 1088.21 L888.1 1097.68 L888.3 1116.81 L888.5 1136.17 L888.7 1155.7 L888.8 1165.53 L888.85 1170.56 L888.9 1175.6 L889.1 1195.85 L889.3 1216.22 L889.5 1236.69 L889.6 1246.96 L889.7 1257.34 L889.9 1208.43 L890.1 1174.51 L890.3 1150.34 L890.4 1140.81 L890.5 1132.29 L890.7 1118.25 L890.9 1107.14 L891 1102.4 L891.1 1098.09 L891.2 1094.15 L891.3 1090.73 L891.5 1084.67 L891.7 1079.47 L891.9 1074.94 L892 1072.88 L892.1 1070.92 L892.3 1067.34 L892.5 1064.14 L892.7 1061.29 L892.8 1059.97 L892.9 1058.63 L893.1 1056.13 L893.3 1053.86 L893.5 1051.81 L893.6 1050.85 L893.7 1050.08 L893.9 1048.67 L894.1 1047.42 L894.3 1046.3 L894.4 1045.78 L894.5 1045.19 L894.7 1044.07 L894.9 1043.06 L895.1 1042.14 L895.2 1041.71 L895.3 1041.39 L895.5 1040.79 L895.7 1041.05 L895.9 1040.76 L896 1040.64 L896.1 1040.14 L896.3 1039.17 L896.5 1038.25 L896.7 1037.37 L896.8 1036.94 L896.9 1036.6 L897.1 1035.95 L897.3 1035.32 L897.5 1034.72 L897.6 1034.43 L897.7 1034.41 L897.9 1034.4 L898.1 1034.4 L898.3 1034.42 L898.4 1034.44 L898.5 1034.46 L899.2 1034.72 L900 1036 L900.8 1034.49 L901.6 1033.99 L902.4 1034.37 L903.2 1037.98 L904 1033.24 L904.8 1036.66 L905.6 1031.84 L906.4 1032.91 L907.2 1035.55 L908 1034.89 L908.2 1033.95 L908.4 1033.01 L908.6 1032.08 L908.8 1031.14 L909 1039.94 L909.2 1054.73 L909.4 1070.06 L909.6 1085.7 L909.8 1101.26 L910 1117 L910.2 1132.89 L910.35 1144.88 L910.4 1148.89 L910.6 1165.34 L910.8 1181.88 L911 1198.51 L911.2 1215.22 L911.4 1180.83 L911.6 1155.58 L911.8 1136.68 L912 1122.22 L912.2 1110.72 L912.4 1101.48 L912.5 1097.5 L912.6 1093.88 L912.8 1087.49 L913 1082.39 L913.2 1077.99 L913.4 1074.16 L913.6 1070.79 L913.8 1067.51 L914 1064.56 L914.2 1061.88 L914.4 1059.44 L914.6 1057.36 L914.8 1055.46 L915 1053.74 L915.2 1052.16 L915.4 1050.72 L915.6 1049.41 L915.8 1048.21 L916 1047.11 L916.2 1045.98 L916.4 1044.94 L916.6 1043.97 L916.8 1043.08 L917 1042.47 L917.2 1041.92 L917.4 1041.42 L917.6 1040.97 L917.8 1041.62 L918 1041.29 L918.2 1041 L918.4 1040.74 L918.6 1040.09 L918.8 1039.48 L919 1038.89 L919.2 1038.32 L919.4 1038.78 L919.6 1039.25 L919.8 1039.75 L920 1040.26 L920.8 1035.4 L921.6 1032.81 L922.4 1034.1 L923.2 1034.88 L924 1034.2 L924.8 1036.06 L925.6 1035.55 L926.4 1034.16 L927.2 1034.21 L928 1032.88 L928.8 1036.42 L929.6 1034.42 L929.8 1034.05 L930 1033.68 L930.2 1033.31 L930.4 1032.94 L930.6 1037.3 L930.8 1047.56 L931 1057.45 L931.2 1067.54 L931.4 1077.9 L931.6 1088.37 L931.8 1098.94 L931.95 1106.92 L932 1109.59 L932.2 1120.7 L932.4 1131.86 L932.6 1143.08 L932.8 1154.35 L933 1135.57 L933.2 1120.82 L933.4 1109.09 L933.6 1099.64 L933.8 1091.68 L934 1085.02 L934.1 1082.09 L934.2 1079.37 L934.4 1074.49 L934.6 1071.27 L934.8 1068.52 L935 1066.16 L935.2 1064.11 L935.4 1061.96 L935.6 1060.03 L935.8 1058.28 L936 1056.69 L936.2 1055.24 L936.4 1053.91 L936.6 1052.69 L936.8 1051.56 L937 1050.3 L937.2 1049.13 L937.4 1048.02 L937.6 1046.99 L937.8 1046.03 L938 1045.13 L938.2 1044.28 L938.4 1043.48 L938.6 1042.99 L938.8 1042.54 L939 1042.14 L939.2 1041.76 L939.4 1041.14 L939.6 1040.55 L939.8 1039.99 L940 1039.04 L940.2 1038.04 L940.4 1037.07 L940.6 1036.12 L940.8 1035.19 L941 1035.45 L941.2 1035.73 L941.4 1036.03 L941.6 1036.35 L942.4 1035.69 L943.2 1037.61 L944 1037.31 L944.8 1033.4 L945.6 1035.04 L946.4 1034.55 L947.2 1032.13 L948 1030.62 L948.8 1034.17 L949.6 1034.27 L950.4 1032.95 L951.2 1029.48 L952 1034.06 L952.6 1033.85 L952.8 1032.33 L953 1030.84 L953.4 1027.87 L953.6 1031.76 L953.8 1035.79 L954 1039.81 L954.2 1045.68 L954.4 1051.54 L954.6 1057.19 L954.7 1060.02 L955 1057.02 L955.2 1055.02 L955.4 1053.48 L955.8 1050.39 L956 1048.85 L956.2 1048.02 L956.6 1046.37 L956.8 1045.55 L957 1044.78 L957.4 1043.26 L957.6 1042.5 L957.8 1041.97 L958 1041.43 L958.2 1041.3 L958.4 1041.16 L958.6 1040.78 L959 1040.01 L959.2 1039.62 L959.4 1038.96 L959.8 1037.63 L960 1036.97 L960.2 1036.95 L960.6 1036.91 L960.8 1036.89 L961 1036.53 L961.4 1036.1 L961.6 1035.88 L961.8 1035.1 L962.2 1033.55 L962.4 1032.77 L962.6 1033.06 L963 1033.63 L963.2 1033.91 L963.4 1034.14 L963.8 1034.6 L964 1034.83 L964.8 1033.57 L965.6 1036.98 L966.4 1037.51 L967.2 1033.58 L968 1035.28 L968.8 1037.38 L969.6 1033.53 L970.4 1031.41 L971.2 1033.38 L972 1031.67 L972.8 1031.93 L973.3 1033.67 L973.5 1034.36 L973.6 1034.71 L973.7 1034.67 L973.9 1034.58 L974.1 1034.5 L974.3 1034.41 L974.4 1034.37 L974.5 1034.48 L974.7 1034.71 L974.9 1034.94 L975.1 1036.15 L975.2 1037.43 L975.3 1038.71 L975.45 1040.66 L975.5 1041.32 L975.7 1042.86 L975.9 1045.44 L976 1046.75 L976.1 1047.93 L976.3 1050.31 L976.5 1045.05 L976.7 1041.96 L976.8 1040.86 L976.9 1040.09 L977.1 1038.94 L977.3 1038.23 L977.5 1037.72 L977.6 1037.52 L977.7 1037.24 L977.9 1036.76 L978.1 1036.35 L978.3 1036 L978.4 1035.85 L978.5 1035.67 L978.7 1035.34 L978.9 1035.05 L979.1 1034.78 L979.2 1034.66 L979.3 1034.49 L979.5 1034.18 L979.7 1033.89 L979.9 1033.61 L980 1033.48 L980.1 1033.74 L980.3 1034.26 L980.5 1034.8 L980.7 1035.35 L980.8 1035.62 L980.9 1035.42 L981.1 1035.02 L981.3 1034.62 L981.5 1034.23 L981.6 1034.03 L981.7 1034.14 L981.9 1034.36 L982.1 1034.57 L982.3 1034.79 L982.4 1034.91 L982.5 1035.06 L982.7 1035.36 L982.9 1035.66 L983.1 1035.97 L983.2 1036.12 L983.3 1036.08 L983.5 1035.99 L983.7 1035.9 L983.9 1035.81 L984 1035.76 L984.1 1035.34 L984.3 1034.51 L984.5 1033.67 L984.7 1032.83 L984.8 1032.41 L984.9 1032.52 L985.1 1032.73 L985.6 1033.26 L986.4 1033.61 L987.2 1034.66 L988 1036.29 L988.8 1033.11 L989.6 1033.73 L990.4 1034.67 L991.2 1036.79 L992 1036.99 L992.8 1031.17 L993.6 1034.31 L994.4 1033.55 L995 1036.52 L995.2 1037.5 L995.4 1037.02 L995.6 1036.54 L995.8 1036.06 L996 1035.57 L996.2 1035.25 L996.4 1034.93 L996.6 1034.6 L996.8 1035.45 L997 1037.86 L997.15 1039.73 L997.2 1040.27 L997.4 1042.86 L997.6 1045.5 L997.8 1048.31 L998 1051.14 L998.2 1045.89 L998.4 1042.93 L998.6 1041.11 L998.8 1041.16 L999 1040.5 L999.2 1040.05 L999.3 1039.34 L999.4 1038.67 L999.6 1037.38 L999.8 1036.18 L1000 1035.03 L1000.2 1034.91 L1000.4 1034.83 L1000.6 1034.78 L1000.8 1034.76 L1001 1034.8 L1001.2 1034.85 L1001.4 1034.93 L1001.6 1035.02 L1001.8 1034.89 L1002 1034.77 L1002.2 1034.66 L1002.4 1034.56 L1002.6 1034.79 L1002.8 1035.03 L1003 1035.28 L1003.2 1035.53 L1003.4 1034.77 L1003.6 1034.02 L1003.8 1033.26 L1004 1032.51 L1004.2 1032.6 L1004.4 1032.7 L1004.6 1032.79 L1004.8 1032.89 L1005 1032.18 L1005.2 1031.46 L1005.4 1030.75 L1005.6 1030.04 L1005.8 1030.97 L1006 1031.89 L1006.2 1032.81 L1006.4 1033.74 L1006.6 1034.26 L1006.8 1034.79 L1007.2 1035.84 L1008 1030.72 L1008.8 1033.05 L1009.6 1035.76 L1010.4 1033.71 L1011.2 1030.99 L1012 1037.93 L1012.8 1031.89 L1013.6 1036.76 L1014.4 1033.37 L1015.2 1033.15 L1016 1034.46 L1016.2 1034.49 L1016.4 1034.51 L1016.6 1034.54 L1016.8 1034.56 L1017 1034.81 L1017.2 1035.05 L1017.4 1035.3 L1017.6 1035.54 L1017.8 1035.56 L1018 1036.6 L1018.15 1037.5 L1018.2 1037.8 L1018.4 1039.03 L1018.6 1040.04 L1018.8 1041.07 L1019 1041.52 L1019.2 1039.41 L1019.4 1038.77 L1019.6 1038.67 L1019.8 1038.84 L1020 1039.16 L1020.2 1038.52 L1020.3 1038.22 L1020.4 1037.94 L1020.6 1037.4 L1020.8 1036.9 L1021 1036.58 L1021.2 1036.28 L1021.4 1036.01 L1021.6 1035.74 L1021.8 1035.6 L1022 1035.46 L1022.2 1035.33 L1022.4 1035.22 L1022.6 1035.09 L1022.8 1034.98 L1023 1034.87 L1023.2 1034.76 L1023.4 1034.63 L1023.6 1034.51 L1023.8 1034.39 L1024 1034.27 L1024.2 1034.55 L1024.4 1034.84 L1024.6 1035.13 L1024.8 1035.42 L1025 1035.37 L1025.2 1035.31 L1025.4 1035.26 L1025.6 1035.2 L1025.8 1035.05 L1026 1034.89 L1026.2 1034.73 L1026.4 1034.57 L1026.6 1035.27 L1026.8 1035.98 L1027 1036.68 L1027.2 1037.38 L1027.4 1036.53 L1027.6 1035.67 L1027.8 1034.82 L1028 1033.97 L1028.8 1034.99 L1029.6 1035.91 L1030.4 1032.64 L1031.2 1034.38 L1032 1037.78 L1032.8 1033.12 L1033.6 1036.46 L1034.4 1032.69 L1035.2 1035.05 L1036 1032.83 L1036.8 1032.69 L1037.6 1033.83 L1038.4 1033.27 L1039.2 1035.81 L1040 1035.37 L1040.8 1035.35 L1041.6 1034.62 L1042.4 1036.97 L1043.2 1035.85 L1044 1034.71 L1044.8 1032.48 L1045.6 1035.22 L1046.4 1035.18 L1047.2 1034.18 L1048 1035.36 L1048.8 1035.45 L1049.6 1033.68 L1050.4 1034.89 L1051.2 1034.24 L1052 1034.5 L1052.8 1033.73 L1053.6 1033.34 L1054.4 1034.64 L1055.2 1037 L1056 1038.73 L1056.8 1034.1 L1057.6 1032.92 L1058.4 1033.97 L1059.2 1032.86 L1060 1033.3 L1060.8 1034.82 L1061.6 1032.63 L1062.4 1034.94 L1063.2 1035.22 L1064 1036.51 L1064.8 1037.17 L1065.6 1035.86 L1066.4 1038.2 L1067.2 1033.55 L1068 1035.27 L1068.8 1034.76 L1069.6 1036.1 L1070.4 1037.75 L1071.2 1033.55 L1072 1037.18 L1072.8 1038.47 L1073.6 1034.83 L1074.4 1035.04 L1075.2 1032.27 L1076 1029.65 L1076.8 1033.71 L1077.6 1035.14 L1078.4 1034.75 L1079.2 1032.42 L1080 1032.73 L1080.8 1037.16 L1081.6 1035.56 L1082.4 1035.64 L1083.2 1034.24 L1084 1036.22 L1084.8 1037.01 L1085.6 1037.32 L1086.4 1034.13 L1087.2 1035.62 L1088 1033.21 L1088.8 1034.11 L1089.6 1035.12 L1090.4 1033.27 L1091.2 1033.44 L1092 1036.76 L1092.8 1033.81 L1093.6 1035.08 L1094.4 1033.08 L1095.2 1029.75 L1096 1033.45 L1096.8 1033.09 L1097.6 1030.48 L1098.4 1031.63 L1099.2 1032.66 L1100 1035.81 L1100.8 1032.47 L1101.6 1033.71 L1102.4 1034.99 L1103.2 1034.45 L1104 1033.4 L1104.8 1036.66 L1105.6 1036.11 L1106.4 1026.33 L1107.2 1036.12 L1108 1035.41 L1108.8 1036.21 L1109.6 1034.64 L1110.4 1035.91 L1111.2 1037.91 L1112 1037.65 L1112.8 1037.64 L1113.6 1036.57 L1114.4 1036.24 L1115.2 1036.55 L1116 1033.03 L1116.8 1038.89 L1117.6 1035.44 L1118.4 1035.3 L1119.2 1034.86 L1120 1035.39 L1120.8 1027.38 L1121.6 1034.53 L1122.4 1032.02 L1123.2 1032.48 L1124 1031.04 L1124.8 1031.52 L1125.6 1035.74 L1126.4 1033.96 L1127.2 1034.73 L1128 1035.04 L1128.8 1033.23 L1129.6 1033.95 L1130.4 1031.41 L1131.2 1035.03 L1132 1031.67 L1132.8 1034.61 L1133.6 1036.85 L1134.4 1037.44 L1135.2 1037.27 L1136 1037.17 L1136.8 1034.08 L1137.6 1037.12 L1138.4 1037.11 L1139.2 1035.73 L1140 1033.13 L1140.8 1035.98 L1141.6 1037.63 L1142.4 1036.02 L1143.2 1034.12 L1144 1035.07 L1144.8 1033.87 L1145.6 1034.07 L1146.4 1035.45 L1147.2 1034.59 L1148 1034.05 L1148.8 1034.88 L1149.6 1032.68 L1150.4 1032.47 L1151.2 1035.42 L1152 1032.99 L1152.8 1035.8 L1153.6 1031.61 L1154.4 1036.77 L1155.2 1034.36 L1156 1037.79 L1156.8 1030.71 L1157.6 1032.1 L1158.4 1037 L1159.2 1034.78 L1160 1035.34 L1160.8 1034.88 L1161.6 1035.4 L1162.4 1036.64 L1163.2 1031.74 L1164 1034.61 L1164.8 1037.22 L1165.6 1035.36 L1166.4 1034.31 L1167.2 1035.53 L1168 1037.33 L1168.8 1035.11 L1169.6 1034.53 L1170.4 1035.76 L1171.2 1036.55 L1172 1037.4 L1172.8 1034.62 L1173.6 1035.21 L1174.4 1035.77 L1175.2 1030.89 L1176 1034.21 L1176.8 1034.92 L1177.6 1034.15 L1178.4 1032.78 L1179.2 1035.34 L1180 1036.46 L1180.8 1034.14 L1181.6 1033.21 L1182.4 1034.1 L1183.2 1037.26 L1184 1036.79 L1184.8 1034.43 L1185.6 1032.57 L1186.4 1032.07 L1187.2 1033.44 L1188 1033.81 L1188.8 1034.83 L1189.6 1032.56 L1190.4 1034.34 L1191.2 1035.73 L1192 1031.86 L1192.8 1038.57 L1193.6 1035.74 L1194.4 1035.25 L1195.2 1032.53 L1196 1032.89 L1196.8 1036.46 L1197.6 1036.35 L1198.4 1027.1 L1199.2 1037.16 L1200 1036.21 L1200.8 1036.32 L1201.6 1033.43 L1202.4 1035.33 L1203.2 1034.11 L1204 1036.36 L1204.8 1038.05 L1205.6 1035.92 L1206.4 1036.31 L1207.2 1034.29 L1208 1031.29 L1208.8 1034.43 L1209.6 1036.57 L1210.4 1039.17 L1211.2 1033.98 L1212 1034.69 L1212.8 1033.8 L1213.6 1031.95 L1214.4 1034.84 L1215.2 1035.02 L1216 1034.01 L1216.8 1034.12 L1217.6 1031.68 L1218.4 1035.02 L1219.2 1039.56 L1220 1034.9 L1220.8 1035.54 L1221.6 1036.19 L1222.4 1034 L1223.2 1035.37 L1224 1033.88 L1224.8 1040.07 L1225.6 1035.36 L1226.4 1033.16 L1227.2 1032.25 L1228 1037.78 L1228.8 1036.2 L1229.6 1035.64 L1230.4 1032.86 L1231.2 1033.29 L1232 1032.92 L1232.8 1036.7" fill="none" stroke="#15100c" stroke-width="1.15" stroke-linejoin="round"/>
<polyline points="803.8,1648.5 933.3,1648 966.5,1647.5 999.8,1629.5 1033.6,1398 1067.3,1371.6 1101.6,1370.4 1209.9,1370" fill="none" stroke="#15100c" stroke-width="1.1" stroke-linejoin="round"/>
<path d="M830.85 1646.25h10.3v10.3h-10.3zM863.05 1642.65h10.3v10.3h-10.3zM895.65 1641.35h10.3v10.3h-10.3zM928.15 1634.65h10.3v10.3h-10.3zM961.35 1647.25h10.3v10.3h-10.3zM994.65 1624.35h10.3v10.3h-10.3zM1028.45 1391.85h10.3v10.3h-10.3zM1062.15 1375.95h10.3v10.3h-10.3zM1096.45 1364.05h10.3v10.3h-10.3zM1106.95 1375.45h10.3v10.3h-10.3zM1117.85 1373.05h10.3v10.3h-10.3zM1128.55 1374.65h10.3v10.3h-10.3zM1139.35 1376.45h10.3v10.3h-10.3zM1150.25 1358.55h10.3v10.3h-10.3zM1160.95 1399.15h10.3v10.3h-10.3zM1171.85 1384.25h10.3v10.3h-10.3zM1182.75 1370.05h10.3v10.3h-10.3zM1193.55 1373.85h10.3v10.3h-10.3zM1204.75 1363.25h10.3v10.3h-10.3z" fill="#0a0805"/>
<rect x="1455.2" y="1340.45" width="470.3" height="335.55" fill="none" stroke="#15100c" stroke-width="1.6"/>
<rect x="1455.2" y="1005" width="470.45" height="335.45" fill="none" stroke="#15100c" stroke-width="1.9"/>
<line x1="1463.2" y1="1065.9" x2="1924.5" y2="1065.9" stroke="#ea5450" stroke-width="1.3"/>
<line x1="1463.2" y1="1005" x2="1463.2" y2="1015.4" stroke="#15100c" stroke-width="1.65"/>
<text x="1463.2" y="990.3" font-size="19.1" text-anchor="middle">0</text>
<line x1="1517.15" y1="1005" x2="1517.15" y2="1010.6" stroke="#15100c" stroke-width="1.65"/>
<line x1="1571.1" y1="1005" x2="1571.1" y2="1015.4" stroke="#15100c" stroke-width="1.65"/>
<text x="1571.1" y="990.3" font-size="19.1" text-anchor="middle">10</text>
<line x1="1625.05" y1="1005" x2="1625.05" y2="1010.6" stroke="#15100c" stroke-width="1.65"/>
<line x1="1679" y1="1005" x2="1679" y2="1015.4" stroke="#15100c" stroke-width="1.65"/>
<text x="1679" y="990.3" font-size="19.1" text-anchor="middle">20</text>
<line x1="1732.95" y1="1005" x2="1732.95" y2="1010.6" stroke="#15100c" stroke-width="1.65"/>
<line x1="1786.9" y1="1005" x2="1786.9" y2="1015.4" stroke="#15100c" stroke-width="1.65"/>
<text x="1786.9" y="990.3" font-size="19.1" text-anchor="middle">30</text>
<line x1="1840.85" y1="1005" x2="1840.85" y2="1010.6" stroke="#15100c" stroke-width="1.65"/>
<line x1="1894.8" y1="1005" x2="1894.8" y2="1015.4" stroke="#15100c" stroke-width="1.65"/>
<text x="1894.8" y="990.3" font-size="19.1" text-anchor="middle">40</text>
<line x1="1444.8" y1="1009.45" x2="1455.2" y2="1009.45" stroke="#15100c" stroke-width="1.65"/>
<line x1="1915.1" y1="1009.45" x2="1925.5" y2="1009.45" stroke="#15100c" stroke-width="1.65"/>
<text x="1439.4" y="1014.9" font-size="19.1" text-anchor="end">0.05</text>
<line x1="1444.8" y1="1066.1" x2="1455.2" y2="1066.1" stroke="#15100c" stroke-width="1.65"/>
<line x1="1915.1" y1="1066.1" x2="1925.5" y2="1066.1" stroke="#15100c" stroke-width="1.65"/>
<text x="1439.4" y="1071.55" font-size="19.1" text-anchor="end">0.00</text>
<line x1="1444.8" y1="1122.75" x2="1455.2" y2="1122.75" stroke="#15100c" stroke-width="1.65"/>
<line x1="1915.1" y1="1122.75" x2="1925.5" y2="1122.75" stroke="#15100c" stroke-width="1.65"/>
<text x="1439.4" y="1128.2" font-size="19.1" text-anchor="end">-0.05</text>
<line x1="1444.8" y1="1179.4" x2="1455.2" y2="1179.4" stroke="#15100c" stroke-width="1.65"/>
<line x1="1915.1" y1="1179.4" x2="1925.5" y2="1179.4" stroke="#15100c" stroke-width="1.65"/>
<text x="1439.4" y="1184.85" font-size="19.1" text-anchor="end">-0.10</text>
<line x1="1444.8" y1="1236.05" x2="1455.2" y2="1236.05" stroke="#15100c" stroke-width="1.65"/>
<line x1="1915.1" y1="1236.05" x2="1925.5" y2="1236.05" stroke="#15100c" stroke-width="1.65"/>
<text x="1439.4" y="1241.5" font-size="19.1" text-anchor="end">-0.15</text>
<line x1="1444.8" y1="1292.7" x2="1455.2" y2="1292.7" stroke="#15100c" stroke-width="1.65"/>
<line x1="1915.1" y1="1292.7" x2="1925.5" y2="1292.7" stroke="#15100c" stroke-width="1.65"/>
<text x="1439.4" y="1298.15" font-size="19.1" text-anchor="end">-0.20</text>
<line x1="1449.6" y1="1037.77" x2="1455.2" y2="1037.77" stroke="#15100c" stroke-width="1.65"/>
<line x1="1919.9" y1="1037.77" x2="1925.5" y2="1037.77" stroke="#15100c" stroke-width="1.65"/>
<line x1="1449.6" y1="1094.42" x2="1455.2" y2="1094.42" stroke="#15100c" stroke-width="1.65"/>
<line x1="1919.9" y1="1094.42" x2="1925.5" y2="1094.42" stroke="#15100c" stroke-width="1.65"/>
<line x1="1449.6" y1="1151.07" x2="1455.2" y2="1151.07" stroke="#15100c" stroke-width="1.65"/>
<line x1="1919.9" y1="1151.07" x2="1925.5" y2="1151.07" stroke="#15100c" stroke-width="1.65"/>
<line x1="1449.6" y1="1207.72" x2="1455.2" y2="1207.72" stroke="#15100c" stroke-width="1.65"/>
<line x1="1919.9" y1="1207.72" x2="1925.5" y2="1207.72" stroke="#15100c" stroke-width="1.65"/>
<line x1="1449.6" y1="1264.38" x2="1455.2" y2="1264.38" stroke="#15100c" stroke-width="1.65"/>
<line x1="1919.9" y1="1264.38" x2="1925.5" y2="1264.38" stroke="#15100c" stroke-width="1.65"/>
<line x1="1449.6" y1="1321.02" x2="1455.2" y2="1321.02" stroke="#15100c" stroke-width="1.65"/>
<line x1="1919.9" y1="1321.02" x2="1925.5" y2="1321.02" stroke="#15100c" stroke-width="1.65"/>
<line x1="1477.7" y1="1340.45" x2="1477.7" y2="1350.85" stroke="#15100c" stroke-width="1.65"/>
<line x1="1477.7" y1="1676" x2="1477.7" y2="1686.4" stroke="#15100c" stroke-width="1.65"/>
<text x="1477.7" y="1706.1" font-size="19.1" text-anchor="middle">0.0</text>
<line x1="1538.98" y1="1340.45" x2="1538.98" y2="1346.05" stroke="#15100c" stroke-width="1.65"/>
<line x1="1538.98" y1="1676" x2="1538.98" y2="1681.6" stroke="#15100c" stroke-width="1.65"/>
<line x1="1600.25" y1="1340.45" x2="1600.25" y2="1350.85" stroke="#15100c" stroke-width="1.65"/>
<line x1="1600.25" y1="1676" x2="1600.25" y2="1686.4" stroke="#15100c" stroke-width="1.65"/>
<text x="1600.25" y="1706.1" font-size="19.1" text-anchor="middle">0.5</text>
<line x1="1661.53" y1="1340.45" x2="1661.53" y2="1346.05" stroke="#15100c" stroke-width="1.65"/>
<line x1="1661.53" y1="1676" x2="1661.53" y2="1681.6" stroke="#15100c" stroke-width="1.65"/>
<line x1="1722.8" y1="1340.45" x2="1722.8" y2="1350.85" stroke="#15100c" stroke-width="1.65"/>
<line x1="1722.8" y1="1676" x2="1722.8" y2="1686.4" stroke="#15100c" stroke-width="1.65"/>
<text x="1722.8" y="1706.1" font-size="19.1" text-anchor="middle">1.0</text>
<line x1="1784.08" y1="1340.45" x2="1784.08" y2="1346.05" stroke="#15100c" stroke-width="1.65"/>
<line x1="1784.08" y1="1676" x2="1784.08" y2="1681.6" stroke="#15100c" stroke-width="1.65"/>
<line x1="1845.35" y1="1340.45" x2="1845.35" y2="1350.85" stroke="#15100c" stroke-width="1.65"/>
<line x1="1845.35" y1="1676" x2="1845.35" y2="1686.4" stroke="#15100c" stroke-width="1.65"/>
<text x="1845.35" y="1706.1" font-size="19.1" text-anchor="middle">1.5</text>
<line x1="1906.62" y1="1340.45" x2="1906.62" y2="1346.05" stroke="#15100c" stroke-width="1.65"/>
<line x1="1906.62" y1="1676" x2="1906.62" y2="1681.6" stroke="#15100c" stroke-width="1.65"/>
<line x1="1444.8" y1="1354.75" x2="1455.2" y2="1354.75" stroke="#15100c" stroke-width="1.65"/>
<line x1="1915.1" y1="1354.75" x2="1925.5" y2="1354.75" stroke="#15100c" stroke-width="1.65"/>
<text x="1439.4" y="1360.2" font-size="19.1" text-anchor="end">2.0</text>
<line x1="1444.8" y1="1378.2" x2="1455.2" y2="1378.2" stroke="#15100c" stroke-width="1.65"/>
<line x1="1915.1" y1="1378.2" x2="1925.5" y2="1378.2" stroke="#15100c" stroke-width="1.65"/>
<text x="1439.4" y="1383.65" font-size="19.1" text-anchor="end">0.0</text>
<line x1="1444.8" y1="1401.65" x2="1455.2" y2="1401.65" stroke="#15100c" stroke-width="1.65"/>
<line x1="1915.1" y1="1401.65" x2="1925.5" y2="1401.65" stroke="#15100c" stroke-width="1.65"/>
<text x="1439.4" y="1407.1" font-size="19.1" text-anchor="end">-2.0</text>
<line x1="1444.8" y1="1425.1" x2="1455.2" y2="1425.1" stroke="#15100c" stroke-width="1.65"/>
<line x1="1915.1" y1="1425.1" x2="1925.5" y2="1425.1" stroke="#15100c" stroke-width="1.65"/>
<text x="1439.4" y="1430.55" font-size="19.1" text-anchor="end">-4.0</text>
<line x1="1444.8" y1="1448.55" x2="1455.2" y2="1448.55" stroke="#15100c" stroke-width="1.65"/>
<line x1="1915.1" y1="1448.55" x2="1925.5" y2="1448.55" stroke="#15100c" stroke-width="1.65"/>
<text x="1439.4" y="1454" font-size="19.1" text-anchor="end">-6.0</text>
<line x1="1444.8" y1="1472" x2="1455.2" y2="1472" stroke="#15100c" stroke-width="1.65"/>
<line x1="1915.1" y1="1472" x2="1925.5" y2="1472" stroke="#15100c" stroke-width="1.65"/>
<text x="1439.4" y="1477.45" font-size="19.1" text-anchor="end">-8.0</text>
<line x1="1444.8" y1="1495.45" x2="1455.2" y2="1495.45" stroke="#15100c" stroke-width="1.65"/>
<line x1="1915.1" y1="1495.45" x2="1925.5" y2="1495.45" stroke="#15100c" stroke-width="1.65"/>
<text x="1439.4" y="1500.9" font-size="19.1" text-anchor="end">-10.0</text>
<line x1="1444.8" y1="1518.9" x2="1455.2" y2="1518.9" stroke="#15100c" stroke-width="1.65"/>
<line x1="1915.1" y1="1518.9" x2="1925.5" y2="1518.9" stroke="#15100c" stroke-width="1.65"/>
<text x="1439.4" y="1524.35" font-size="19.1" text-anchor="end">-12.0</text>
<line x1="1444.8" y1="1542.35" x2="1455.2" y2="1542.35" stroke="#15100c" stroke-width="1.65"/>
<line x1="1915.1" y1="1542.35" x2="1925.5" y2="1542.35" stroke="#15100c" stroke-width="1.65"/>
<text x="1439.4" y="1547.8" font-size="19.1" text-anchor="end">-14.0</text>
<line x1="1444.8" y1="1565.8" x2="1455.2" y2="1565.8" stroke="#15100c" stroke-width="1.65"/>
<line x1="1915.1" y1="1565.8" x2="1925.5" y2="1565.8" stroke="#15100c" stroke-width="1.65"/>
<text x="1439.4" y="1571.25" font-size="19.1" text-anchor="end">-16.0</text>
<line x1="1444.8" y1="1589.25" x2="1455.2" y2="1589.25" stroke="#15100c" stroke-width="1.65"/>
<line x1="1915.1" y1="1589.25" x2="1925.5" y2="1589.25" stroke="#15100c" stroke-width="1.65"/>
<text x="1439.4" y="1594.7" font-size="19.1" text-anchor="end">-18.0</text>
<line x1="1444.8" y1="1612.7" x2="1455.2" y2="1612.7" stroke="#15100c" stroke-width="1.65"/>
<line x1="1915.1" y1="1612.7" x2="1925.5" y2="1612.7" stroke="#15100c" stroke-width="1.65"/>
<text x="1439.4" y="1618.15" font-size="19.1" text-anchor="end">-20.0</text>
<line x1="1444.8" y1="1636.15" x2="1455.2" y2="1636.15" stroke="#15100c" stroke-width="1.65"/>
<line x1="1915.1" y1="1636.15" x2="1925.5" y2="1636.15" stroke="#15100c" stroke-width="1.65"/>
<text x="1439.4" y="1641.6" font-size="19.1" text-anchor="end">-22.0</text>
<line x1="1444.8" y1="1659.6" x2="1455.2" y2="1659.6" stroke="#15100c" stroke-width="1.65"/>
<line x1="1915.1" y1="1659.6" x2="1925.5" y2="1659.6" stroke="#15100c" stroke-width="1.65"/>
<text x="1439.4" y="1665.05" font-size="19.1" text-anchor="end">-24.0</text>
<line x1="1449.6" y1="1343.03" x2="1455.2" y2="1343.03" stroke="#15100c" stroke-width="1.65"/>
<line x1="1919.9" y1="1343.03" x2="1925.5" y2="1343.03" stroke="#15100c" stroke-width="1.65"/>
<line x1="1449.6" y1="1366.48" x2="1455.2" y2="1366.48" stroke="#15100c" stroke-width="1.65"/>
<line x1="1919.9" y1="1366.48" x2="1925.5" y2="1366.48" stroke="#15100c" stroke-width="1.65"/>
<line x1="1449.6" y1="1389.92" x2="1455.2" y2="1389.92" stroke="#15100c" stroke-width="1.65"/>
<line x1="1919.9" y1="1389.92" x2="1925.5" y2="1389.92" stroke="#15100c" stroke-width="1.65"/>
<line x1="1449.6" y1="1413.38" x2="1455.2" y2="1413.38" stroke="#15100c" stroke-width="1.65"/>
<line x1="1919.9" y1="1413.38" x2="1925.5" y2="1413.38" stroke="#15100c" stroke-width="1.65"/>
<line x1="1449.6" y1="1436.83" x2="1455.2" y2="1436.83" stroke="#15100c" stroke-width="1.65"/>
<line x1="1919.9" y1="1436.83" x2="1925.5" y2="1436.83" stroke="#15100c" stroke-width="1.65"/>
<line x1="1449.6" y1="1460.28" x2="1455.2" y2="1460.28" stroke="#15100c" stroke-width="1.65"/>
<line x1="1919.9" y1="1460.28" x2="1925.5" y2="1460.28" stroke="#15100c" stroke-width="1.65"/>
<line x1="1449.6" y1="1483.73" x2="1455.2" y2="1483.73" stroke="#15100c" stroke-width="1.65"/>
<line x1="1919.9" y1="1483.73" x2="1925.5" y2="1483.73" stroke="#15100c" stroke-width="1.65"/>
<line x1="1449.6" y1="1507.17" x2="1455.2" y2="1507.17" stroke="#15100c" stroke-width="1.65"/>
<line x1="1919.9" y1="1507.17" x2="1925.5" y2="1507.17" stroke="#15100c" stroke-width="1.65"/>
<line x1="1449.6" y1="1530.62" x2="1455.2" y2="1530.62" stroke="#15100c" stroke-width="1.65"/>
<line x1="1919.9" y1="1530.62" x2="1925.5" y2="1530.62" stroke="#15100c" stroke-width="1.65"/>
<line x1="1449.6" y1="1554.08" x2="1455.2" y2="1554.08" stroke="#15100c" stroke-width="1.65"/>
<line x1="1919.9" y1="1554.08" x2="1925.5" y2="1554.08" stroke="#15100c" stroke-width="1.65"/>
<line x1="1449.6" y1="1577.53" x2="1455.2" y2="1577.53" stroke="#15100c" stroke-width="1.65"/>
<line x1="1919.9" y1="1577.53" x2="1925.5" y2="1577.53" stroke="#15100c" stroke-width="1.65"/>
<line x1="1449.6" y1="1600.98" x2="1455.2" y2="1600.98" stroke="#15100c" stroke-width="1.65"/>
<line x1="1919.9" y1="1600.98" x2="1925.5" y2="1600.98" stroke="#15100c" stroke-width="1.65"/>
<line x1="1449.6" y1="1624.42" x2="1455.2" y2="1624.42" stroke="#15100c" stroke-width="1.65"/>
<line x1="1919.9" y1="1624.42" x2="1925.5" y2="1624.42" stroke="#15100c" stroke-width="1.65"/>
<line x1="1449.6" y1="1647.88" x2="1455.2" y2="1647.88" stroke="#15100c" stroke-width="1.65"/>
<line x1="1919.9" y1="1647.88" x2="1925.5" y2="1647.88" stroke="#15100c" stroke-width="1.65"/>
<line x1="1449.6" y1="1671.33" x2="1455.2" y2="1671.33" stroke="#15100c" stroke-width="1.65"/>
<line x1="1919.9" y1="1671.33" x2="1925.5" y2="1671.33" stroke="#15100c" stroke-width="1.65"/>
<text x="1690.4" y="952.9" font-size="26.1" text-anchor="middle">Time (min)</text>
<text x="1689.5" y="1745.8" font-size="25.75" text-anchor="middle">Molar Ratio</text>
<text x="1379" y="1236.7" font-size="25.8" transform="rotate(-90 1379 1236.7)">µcal/sec</text>
<text x="1378.6" y="1647.2" font-size="25.5" transform="rotate(-90 1378.6 1647.2)">kcal mol<tspan font-size="16.3" dy="-13.7">-1</tspan><tspan dy="13.7"> of injectant</tspan></text>
<text transform="translate(1373.1 948.8) scale(1.0 1)" font-size="48" font-weight="bold">F</text>
<text x="1715" y="1301.5" font-size="39.9">GGGGS6</text>
<path d="M1463.5 1066.51 L1464.3 1065.01 L1465.1 1067 L1465.9 1066.31 L1466.7 1064.34 L1467.5 1068.07 L1468.3 1066.76 L1469.1 1067.73 L1469.9 1069.55 L1470.7 1067.44 L1471.5 1065.66 L1472.3 1065.72 L1473.1 1067.95 L1473.9 1064.18 L1474.7 1066.78 L1475.5 1066.73 L1476.3 1064.55 L1477.1 1066.43 L1477.9 1067.09 L1478.7 1065.22 L1479.5 1065.81 L1480.3 1067.29 L1481.1 1063.05 L1481.9 1065.17 L1482.7 1067.86 L1483.2 1067.14 L1483.4 1066.86 L1483.5 1066.71 L1483.6 1066.44 L1483.8 1065.88 L1484 1065.33 L1484.2 1064.78 L1484.3 1064.5 L1484.4 1064.75 L1484.6 1067.36 L1484.8 1073.51 L1485 1079.32 L1485.1 1082.27 L1485.2 1085.39 L1485.35 1090.11 L1485.4 1091.69 L1485.6 1098.05 L1485.8 1104.47 L1485.9 1107.7 L1486 1110.4 L1486.2 1115.83 L1486.4 1098.49 L1486.6 1088.78 L1486.7 1085.43 L1486.8 1083.16 L1487 1079.83 L1487.2 1077.51 L1487.4 1075.8 L1487.5 1075.11 L1487.6 1074.35 L1487.8 1073.06 L1488 1073.15 L1488.2 1072.26 L1488.3 1071.88 L1488.4 1071.35 L1488.6 1070.38 L1488.8 1069.51 L1489 1068.72 L1489.1 1068.35 L1489.2 1068.33 L1489.4 1068.34 L1489.6 1068.39 L1489.8 1068.48 L1489.9 1068.54 L1490 1068.16 L1490.2 1067.41 L1490.4 1066.68 L1490.6 1065.98 L1490.7 1065.63 L1490.8 1066.12 L1491 1067.11 L1491.2 1068.1 L1491.4 1069.11 L1491.5 1069.61 L1491.6 1069.58 L1491.8 1069.51 L1492 1069.46 L1492.2 1069.4 L1492.3 1069.38 L1492.4 1068.82 L1492.6 1067.7 L1492.8 1066.58 L1493 1065.47 L1493.1 1064.91 L1493.2 1065.14 L1493.4 1065.59 L1493.6 1066.05 L1493.8 1066.51 L1493.9 1066.74 L1494 1066.81 L1494.2 1066.95 L1494.4 1067.08 L1494.6 1067.22 L1494.7 1067.29 L1494.8 1067.17 L1495 1066.94 L1495.5 1066.34 L1496.3 1067.83 L1497.1 1065.74 L1497.9 1067.81 L1498.7 1066.31 L1499.5 1067.08 L1500.3 1067.47 L1501.1 1067.76 L1501.9 1065.2 L1502.7 1067.62 L1503.5 1067.73 L1504.3 1066.2 L1505.1 1068.96 L1505.2 1068.56 L1505.4 1067.75 L1505.6 1066.94 L1505.8 1066.14 L1505.9 1065.74 L1506 1075.29 L1506.2 1095.49 L1506.4 1116.45 L1506.6 1137.84 L1506.7 1148.65 L1506.8 1159.59 L1507 1181.64 L1507.2 1203.9 L1507.35 1220.7 L1507.4 1226.32 L1507.5 1237.59 L1507.6 1248.79 L1507.8 1271.29 L1508 1293.91 L1508.2 1316.64 L1508.3 1277.61 L1508.4 1247.3 L1508.6 1204.27 L1508.8 1176.07 L1509 1156.52 L1509.1 1148.86 L1509.2 1142.01 L1509.4 1130.62 L1509.5 1125.8 L1509.6 1121.44 L1509.8 1113.84 L1509.9 1110.5 L1510 1107.58 L1510.2 1102.41 L1510.4 1097.99 L1510.6 1094.19 L1510.7 1092.5 L1510.8 1090.66 L1511 1087.33 L1511.2 1084.38 L1511.4 1081.77 L1511.5 1080.58 L1511.6 1079.61 L1511.8 1077.85 L1512 1076.31 L1512.2 1074.97 L1512.3 1074.36 L1512.4 1073.93 L1512.6 1073.19 L1512.8 1072.57 L1513 1073.26 L1513.1 1073.29 L1513.2 1072.57 L1513.4 1071.19 L1513.6 1069.89 L1513.8 1068.65 L1513.9 1068.05 L1514 1068.25 L1514.2 1068.68 L1514.4 1069.16 L1514.6 1069.67 L1514.7 1069.94 L1514.8 1069.5 L1515 1068.64 L1515.2 1067.8 L1515.4 1066.98 L1515.5 1066.58 L1515.6 1066.76 L1515.8 1067.13 L1516 1067.52 L1516.2 1067.92 L1516.3 1068.12 L1516.4 1068.2 L1516.6 1068.36 L1516.8 1068.53 L1517 1068.71 L1517.1 1068.8 L1517.9 1066.84 L1518.7 1063.8 L1519.5 1065.86 L1520.3 1068.05 L1521.1 1066.41 L1521.9 1066.98 L1522.7 1066.21 L1523.5 1066.36 L1524.3 1065.67 L1525.1 1064.34 L1525.9 1066.37 L1526.5 1066.08 L1526.7 1065.99 L1526.9 1065.36 L1527.1 1064.73 L1527.3 1074.35 L1527.5 1093.56 L1527.7 1113.95 L1527.9 1134.75 L1528.1 1155.86 L1528.3 1177.2 L1528.5 1198.63 L1528.65 1214.82 L1528.7 1220.23 L1528.9 1241.97 L1529.1 1263.84 L1529.3 1285.77 L1529.5 1307.81 L1529.7 1241.19 L1529.9 1199.68 L1530.1 1171.79 L1530.3 1152.21 L1530.5 1137.65 L1530.7 1126.28 L1530.8 1121.88 L1530.9 1117.92 L1531.1 1111.07 L1531.3 1105.35 L1531.5 1100.51 L1531.7 1096.13 L1531.9 1092.35 L1532.1 1089.07 L1532.3 1086.23 L1532.5 1083.84 L1532.7 1081.77 L1532.9 1079.98 L1533.1 1078.44 L1533.3 1076.71 L1533.5 1075.17 L1533.7 1073.79 L1533.9 1072.55 L1534.1 1071.54 L1534.3 1071.14 L1534.5 1070.83 L1534.7 1070.61 L1534.9 1069.81 L1535.1 1069.07 L1535.3 1068.38 L1535.5 1067.75 L1535.7 1067.57 L1535.9 1067.43 L1536.1 1067.33 L1536.3 1067.25 L1536.5 1067.01 L1536.7 1066.8 L1536.9 1066.6 L1537.1 1066.42 L1537.3 1066.66 L1537.5 1066.92 L1537.7 1067.19 L1537.9 1067.47 L1538.1 1067.19 L1538.3 1066.91 L1538.7 1066.38 L1539.5 1067.21 L1540.3 1066.45 L1541.1 1067.62 L1541.9 1068.85 L1542.7 1066.34 L1543.5 1065.46 L1544.3 1065.75 L1545.1 1065.41 L1545.9 1061.89 L1546.7 1066.59 L1547.5 1065.96 L1548.1 1067.45 L1548.3 1067.94 L1548.5 1067.63 L1548.7 1067.32 L1548.9 1074.92 L1549.1 1093.25 L1549.3 1112.5 L1549.5 1132.14 L1549.7 1152.07 L1549.9 1172.22 L1550.1 1192.41 L1550.25 1207.66 L1550.3 1212.76 L1550.5 1233.24 L1550.7 1253.85 L1550.9 1274.44 L1551.1 1295.14 L1551.3 1233.64 L1551.5 1194.58 L1551.7 1168.69 L1551.9 1150.52 L1552.1 1137.1 L1552.3 1126.71 L1552.4 1122.32 L1552.5 1118.35 L1552.7 1111.43 L1552.9 1105.58 L1553.1 1100.58 L1553.3 1096.25 L1553.5 1092.48 L1553.7 1089.19 L1553.9 1086.31 L1554.1 1084.03 L1554.3 1082.05 L1554.5 1080.35 L1554.7 1078.88 L1554.9 1077.24 L1555.1 1075.77 L1555.3 1074.47 L1555.5 1073.3 L1555.7 1072.4 L1555.9 1071.51 L1556.1 1070.75 L1556.3 1070.07 L1556.5 1069.48 L1556.7 1068.95 L1556.9 1068.48 L1557.1 1068.06 L1557.3 1068.5 L1557.5 1068.97 L1557.7 1069.48 L1557.9 1070.02 L1558.1 1069.14 L1558.3 1068.28 L1558.5 1067.45 L1558.7 1066.63 L1558.9 1066.74 L1559.1 1066.86 L1559.3 1066.99 L1559.5 1067.13 L1559.7 1066.72 L1559.9 1066.33 L1560.3 1065.56 L1561.1 1066.87 L1561.9 1064.98 L1562.7 1065.12 L1563.5 1060.49 L1564.3 1061.51 L1565.1 1066.27 L1565.9 1066.83 L1566.7 1063.43 L1567.5 1066.2 L1568.3 1066.52 L1569.1 1070.44 L1569.7 1066.28 L1569.9 1064.89 L1570.1 1065.05 L1570.3 1065.21 L1570.5 1073.87 L1570.7 1091.33 L1570.9 1109.32 L1571.1 1127.68 L1571.3 1146.3 L1571.5 1165.14 L1571.7 1184.45 L1571.85 1199.03 L1571.9 1203.91 L1572.1 1223.49 L1572.3 1243.2 L1572.5 1262.82 L1572.7 1282.55 L1572.9 1226.44 L1573.1 1190.3 L1573.3 1165.74 L1573.5 1148.32 L1573.7 1135.34 L1573.9 1125.24 L1574 1121.18 L1574.1 1117.52 L1574.3 1111.17 L1574.5 1105.85 L1574.7 1101.33 L1574.9 1097.48 L1575.1 1094.17 L1575.3 1091.3 L1575.5 1088.83 L1575.7 1085.85 L1575.9 1083.16 L1576.1 1080.73 L1576.3 1078.52 L1576.5 1077.23 L1576.7 1076.11 L1576.9 1075.14 L1577.1 1074.31 L1577.3 1073.25 L1577.5 1072.86 L1577.7 1071.7 L1577.9 1070.62 L1578.1 1070.06 L1578.3 1069.57 L1578.5 1069.13 L1578.7 1068.74 L1578.9 1068.46 L1579.1 1068.22 L1579.3 1068.02 L1579.5 1067.84 L1579.7 1067.64 L1579.9 1067.46 L1580.1 1067.3 L1580.3 1067.15 L1580.5 1066.67 L1580.7 1066.2 L1580.9 1065.75 L1581.1 1065.3 L1581.3 1065.6 L1581.5 1065.91 L1581.9 1066.54 L1582.7 1068.84 L1583.5 1065.12 L1584.3 1065.73 L1585.1 1065.28 L1585.9 1066.73 L1586.7 1065.91 L1587.5 1068.41 L1588.3 1065.61 L1589.1 1062.26 L1589.9 1066.63 L1590.7 1065.11 L1591.5 1067.61 L1591.7 1067.41 L1591.9 1067.21 L1592.1 1067.01 L1592.3 1066.81 L1592.5 1073.23 L1592.7 1088.59 L1592.9 1104.53 L1593.1 1120.81 L1593.3 1137.8 L1593.5 1154.98 L1593.7 1172.32 L1593.85 1185.42 L1593.9 1189.8 L1594.1 1207.56 L1594.3 1225.42 L1594.5 1243.38 L1594.7 1261.42 L1594.9 1212.04 L1595.1 1179.7 L1595.3 1157.65 L1595.5 1141.9 L1595.7 1130.08 L1595.9 1120.86 L1596 1116.95 L1596.1 1113.41 L1596.3 1107.21 L1596.5 1102.32 L1596.7 1098.16 L1596.9 1094.58 L1597.1 1091.47 L1597.3 1088.79 L1597.5 1086.45 L1597.7 1084.42 L1597.9 1082.65 L1598.1 1080.79 L1598.3 1079.13 L1598.5 1077.65 L1598.7 1076.33 L1598.9 1075.04 L1599.1 1073.88 L1599.3 1072.82 L1599.5 1071.51 L1599.7 1071.22 L1599.9 1071.01 L1600.1 1070.87 L1600.3 1070.79 L1600.5 1070.6 L1600.7 1070.45 L1600.9 1070.35 L1601.1 1070.29 L1601.3 1069.72 L1601.5 1069.18 L1601.7 1068.66 L1601.9 1068.17 L1602.1 1068.68 L1602.3 1069.21 L1602.5 1069.75 L1602.7 1070.31 L1602.9 1069.27 L1603.1 1068.23 L1603.3 1067.21 L1603.5 1066.2 L1604.3 1069.92 L1605.1 1070.84 L1605.9 1067.32 L1606.7 1067.04 L1607.5 1066.72 L1608.3 1065.24 L1609.1 1067.65 L1609.9 1068.36 L1610.7 1067.99 L1611.5 1067.27 L1612.3 1067.1 L1613.1 1064.55 L1613.3 1064.94 L1613.5 1065.33 L1613.7 1065.71 L1613.9 1066.1 L1614.1 1072.56 L1614.3 1086.68 L1614.5 1101.32 L1614.7 1116.27 L1614.9 1131.79 L1615.1 1147.48 L1615.3 1163.31 L1615.45 1175.26 L1615.5 1179.26 L1615.7 1194.89 L1615.9 1210.61 L1616.1 1226.42 L1616.3 1242.3 L1616.5 1200.47 L1616.7 1172.43 L1616.9 1152.98 L1617.1 1138.97 L1617.3 1128.06 L1617.5 1119.5 L1617.6 1115.86 L1617.7 1112.55 L1617.9 1106.74 L1618.1 1102.27 L1618.3 1098.45 L1618.5 1095.16 L1618.7 1092.3 L1618.9 1089.56 L1619.1 1087.13 L1619.3 1084.98 L1619.5 1083.06 L1619.7 1081.33 L1619.9 1079.79 L1620.1 1078.41 L1620.3 1077.18 L1620.5 1076.03 L1620.7 1075 L1620.9 1074.08 L1621.1 1073.25 L1621.3 1073.07 L1621.5 1071.9 L1621.7 1070.8 L1621.9 1069.76 L1622.1 1069.27 L1622.3 1068.82 L1622.5 1068.42 L1622.7 1068.06 L1622.9 1067.4 L1623.1 1066.77 L1623.3 1066.18 L1623.5 1065.6 L1623.7 1066.02 L1623.9 1066.46 L1624.1 1066.92 L1624.3 1067.39 L1624.5 1067.84 L1624.7 1068.31 L1624.9 1068.79 L1625.1 1069.27 L1625.9 1065.2 L1626.7 1069.81 L1627.5 1065.62 L1628.3 1063.15 L1629.1 1066.89 L1629.9 1068.16 L1630.7 1066.12 L1631.5 1063.85 L1632.3 1068.68 L1633.1 1064.57 L1633.9 1069.08 L1634.7 1066.67 L1635.2 1065.82 L1635.4 1065.48 L1635.5 1065.31 L1635.6 1065.42 L1635.8 1065.65 L1636 1071.15 L1636.2 1082.82 L1636.3 1088.75 L1636.4 1094.64 L1636.6 1106.59 L1636.8 1118.72 L1637 1130.99 L1637.1 1137.16 L1637.2 1143.39 L1637.35 1152.77 L1637.4 1155.9 L1637.6 1168.5 L1637.8 1181.18 L1637.9 1187.54 L1638 1194.13 L1638.2 1207.35 L1638.4 1177.96 L1638.6 1157.2 L1638.7 1149.1 L1638.8 1141.96 L1639 1130.39 L1639.2 1121.46 L1639.4 1114.36 L1639.5 1111.33 L1639.6 1108.67 L1639.8 1104.02 L1640 1100.08 L1640.2 1096.68 L1640.3 1095.16 L1640.4 1093.82 L1640.6 1091.39 L1640.8 1089.26 L1641 1087.38 L1641.1 1086.52 L1641.2 1085.62 L1641.4 1083.95 L1641.6 1082.45 L1641.8 1081.09 L1641.9 1080.47 L1642 1079.82 L1642.2 1078.61 L1642.4 1077.51 L1642.6 1076.5 L1642.7 1076.04 L1642.8 1075.64 L1643 1074.92 L1643.2 1074.26 L1643.4 1073.68 L1643.5 1073.41 L1643.6 1074.83 L1643.8 1073.56 L1644 1072.35 L1644.2 1071.18 L1644.3 1070.61 L1644.4 1070.46 L1644.6 1070.19 L1644.8 1069.96 L1645 1069.75 L1645.1 1069.66 L1645.2 1069.39 L1645.4 1068.88 L1645.6 1068.38 L1645.8 1067.91 L1645.9 1067.68 L1646 1067.19 L1646.2 1066.22 L1646.4 1065.26 L1646.6 1064.32 L1646.7 1063.85 L1646.8 1064.28 L1647 1065.14 L1647.5 1067.34 L1648.3 1067.34 L1649.1 1067.81 L1649.9 1064.03 L1650.7 1067.46 L1651.5 1065.36 L1652.3 1064.56 L1653.1 1066.05 L1653.9 1067.42 L1654.7 1065.93 L1655.5 1066.42 L1656.3 1064.57 L1656.6 1065.42 L1656.8 1065.99 L1657 1066.56 L1657.1 1066.85 L1657.2 1067.1 L1657.4 1067.61 L1657.6 1074 L1657.8 1080.6 L1657.9 1084.64 L1658 1088.48 L1658.2 1096.25 L1658.4 1104.13 L1658.6 1112.09 L1658.7 1116.1 L1658.75 1118.24 L1658.8 1120.38 L1659 1128.97 L1659.2 1137.62 L1659.4 1146.31 L1659.5 1150.68 L1659.6 1154.86 L1659.8 1139.14 L1660 1127.22 L1660.2 1118.02 L1660.3 1114.2 L1660.4 1111.03 L1660.6 1105.73 L1660.8 1101.48 L1660.9 1099.66 L1661 1098.01 L1661.1 1096.52 L1661.2 1094.92 L1661.4 1092.04 L1661.6 1089.53 L1661.8 1087.29 L1661.9 1086.26 L1662 1085.52 L1662.2 1084.18 L1662.4 1083 L1662.6 1081.95 L1662.7 1081.47 L1662.8 1080.84 L1663 1079.65 L1663.2 1079.44 L1663.4 1079.31 L1663.5 1079.28 L1663.6 1079.23 L1663.8 1079.18 L1664 1079.2 L1664.2 1079.27 L1664.3 1079.32 L1664.4 1079.56 L1664.6 1080.07 L1664.8 1080.62 L1665 1081.2 L1665.1 1081.28 L1665.2 1080.62 L1665.4 1079.34 L1665.6 1078.08 L1665.8 1076.85 L1665.9 1076.25 L1666 1076.2 L1666.2 1076.12 L1666.4 1076.06 L1666.6 1076.02 L1666.7 1076.01 L1666.8 1075.51 L1667 1074.53 L1667.2 1073.56 L1667.4 1072.61 L1667.5 1072.14 L1667.6 1072.29 L1667.8 1072.62 L1668 1072.96 L1668.2 1073.45 L1668.3 1073.7 L1668.4 1073.38 L1668.6 1072.74 L1669 1071.49 L1669.1 1071.19 L1669.4 1071.66 L1669.8 1072.32 L1669.9 1072.49 L1670.2 1071.86 L1670.6 1071.03 L1670.7 1070.83 L1671 1070.68 L1671.4 1070.49 L1671.5 1070.45 L1671.8 1069.33 L1672 1068.58 L1672.2 1067.88 L1672.3 1067.53 L1672.6 1066.97 L1673 1066.22 L1673.1 1066.04 L1673.4 1066.54 L1673.8 1067.21 L1673.9 1067.38 L1674.2 1068.32 L1674.6 1069.57 L1674.7 1069.89 L1675 1068.24 L1675.4 1066.05 L1675.5 1065.5 L1675.8 1066.67 L1676.2 1068.25 L1676.3 1068.64 L1676.6 1068.56 L1677 1068.45 L1677.1 1068.43 L1677.4 1067.46 L1677.8 1066.18 L1677.9 1065.86 L1678 1065.87 L1678.7 1066.25 L1679.5 1067.84 L1679.9 1069.45 L1680.3 1071.07 L1680.7 1073.34 L1680.8 1073.9 L1681.1 1076.82 L1681.5 1080.9 L1681.6 1081.93 L1681.9 1079.43 L1682.3 1076.37 L1682.7 1073.31 L1682.8 1072.43 L1683.1 1071.44 L1683.5 1070.1 L1683.8 1070.13 L1683.9 1071.06 L1684.3 1074.79 L1684.7 1076.29 L1685 1077.41 L1685.1 1076.66 L1685.5 1075.05 L1685.9 1073.43 L1686.3 1070.83 L1686.7 1069.93 L1687.1 1070.91 L1687.5 1071.9 L1687.9 1070.31 L1688.3 1068.73 L1688.7 1068.44 L1689 1068.23 L1689.1 1068.19 L1689.5 1067.59 L1689.9 1066.98 L1690.3 1066.35 L1690.7 1065.73 L1691.1 1065.98 L1691.5 1066.24 L1691.9 1066.68 L1692.3 1067.12 L1692.7 1066.25 L1693.1 1065.38 L1693.5 1066.52 L1693.9 1068.58 L1694.7 1064.17 L1695.5 1063.83 L1696.3 1066.75 L1697.1 1067.09 L1697.9 1065.21 L1698.7 1068.19 L1699.5 1068.84 L1700.3 1067.91 L1701.1 1064.89 L1701.9 1068.24 L1702.7 1066.42 L1703.5 1066.45 L1704.3 1067.09 L1705.1 1065.31 L1705.9 1068.49 L1706.7 1065.34 L1707.5 1068.88 L1708.3 1067.09 L1709.1 1068.61 L1709.9 1067.53 L1710.7 1067.43 L1711.5 1065.78 L1712.3 1065.72 L1713.1 1065.35 L1713.9 1067.39 L1714.7 1065.6 L1715.5 1068.47 L1716.3 1066.11 L1717.1 1064.47 L1717.9 1065.16 L1718.7 1067.71 L1719.5 1064.61 L1720.3 1066.94 L1721.1 1061.88 L1721.9 1066.93 L1722.7 1067.83 L1723.5 1067.25 L1724.3 1067.56 L1725.1 1064.67 L1725.9 1063.86 L1726.7 1064.39 L1727.5 1067.26 L1728.3 1066.61 L1729.1 1066.87 L1729.9 1064.63 L1730.7 1066.57 L1731.5 1061.68 L1732.3 1066.74 L1733.1 1065.03 L1733.9 1066.09 L1734.7 1067.51 L1735.5 1067.81 L1736.3 1066.67 L1737.1 1066.26 L1737.9 1068.76 L1738.7 1068.14 L1739.5 1065.38 L1740.3 1066.59 L1741.1 1065.79 L1741.9 1067.46 L1742.7 1066.7 L1743.5 1066.45 L1744.3 1066.22 L1745.1 1065.48 L1745.9 1067.73 L1746.7 1067.41 L1747.5 1063.4 L1748.3 1065.77 L1749.1 1066.95 L1749.9 1065.79 L1750.7 1064.48 L1751.5 1066.11 L1752.3 1067.49 L1753.1 1065.79 L1753.9 1067.06 L1754.7 1068.52 L1755.5 1067.92 L1756.3 1069.53 L1757.1 1066.18 L1757.9 1068.27 L1758.7 1066.55 L1759.5 1068.84 L1760.3 1064.77 L1761.1 1068.24 L1761.9 1065.82 L1762.7 1066.52 L1763.5 1067.75 L1764.3 1066.84 L1765.1 1066.08 L1765.9 1066.41 L1766.7 1068.03 L1767.5 1069.49 L1768.3 1067.46 L1769.1 1065.37 L1769.9 1065.64 L1770.7 1068.1 L1771.5 1067.15 L1772.3 1065.09 L1773.1 1065.48 L1773.9 1067.72 L1774.7 1068.4 L1775.5 1067.12 L1776.3 1065.38 L1777.1 1069.86 L1777.9 1067.59 L1778.7 1068.02 L1779.5 1062.07 L1780.3 1066.42 L1781.1 1067 L1781.9 1067.55 L1782.7 1066.07 L1783.5 1064.85 L1784.3 1064.52 L1785.1 1066.33 L1785.9 1066.93 L1786.7 1066.58 L1787.5 1063.67 L1788.3 1064.13 L1789.1 1065.56 L1789.9 1066.93 L1790.7 1066.66 L1791.5 1066.04 L1792.3 1063.62 L1793.1 1067.75 L1793.9 1065.89 L1794.7 1066.4 L1795.5 1065.23 L1796.3 1065.88 L1797.1 1066.1 L1797.9 1065.94 L1798.7 1065.33 L1799.5 1067.43 L1800.3 1067.62 L1801.1 1065.94 L1801.9 1065.68 L1802.7 1065.64 L1803.5 1066.35 L1804.3 1068.67 L1805.1 1066.51 L1805.9 1068.86 L1806.7 1064.22 L1807.5 1064.69 L1808.3 1064.9 L1809.1 1064.89 L1809.9 1066.79 L1810.7 1068.76 L1811.5 1065.64 L1812.3 1066.97 L1813.1 1068.63 L1813.9 1070.21 L1814.7 1067.37 L1815.5 1068.41 L1816.3 1070.37 L1817.1 1067 L1817.9 1067.36 L1818.7 1065.44 L1819.5 1065.17 L1820.3 1065.56 L1821.1 1068.06 L1821.9 1068.42 L1822.7 1066.84 L1823.5 1064.85 L1824.3 1068.31 L1825.1 1066.92 L1825.9 1068.96 L1826.7 1067.05 L1827.5 1065.22 L1828.3 1066.43 L1829.1 1066.15 L1829.9 1071.03 L1830.7 1063.5 L1831 1065.11 L1831.4 1067.98 L1831.5 1068.69 L1831.8 1070.69 L1832.2 1068.91 L1832.3 1068.47 L1832.6 1066.56 L1832.8 1065.3 L1833 1063.26 L1833.1 1062.25 L1833.4 1060.3 L1833.8 1057.71 L1833.9 1057.06 L1834.2 1054.47 L1834.4 1052.75 L1834.6 1054.8 L1834.7 1055.83 L1835 1059.07 L1835.4 1063.38 L1835.5 1064.46 L1835.6 1065.39 L1835.8 1065.53 L1836.2 1065.8 L1836.3 1065.87 L1836.6 1066.13 L1837 1066.47 L1837.1 1066.72 L1837.9 1068.1 L1838.7 1066.06 L1839.5 1066.69 L1840.3 1066.91 L1841.1 1066.44 L1841.9 1066.96 L1842.7 1065.45 L1843.5 1066.16 L1844.3 1065.5 L1845.1 1066.54 L1845.9 1066.72 L1846.7 1065.25 L1847.5 1068.03 L1848.3 1068.58 L1849.1 1066.85 L1849.9 1066.12 L1850.7 1065.18 L1851.5 1065.89 L1852.3 1065.9 L1853.1 1067.47 L1853.9 1066.3 L1854.7 1067.51 L1855.5 1067.53 L1856.3 1066.24 L1857.1 1065.11 L1857.9 1065.35 L1858.7 1065.25 L1859.5 1066.72 L1860.3 1067.95 L1861.1 1065.25 L1861.9 1067.1 L1862.7 1066.27 L1863.5 1068.09 L1864.3 1069.4 L1865.1 1068.81 L1865.9 1066.49 L1866.7 1067.28 L1867.5 1067.89 L1868.3 1065.73 L1869.1 1065.09 L1869.9 1066.17 L1870.7 1067.74 L1871.5 1064.55 L1872.3 1067.46 L1873.1 1067.14 L1873.9 1065.76 L1874.7 1064.86 L1875.5 1063.81 L1876.3 1063.15 L1877.1 1066.54 L1877.9 1067.31 L1878.6 1065.94 L1878.7 1063.74 L1879 1057.46 L1879.4 1049.08 L1879.5 1046.98 L1879.6 1044.86 L1879.8 1039.04 L1880.2 1027.4 L1880.3 1032.99 L1880.6 1050.45 L1881 1080.53 L1881.1 1077.56 L1881.4 1067.18 L1881.6 1060.27 L1881.8 1056.31 L1881.9 1054.32 L1882.2 1049.1 L1882.4 1045.61 L1882.6 1048.34 L1882.7 1049.7 L1883 1054.35 L1883.4 1060.55 L1883.5 1062.59 L1883.8 1067.72 L1884.2 1074.56 L1884.3 1074.98 L1884.6 1077.17 L1885 1080.09 L1885.1 1080.83 L1885.3 1081.64 L1885.4 1081.1 L1885.8 1078.96 L1885.9 1078.43 L1886.2 1077.86 L1886.6 1077.11 L1886.7 1076.92 L1886.8 1076.57 L1887 1076.09 L1887.4 1075.12 L1887.5 1074.87 L1887.8 1073.72 L1888.2 1072.18 L1888.3 1071.8 L1888.6 1071.14 L1889 1070.27 L1889.1 1070.18 L1889.4 1069.61 L1889.8 1068.86 L1889.9 1068.67 L1890.2 1068.73 L1890.6 1068.81 L1890.7 1068.83 L1891 1068.28 L1891.4 1067.54 L1891.5 1067.36 L1891.8 1066.83 L1892.2 1066.12 L1892.3 1065.95 L1892.6 1065.88 L1893.1 1066.77 L1893.9 1067.04 L1894.7 1066.18 L1895.5 1065.27 L1896.3 1067.58 L1897.1 1065.17 L1897.9 1064.9 L1898.7 1065.71 L1899.5 1067.02 L1900.3 1065.67 L1901.1 1065.15 L1901.9 1064.68 L1902.7 1065.18 L1903.5 1065.51 L1904.3 1069.44 L1905.1 1064.11 L1905.9 1065.85 L1906.7 1066.51 L1907.5 1065.17 L1908.3 1064.85 L1909.1 1067.25 L1909.9 1068.16 L1910.5 1066.79 L1910.7 1060.27 L1910.9 1053.67 L1911.3 1040.48 L1911.5 1033.88 L1911.7 1041.95 L1911.9 1050.03 L1912.1 1061.92 L1912.3 1073.81 L1912.4 1079.85 L1912.5 1078.82 L1912.9 1074.7 L1913.1 1072.64 L1913.3 1069.91 L1913.7 1067.54 L1913.9 1066.36 L1914.1 1066.03 L1914.5 1065.37 L1914.7 1065.09 L1915.5 1068.41 L1916.3 1067.01 L1917.1 1066.66" fill="none" stroke="#15100c" stroke-width="1.15" stroke-linejoin="round"/>
<polyline points="1487.7,1638 1650.4,1637.5 1683.6,1637.1 1717.4,1633.8 1750.9,1607.9 1779.5,1450 1785.3,1418 1796,1383.6 1806.6,1380.9 1828.2,1379.2 1871.2,1378.1 1893.4,1378.1" fill="none" stroke="#15100c" stroke-width="1.1" stroke-linejoin="round"/>
<path d="M1514.55 1632.25h10.3v10.3h-10.3zM1546.85 1630.45h10.3v10.3h-10.3zM1579.45 1624.05h10.3v10.3h-10.3zM1612.05 1632.55h10.3v10.3h-10.3zM1645.25 1626.45h10.3v10.3h-10.3zM1678.45 1647.75h10.3v10.3h-10.3zM1712.25 1629.85h10.3v10.3h-10.3zM1745.75 1601.75h10.3v10.3h-10.3zM1780.15 1411.15h10.3v10.3h-10.3zM1790.65 1372.05h10.3v10.3h-10.3zM1801.45 1396.95h10.3v10.3h-10.3zM1812.15 1359.35h10.3v10.3h-10.3zM1823.05 1369.65h10.3v10.3h-10.3zM1833.85 1387.45h10.3v10.3h-10.3zM1844.65 1388.35h10.3v10.3h-10.3zM1866.05 1376.75h10.3v10.3h-10.3zM1877.25 1384.85h10.3v10.3h-10.3zM1888.25 1358.65h10.3v10.3h-10.3z" fill="#0a0805"/>
<circle cx="869.2" cy="568.1" r="0.7" fill="#555"/>
</svg>
</body></html>
